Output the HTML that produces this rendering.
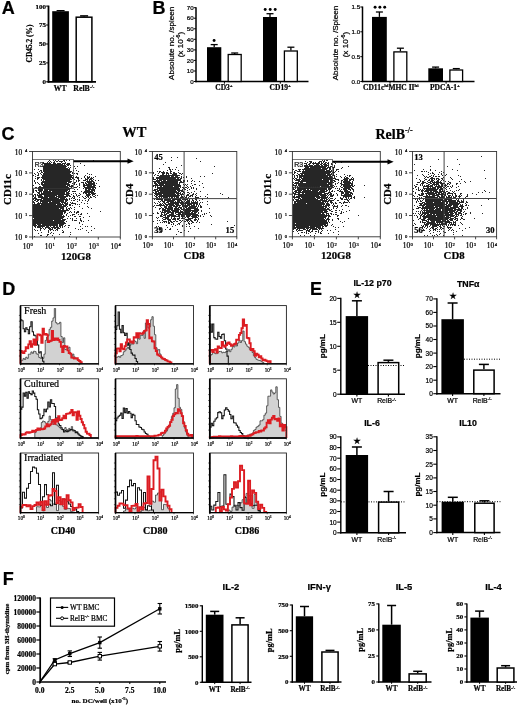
<!DOCTYPE html>
<html><head><meta charset="utf-8"><style>
html,body{margin:0;padding:0;background:#fff;width:520px;height:707px;overflow:hidden}
svg{display:block;will-change:transform}
.s{font-family:"Liberation Sans",sans-serif}
.sb{font-family:"Liberation Sans",sans-serif;font-weight:bold}
.r{font-family:"Liberation Serif",serif}
.rb{font-family:"Liberation Serif",serif;font-weight:bold}
text{stroke:#000;stroke-width:0.22px}
</style></head><body>
<svg width="520" height="707" viewBox="0 0 520 707">
<defs><filter id="bl" x="0" y="0" width="100%" height="100%"><feGaussianBlur stdDeviation="0.4"/></filter></defs>
<rect width="520" height="707" fill="#fff"/>
<g filter="url(#bl)">
<text class="sb" x="1.8" y="14.1" font-size="18">A</text>
<line x1="48.5" y1="5.6" x2="48.5" y2="82.7" stroke="#000" stroke-width="1.8"/>
<line x1="46.1" y1="6.1" x2="48.5" y2="6.1" stroke="#000" stroke-width="1"/>
<text class="rb" x="45.9" y="8.5" font-size="7" text-anchor="end">100</text>
<line x1="46.1" y1="25" x2="48.5" y2="25" stroke="#000" stroke-width="1"/>
<text class="rb" x="45.9" y="27.4" font-size="7" text-anchor="end">75</text>
<line x1="46.1" y1="44" x2="48.5" y2="44" stroke="#000" stroke-width="1"/>
<text class="rb" x="45.9" y="46.4" font-size="7" text-anchor="end">50</text>
<line x1="46.1" y1="62.9" x2="48.5" y2="62.9" stroke="#000" stroke-width="1"/>
<text class="rb" x="45.9" y="65.3" font-size="7" text-anchor="end">25</text>
<line x1="46.1" y1="81.8" x2="48.5" y2="81.8" stroke="#000" stroke-width="1"/>
<text class="rb" x="45.9" y="84.2" font-size="7" text-anchor="end">0</text>
<line x1="47.6" y1="81.8" x2="96" y2="81.8" stroke="#000" stroke-width="1.8"/>
<line x1="60.6" y1="10.6" x2="60.6" y2="11.2" stroke="#000" stroke-width="1.2"/>
<line x1="56.6" y1="10.6" x2="64.6" y2="10.6" stroke="#000" stroke-width="1.2"/>
<rect x="52.2" y="11.2" width="16.7" height="70.6" fill="#000"/>
<line x1="84.1" y1="15.9" x2="84.1" y2="16.5" stroke="#000" stroke-width="1.5"/>
<line x1="80.1" y1="15.9" x2="88.1" y2="15.9" stroke="#000" stroke-width="1.5"/>
<rect x="76.2" y="17.2" width="15.7" height="64.5" fill="#fff" stroke="#000" stroke-width="1.5"/>
<text class="rb" x="60.2" y="91.3" font-size="7.6" text-anchor="middle">WT</text>
<text class="rb" x="73.3" y="91.3" font-size="7.8">RelB<tspan dy="-3" font-size="5">-/-</tspan></text>
<text class="rb" x="32.3" y="43.5" font-size="7.4" text-anchor="middle" transform="rotate(-90 32.3 43.5)">CD45.2 (%)</text>
<text class="sb" x="152.6" y="14.1" font-size="18">B</text>
<line x1="196" y1="7.2" x2="196" y2="82.2" stroke="#000" stroke-width="1.5"/>
<line x1="193.8" y1="7.7" x2="196" y2="7.7" stroke="#000" stroke-width="1"/>
<text class="s" x="193.7" y="9.9" font-size="6.2" text-anchor="end">70</text>
<line x1="193.8" y1="18.2" x2="196" y2="18.2" stroke="#000" stroke-width="1"/>
<text class="s" x="193.7" y="20.4" font-size="6.2" text-anchor="end">60</text>
<line x1="193.8" y1="28.8" x2="196" y2="28.8" stroke="#000" stroke-width="1"/>
<text class="s" x="193.7" y="31" font-size="6.2" text-anchor="end">50</text>
<line x1="193.8" y1="39.3" x2="196" y2="39.3" stroke="#000" stroke-width="1"/>
<text class="s" x="193.7" y="41.5" font-size="6.2" text-anchor="end">40</text>
<line x1="193.8" y1="49.9" x2="196" y2="49.9" stroke="#000" stroke-width="1"/>
<text class="s" x="193.7" y="52.1" font-size="6.2" text-anchor="end">30</text>
<line x1="193.8" y1="60.4" x2="196" y2="60.4" stroke="#000" stroke-width="1"/>
<text class="s" x="193.7" y="62.6" font-size="6.2" text-anchor="end">20</text>
<line x1="193.8" y1="71" x2="196" y2="71" stroke="#000" stroke-width="1"/>
<text class="s" x="193.7" y="73.2" font-size="6.2" text-anchor="end">10</text>
<line x1="193.8" y1="81.5" x2="196" y2="81.5" stroke="#000" stroke-width="1"/>
<text class="s" x="193.7" y="83.7" font-size="6.2" text-anchor="end">0</text>
<line x1="195.2" y1="81.5" x2="308.5" y2="81.5" stroke="#000" stroke-width="1.5"/>
<line x1="214.2" y1="44.6" x2="214.2" y2="47.2" stroke="#000" stroke-width="1.3"/>
<line x1="210.7" y1="44.6" x2="217.7" y2="44.6" stroke="#000" stroke-width="1.3"/>
<rect x="207" y="47.2" width="14.3" height="34.3" fill="#000"/>
<line x1="234.7" y1="53" x2="234.7" y2="53.9" stroke="#000" stroke-width="1.3"/>
<line x1="231.2" y1="53" x2="238.2" y2="53" stroke="#000" stroke-width="1.3"/>
<rect x="228.2" y="54.5" width="13" height="27" fill="#fff" stroke="#000" stroke-width="1.3"/>
<line x1="270" y1="13.7" x2="270" y2="17" stroke="#000" stroke-width="1.3"/>
<line x1="266.5" y1="13.7" x2="273.5" y2="13.7" stroke="#000" stroke-width="1.3"/>
<rect x="263" y="17" width="14" height="64.5" fill="#000"/>
<line x1="290.9" y1="47.2" x2="290.9" y2="50.4" stroke="#000" stroke-width="1.3"/>
<line x1="287.4" y1="47.2" x2="294.4" y2="47.2" stroke="#000" stroke-width="1.3"/>
<rect x="284.4" y="51" width="12.9" height="30.5" fill="#fff" stroke="#000" stroke-width="1.3"/>
<line x1="224.4" y1="81.5" x2="224.4" y2="83.7" stroke="#000" stroke-width="1"/>
<line x1="280.3" y1="81.5" x2="280.3" y2="83.7" stroke="#000" stroke-width="1"/>
<circle cx="214.1" cy="40.5" r="1.45" fill="#000"/>
<circle cx="265.2" cy="9.5" r="1.45" fill="#000"/>
<circle cx="270.2" cy="9.5" r="1.45" fill="#000"/>
<circle cx="275.2" cy="9.5" r="1.45" fill="#000"/>
<text class="rb" x="224" y="90.3" font-size="7.5" text-anchor="middle">CD3<tspan dy="-3" font-size="5">+</tspan></text>
<text class="rb" x="280.2" y="90.3" font-size="7.5" text-anchor="middle">CD19<tspan dy="-3" font-size="5">+</tspan></text>
<text class="s" x="173.7" y="43.3" font-size="8.1" text-anchor="middle" transform="rotate(-90 173.7 43.3)" stroke="#000" stroke-width="0.25">Absolute no. /spleen</text>
<text class="s" x="183.1" y="44.6" font-size="8.1" text-anchor="middle" transform="rotate(-90 183.1 44.6)" stroke="#000" stroke-width="0.25">(x 10<tspan dy="-3" font-size="5.3">-6</tspan><tspan dy="3">)</tspan></text>
<line x1="362.5" y1="6.5" x2="362.5" y2="82.2" stroke="#000" stroke-width="1.5"/>
<line x1="360.3" y1="7" x2="362.5" y2="7" stroke="#000" stroke-width="1"/>
<text class="s" x="360.2" y="9.2" font-size="6.2" text-anchor="end">1.5</text>
<line x1="360.3" y1="31.8" x2="362.5" y2="31.8" stroke="#000" stroke-width="1"/>
<text class="s" x="360.2" y="34" font-size="6.2" text-anchor="end">1.0</text>
<line x1="360.3" y1="56.7" x2="362.5" y2="56.7" stroke="#000" stroke-width="1"/>
<text class="s" x="360.2" y="58.9" font-size="6.2" text-anchor="end">0.5</text>
<line x1="360.3" y1="81.5" x2="362.5" y2="81.5" stroke="#000" stroke-width="1"/>
<text class="s" x="360.2" y="83.7" font-size="6.2" text-anchor="end">0.0</text>
<line x1="361.8" y1="81.5" x2="474.5" y2="81.5" stroke="#000" stroke-width="1.5"/>
<line x1="379.4" y1="12" x2="379.4" y2="16.9" stroke="#000" stroke-width="1.3"/>
<line x1="375.9" y1="12" x2="382.9" y2="12" stroke="#000" stroke-width="1.3"/>
<rect x="372" y="16.9" width="14.8" height="64.6" fill="#000"/>
<line x1="400.4" y1="48.2" x2="400.4" y2="51.2" stroke="#000" stroke-width="1.3"/>
<line x1="396.9" y1="48.2" x2="403.9" y2="48.2" stroke="#000" stroke-width="1.3"/>
<rect x="393.9" y="51.9" width="12.9" height="29.6" fill="#fff" stroke="#000" stroke-width="1.3"/>
<line x1="435.6" y1="67.1" x2="435.6" y2="68.3" stroke="#000" stroke-width="1.3"/>
<line x1="432.1" y1="67.1" x2="439.1" y2="67.1" stroke="#000" stroke-width="1.3"/>
<rect x="428.3" y="68.3" width="14.7" height="13.2" fill="#000"/>
<line x1="456.3" y1="68.6" x2="456.3" y2="69.3" stroke="#000" stroke-width="1.3"/>
<line x1="452.8" y1="68.6" x2="459.8" y2="68.6" stroke="#000" stroke-width="1.3"/>
<rect x="449.9" y="70" width="12.7" height="11.5" fill="#fff" stroke="#000" stroke-width="1.3"/>
<line x1="390" y1="81.5" x2="390" y2="83.7" stroke="#000" stroke-width="1"/>
<line x1="446.1" y1="81.5" x2="446.1" y2="83.7" stroke="#000" stroke-width="1"/>
<circle cx="375.1" cy="7.2" r="1.45" fill="#000"/>
<circle cx="379.9" cy="7.2" r="1.45" fill="#000"/>
<circle cx="384.7" cy="7.2" r="1.45" fill="#000"/>
<text class="rb" x="363" y="90.3" font-size="7.5">CD11c<tspan dy="-3" font-size="5">hi</tspan><tspan dy="3">MHC II</tspan><tspan dy="-3" font-size="5">hi</tspan></text>
<text class="rb" x="445" y="90.3" font-size="7.5" text-anchor="middle">PDCA-1<tspan dy="-3" font-size="5">+</tspan></text>
<text class="s" x="337.6" y="43" font-size="8.1" text-anchor="middle" transform="rotate(-90 337.6 43)" stroke="#000" stroke-width="0.25">Absolute no. /Spleen</text>
<text class="s" x="347.6" y="44.6" font-size="8.1" text-anchor="middle" transform="rotate(-90 347.6 44.6)" stroke="#000" stroke-width="0.25">(x 10<tspan dy="-3" font-size="5.3">-6</tspan><tspan dy="3">)</tspan></text>
<text class="sb" x="1.6" y="139.6" font-size="18">C</text>
<text class="rb" x="134.4" y="137.4" font-size="14.5" text-anchor="middle">WT</text>
<text class="rb" x="394" y="138.5" font-size="14" text-anchor="middle">RelB<tspan dy="-5.5" font-size="8">-/-</tspan></text>
<path d="M49 160h1m3 0h1m1 0h1m2 0h1m4 0h1m0 0h1m1 0h1m2 0h1m23 0h1m-46 1h1m1 0h1m3 0h1m1 0h1m0 0h1m1 0h1m0 0h1m0 0h1m0 0h1m1 0h1m-22 1h1m3 0h1m1 0h1m1 0h1m1 0h1m0 0h1m6 0h1m3 0h1m-23 1h1m0 0h1m0 0h1m0 0h1m0 0h1m0 0h1m0 0h1m0 0h1m2 0h1m0 0h1m0 0h1m1 0h1m0 0h1m0 0h1m0 0h1m1 0h1m0 0h1m0 0h1m0 0h1m1 0h1m0 0h1m0 0h1m10 0h1m-37 1h1m0 0h1m0 0h1m0 0h1m0 0h1m0 0h1m0 0h1m0 0h1m0 0h1m0 0h1m0 0h1m0 0h1m0 0h1m0 0h1m0 0h1m0 0h1m0 0h1m0 0h1m0 0h1m1 0h1m1 0h1m0 0h1m0 0h1m0 0h1m-26 1h1m0 0h1m0 0h1m0 0h1m0 0h1m0 0h1m0 0h1m0 0h1m0 0h1m0 0h1m0 0h1m0 0h1m0 0h1m0 0h1m0 0h1m0 0h1m0 0h1m0 0h1m0 0h1m0 0h1m0 0h1m0 0h1m1 0h1m0 0h1m1 0h1m13 0h1m-42 1h1m0 0h1m0 0h1m0 0h1m0 0h1m0 0h1m0 0h1m0 0h1m0 0h1m0 0h1m0 0h1m0 0h1m0 0h1m0 0h1m0 0h1m0 0h1m0 0h1m0 0h1m0 0h1m0 0h1m0 0h1m0 0h1m0 0h1m0 0h1m7 0h1m2 0h1m-35 1h1m0 0h1m0 0h1m0 0h1m0 0h1m0 0h1m0 0h1m0 0h1m0 0h1m0 0h1m0 0h1m0 0h1m0 0h1m0 0h1m0 0h1m0 0h1m0 0h1m0 0h1m0 0h1m0 0h1m0 0h1m0 0h1m0 0h1m2 0h1m1 0h1m-28 1h1m0 0h1m0 0h1m0 0h1m0 0h1m0 0h1m0 0h1m0 0h1m0 0h1m0 0h1m0 0h1m0 0h1m0 0h1m0 0h1m0 0h1m0 0h1m0 0h1m0 0h1m0 0h1m0 0h1m0 0h1m0 0h1m0 0h1m0 0h1m0 0h1m1 0h1m5 0h1m-42 1h1m3 0h1m4 0h1m0 0h1m0 0h1m0 0h1m0 0h1m0 0h1m0 0h1m0 0h1m0 0h1m0 0h1m0 0h1m0 0h1m0 0h1m0 0h1m0 0h1m0 0h1m0 0h1m0 0h1m0 0h1m0 0h1m0 0h1m0 0h1m0 0h1m0 0h1m0 0h1m0 0h1m0 0h1m-30 1h1m0 0h1m1 0h1m0 0h1m0 0h1m0 0h1m0 0h1m0 0h1m0 0h1m0 0h1m0 0h1m0 0h1m0 0h1m0 0h1m0 0h1m0 0h1m0 0h1m0 0h1m0 0h1m0 0h1m0 0h1m0 0h1m0 0h1m0 0h1m0 0h1m0 0h1m0 0h1m0 0h1m0 0h1m3 0h1m2 0h1m-38 1h1m1 0h1m1 0h1m0 0h1m0 0h1m0 0h1m0 0h1m0 0h1m0 0h1m0 0h1m0 0h1m0 0h1m0 0h1m0 0h1m0 0h1m0 0h1m0 0h1m0 0h1m0 0h1m0 0h1m0 0h1m0 0h1m0 0h1m0 0h1m0 0h1m0 0h1m0 0h1m0 0h1m0 0h1m0 0h1m0 0h1m6 0h1m-42 1h1m3 0h1m0 0h1m1 0h1m0 0h1m0 0h1m0 0h1m0 0h1m0 0h1m0 0h1m0 0h1m0 0h1m0 0h1m0 0h1m0 0h1m0 0h1m0 0h1m0 0h1m0 0h1m0 0h1m0 0h1m0 0h1m0 0h1m0 0h1m0 0h1m0 0h1m0 0h1m0 0h1m0 0h1m0 0h1m1 0h1m-39 1h1m3 0h1m1 0h1m2 0h1m0 0h1m0 0h1m0 0h1m0 0h1m0 0h1m0 0h1m0 0h1m0 0h1m0 0h1m0 0h1m0 0h1m0 0h1m0 0h1m0 0h1m0 0h1m0 0h1m0 0h1m0 0h1m0 0h1m0 0h1m0 0h1m0 0h1m0 0h1m0 0h1m0 0h1m0 0h1m2 0h1m1 0h1m1 0h1m0 0h1m9 0h1m-53 1h1m2 0h1m2 0h1m1 0h1m0 0h1m0 0h1m0 0h1m0 0h1m0 0h1m0 0h1m0 0h1m0 0h1m0 0h1m0 0h1m0 0h1m0 0h1m0 0h1m0 0h1m0 0h1m0 0h1m0 0h1m0 0h1m0 0h1m0 0h1m0 0h1m0 0h1m0 0h1m0 0h1m0 0h1m0 0h1m0 0h1m6 0h1m11 0h1m1 0h1m-59 1h1m3 0h1m0 0h1m3 0h1m0 0h1m0 0h1m0 0h1m0 0h1m0 0h1m0 0h1m0 0h1m0 0h1m0 0h1m0 0h1m0 0h1m0 0h1m0 0h1m0 0h1m0 0h1m0 0h1m0 0h1m0 0h1m0 0h1m0 0h1m0 0h1m0 0h1m0 0h1m0 0h1m0 0h1m0 0h1m0 0h1m0 0h1m0 0h1m0 0h1m12 0h1m-51 1h1m6 0h1m0 0h1m0 0h1m0 0h1m0 0h1m0 0h1m0 0h1m0 0h1m0 0h1m0 0h1m0 0h1m0 0h1m0 0h1m0 0h1m0 0h1m0 0h1m0 0h1m0 0h1m0 0h1m0 0h1m0 0h1m0 0h1m0 0h1m0 0h1m0 0h1m0 0h1m0 0h1m0 0h1m0 0h1m0 0h1m1 0h1m2 0h1m7 0h1m2 0h1m1 0h1m5 0h1m-59 1h1m0 0h1m0 0h1m1 0h1m0 0h1m0 0h1m0 0h1m0 0h1m0 0h1m0 0h1m0 0h1m0 0h1m0 0h1m0 0h1m0 0h1m0 0h1m0 0h1m0 0h1m0 0h1m0 0h1m0 0h1m0 0h1m0 0h1m0 0h1m0 0h1m0 0h1m0 0h1m0 0h1m0 0h1m0 0h1m0 0h1m0 0h1m0 0h1m0 0h1m0 0h1m0 0h1m1 0h1m0 0h1m0 0h1m0 0h1m5 0h1m2 0h1m0 0h1m0 0h1m1 0h1m1 0h1m-59 1h1m1 0h1m0 0h1m3 0h1m0 0h1m0 0h1m0 0h1m0 0h1m0 0h1m0 0h1m0 0h1m0 0h1m0 0h1m0 0h1m0 0h1m0 0h1m0 0h1m0 0h1m0 0h1m0 0h1m0 0h1m0 0h1m0 0h1m0 0h1m0 0h1m0 0h1m0 0h1m0 0h1m0 0h1m0 0h1m0 0h1m0 0h1m1 0h1m0 0h1m3 0h1m0 0h1m2 0h1m3 0h1m1 0h1m0 0h1m1 0h1m0 0h1m0 0h1m-56 1h1m3 0h1m1 0h1m0 0h1m0 0h1m0 0h1m0 0h1m0 0h1m0 0h1m0 0h1m0 0h1m0 0h1m0 0h1m0 0h1m0 0h1m0 0h1m0 0h1m0 0h1m0 0h1m0 0h1m0 0h1m0 0h1m0 0h1m0 0h1m0 0h1m0 0h1m0 0h1m0 0h1m0 0h1m0 0h1m0 0h1m2 0h1m3 0h1m6 0h1m0 0h1m0 0h1m1 0h1m0 0h1m0 0h1m1 0h1m-60 1h1m6 0h1m1 0h1m1 0h1m0 0h1m0 0h1m0 0h1m0 0h1m0 0h1m0 0h1m0 0h1m0 0h1m0 0h1m0 0h1m0 0h1m0 0h1m0 0h1m0 0h1m0 0h1m0 0h1m0 0h1m0 0h1m0 0h1m0 0h1m0 0h1m0 0h1m0 0h1m0 0h1m6 0h1m1 0h1m0 0h1m3 0h1m0 0h1m0 0h1m1 0h1m1 0h1m1 0h1m0 0h1m2 0h1m2 0h1m-65 1h1m7 0h1m0 0h1m0 0h1m0 0h1m0 0h1m0 0h1m0 0h1m0 0h1m0 0h1m0 0h1m0 0h1m0 0h1m0 0h1m0 0h1m0 0h1m0 0h1m0 0h1m0 0h1m0 0h1m0 0h1m0 0h1m0 0h1m0 0h1m0 0h1m0 0h1m0 0h1m0 0h1m0 0h1m0 0h1m0 0h1m4 0h1m1 0h1m7 0h1m0 0h1m0 0h1m0 0h1m0 0h1m0 0h1m0 0h1m0 0h1m-59 1h1m1 0h1m3 0h1m0 0h1m0 0h1m0 0h1m0 0h1m0 0h1m0 0h1m0 0h1m0 0h1m0 0h1m0 0h1m0 0h1m0 0h1m0 0h1m0 0h1m0 0h1m0 0h1m0 0h1m0 0h1m0 0h1m0 0h1m0 0h1m0 0h1m0 0h1m0 0h1m0 0h1m1 0h1m0 0h1m0 0h1m3 0h1m0 0h1m5 0h1m0 0h1m0 0h1m1 0h1m1 0h1m0 0h1m0 0h1m0 0h1m0 0h1m1 0h1m0 0h1m-60 1h1m2 0h1m2 0h1m0 0h1m1 0h1m0 0h1m0 0h1m0 0h1m0 0h1m0 0h1m0 0h1m0 0h1m0 0h1m0 0h1m0 0h1m0 0h1m0 0h1m0 0h1m0 0h1m0 0h1m0 0h1m0 0h1m0 0h1m0 0h1m0 0h1m0 0h1m0 0h1m0 0h1m0 0h1m3 0h1m1 0h1m4 0h1m3 0h1m1 0h1m0 0h1m1 0h1m0 0h1m0 0h1m0 0h1m0 0h1m0 0h1m0 0h1m1 0h1m-58 1h1m1 0h1m0 0h1m0 0h1m0 0h1m0 0h1m0 0h1m0 0h1m0 0h1m0 0h1m0 0h1m0 0h1m0 0h1m0 0h1m0 0h1m0 0h1m0 0h1m0 0h1m0 0h1m0 0h1m0 0h1m0 0h1m0 0h1m0 0h1m0 0h1m0 0h1m0 0h1m0 0h1m0 0h1m0 0h1m4 0h1m1 0h1m2 0h1m3 0h1m0 0h1m1 0h1m0 0h1m0 0h1m0 0h1m0 0h1m0 0h1m0 0h1m0 0h1m0 0h1m-62 1h1m8 0h1m0 0h1m0 0h1m0 0h1m0 0h1m0 0h1m0 0h1m0 0h1m0 0h1m0 0h1m0 0h1m0 0h1m0 0h1m0 0h1m0 0h1m0 0h1m0 0h1m0 0h1m0 0h1m0 0h1m0 0h1m0 0h1m0 0h1m0 0h1m1 0h1m0 0h1m0 0h1m1 0h1m0 0h1m6 0h1m3 0h1m0 0h1m0 0h1m0 0h1m0 0h1m0 0h1m0 0h1m0 0h1m0 0h1m1 0h1m0 0h1m0 0h1m-57 1h1m0 0h1m2 0h1m0 0h1m0 0h1m0 0h1m0 0h1m0 0h1m0 0h1m0 0h1m0 0h1m0 0h1m0 0h1m0 0h1m0 0h1m0 0h1m0 0h1m0 0h1m0 0h1m0 0h1m0 0h1m0 0h1m0 0h1m0 0h1m0 0h1m0 0h1m0 0h1m1 0h1m0 0h1m0 0h1m0 0h1m4 0h1m5 0h1m0 0h1m2 0h1m0 0h1m0 0h1m0 0h1m0 0h1m0 0h1m0 0h1m0 0h1m4 0h1m-65 1h1m0 0h1m1 0h1m0 0h1m0 0h1m0 0h1m0 0h1m0 0h1m0 0h1m0 0h1m0 0h1m0 0h1m0 0h1m0 0h1m0 0h1m0 0h1m0 0h1m0 0h1m0 0h1m0 0h1m0 0h1m0 0h1m0 0h1m0 0h1m0 0h1m0 0h1m0 0h1m0 0h1m0 0h1m0 0h1m0 0h1m0 0h1m0 0h1m2 0h1m2 0h1m0 0h1m0 0h1m2 0h1m4 0h1m0 0h1m0 0h1m0 0h1m0 0h1m0 0h1m0 0h1m0 0h1m0 0h1m0 0h1m0 0h1m0 0h1m-58 1h1m0 0h1m0 0h1m0 0h1m0 0h1m0 0h1m0 0h1m0 0h1m0 0h1m0 0h1m0 0h1m0 0h1m0 0h1m0 0h1m0 0h1m0 0h1m0 0h1m0 0h1m0 0h1m0 0h1m0 0h1m0 0h1m0 0h1m0 0h1m0 0h1m0 0h1m0 0h1m0 0h1m0 0h1m0 0h1m0 0h1m0 0h1m0 0h1m12 0h1m1 0h1m0 0h1m0 0h1m0 0h1m0 0h1m0 0h1m1 0h1m0 0h1m1 0h1m-63 1h1m4 0h1m0 0h1m0 0h1m0 0h1m0 0h1m1 0h1m0 0h1m0 0h1m0 0h1m0 0h1m0 0h1m0 0h1m0 0h1m0 0h1m0 0h1m0 0h1m0 0h1m0 0h1m0 0h1m0 0h1m0 0h1m0 0h1m0 0h1m0 0h1m0 0h1m0 0h1m0 0h1m0 0h1m0 0h1m0 0h1m0 0h1m4 0h1m2 0h1m7 0h1m0 0h1m1 0h1m0 0h1m0 0h1m0 0h1m0 0h1m0 0h1m0 0h1m-62 1h1m1 0h1m0 0h1m1 0h1m0 0h1m0 0h1m0 0h1m0 0h1m1 0h1m0 0h1m0 0h1m0 0h1m1 0h1m0 0h1m0 0h1m0 0h1m0 0h1m0 0h1m0 0h1m0 0h1m0 0h1m0 0h1m0 0h1m0 0h1m0 0h1m0 0h1m0 0h1m0 0h1m0 0h1m0 0h1m0 0h1m1 0h1m15 0h1m0 0h1m0 0h1m0 0h1m0 0h1m1 0h1m0 0h1m0 0h1m0 0h1m-62 1h1m2 0h1m2 0h1m0 0h1m0 0h1m1 0h1m0 0h1m0 0h1m0 0h1m0 0h1m0 0h1m0 0h1m0 0h1m1 0h1m0 0h1m0 0h1m0 0h1m0 0h1m0 0h1m0 0h1m0 0h1m0 0h1m0 0h1m0 0h1m0 0h1m0 0h1m0 0h1m0 0h1m1 0h1m0 0h1m2 0h1m0 0h1m0 0h1m0 0h1m5 0h1m2 0h1m0 0h1m0 0h1m0 0h1m0 0h1m0 0h1m0 0h1m0 0h1m0 0h1m1 0h1m-62 1h1m3 0h1m0 0h1m0 0h1m1 0h1m1 0h1m0 0h1m0 0h1m0 0h1m0 0h1m0 0h1m0 0h1m0 0h1m0 0h1m0 0h1m0 0h1m0 0h1m0 0h1m0 0h1m0 0h1m0 0h1m0 0h1m0 0h1m0 0h1m0 0h1m0 0h1m0 0h1m1 0h1m0 0h1m0 0h1m14 0h1m0 0h1m0 0h1m0 0h1m0 0h1m0 0h1m0 0h1m0 0h1m0 0h1m0 0h1m0 0h1m-56 1h1m0 0h1m1 0h1m0 0h1m0 0h1m0 0h1m0 0h1m0 0h1m0 0h1m0 0h1m0 0h1m0 0h1m0 0h1m0 0h1m0 0h1m0 0h1m0 0h1m0 0h1m0 0h1m0 0h1m0 0h1m0 0h1m0 0h1m0 0h1m0 0h1m0 0h1m1 0h1m0 0h1m0 0h1m0 0h1m3 0h1m1 0h1m3 0h1m3 0h1m1 0h1m0 0h1m1 0h1m0 0h1m1 0h1m0 0h1m0 0h1m0 0h1m0 0h1m-62 1h1m0 0h1m1 0h1m1 0h1m0 0h1m0 0h1m0 0h1m0 0h1m0 0h1m0 0h1m0 0h1m0 0h1m0 0h1m0 0h1m0 0h1m0 0h1m0 0h1m0 0h1m0 0h1m0 0h1m0 0h1m0 0h1m0 0h1m0 0h1m0 0h1m0 0h1m0 0h1m0 0h1m0 0h1m0 0h1m0 0h1m0 0h1m0 0h1m2 0h1m4 0h1m3 0h1m5 0h1m0 0h1m0 0h1m0 0h1m0 0h1m1 0h1m0 0h1m0 0h1m-62 1h1m1 0h1m1 0h1m0 0h1m0 0h1m0 0h1m0 0h1m2 0h1m0 0h1m0 0h1m0 0h1m0 0h1m0 0h1m0 0h1m0 0h1m0 0h1m0 0h1m0 0h1m0 0h1m0 0h1m1 0h1m0 0h1m0 0h1m0 0h1m0 0h1m0 0h1m2 0h1m0 0h1m0 0h1m0 0h1m3 0h1m2 0h1m1 0h1m0 0h1m6 0h1m0 0h1m0 0h1m0 0h1m2 0h1m2 0h1m1 0h1m-65 1h1m1 0h1m2 0h1m0 0h1m0 0h1m0 0h1m0 0h1m1 0h1m0 0h1m0 0h1m0 0h1m0 0h1m0 0h1m0 0h1m0 0h1m0 0h1m0 0h1m0 0h1m1 0h1m0 0h1m0 0h1m0 0h1m0 0h1m0 0h1m0 0h1m0 0h1m0 0h1m0 0h1m0 0h1m0 0h1m1 0h1m0 0h1m2 0h1m0 0h1m2 0h1m4 0h1m2 0h1m1 0h1m0 0h1m1 0h1m2 0h1m0 0h1m-61 1h1m0 0h1m2 0h1m0 0h1m0 0h1m0 0h1m0 0h1m0 0h1m0 0h1m0 0h1m0 0h1m0 0h1m1 0h1m0 0h1m0 0h1m0 0h1m0 0h1m0 0h1m0 0h1m0 0h1m1 0h1m0 0h1m0 0h1m0 0h1m0 0h1m0 0h1m0 0h1m0 0h1m6 0h1m1 0h1m4 0h1m3 0h1m2 0h1m1 0h1m1 0h1m0 0h1m3 0h1m-63 1h1m0 0h1m0 0h1m0 0h1m4 0h1m0 0h1m0 0h1m0 0h1m0 0h1m0 0h1m0 0h1m0 0h1m0 0h1m0 0h1m0 0h1m0 0h1m0 0h1m0 0h1m0 0h1m0 0h1m0 0h1m0 0h1m1 0h1m0 0h1m0 0h1m0 0h1m0 0h1m1 0h1m2 0h1m1 0h1m1 0h1m0 0h1m9 0h1m0 0h1m3 0h1m-57 1h1m1 0h1m0 0h1m0 0h1m0 0h1m0 0h1m0 0h1m0 0h1m1 0h1m0 0h1m0 0h1m0 0h1m0 0h1m0 0h1m0 0h1m0 0h1m0 0h1m0 0h1m0 0h1m0 0h1m0 0h1m0 0h1m0 0h1m0 0h1m0 0h1m0 0h1m0 0h1m0 0h1m0 0h1m0 0h1m0 0h1m0 0h1m0 0h1m1 0h1m5 0h1m1 0h1m1 0h1m8 0h1m-55 1h1m0 0h1m1 0h1m0 0h1m1 0h1m0 0h1m0 0h1m0 0h1m0 0h1m0 0h1m0 0h1m0 0h1m0 0h1m0 0h1m0 0h1m0 0h1m0 0h1m0 0h1m0 0h1m0 0h1m0 0h1m0 0h1m0 0h1m0 0h1m0 0h1m0 0h1m0 0h1m0 0h1m1 0h1m0 0h1m0 0h1m3 0h1m1 0h1m0 0h1m4 0h1m2 0h1m2 0h1m2 0h1m-56 1h1m2 0h1m0 0h1m2 0h1m0 0h1m0 0h1m0 0h1m0 0h1m0 0h1m0 0h1m0 0h1m0 0h1m0 0h1m0 0h1m1 0h1m0 0h1m0 0h1m0 0h1m0 0h1m0 0h1m0 0h1m0 0h1m0 0h1m0 0h1m0 0h1m0 0h1m1 0h1m0 0h1m10 0h1m9 0h1m-55 1h1m0 0h1m3 0h1m1 0h1m1 0h1m0 0h1m0 0h1m0 0h1m0 0h1m0 0h1m1 0h1m0 0h1m0 0h1m0 0h1m0 0h1m0 0h1m0 0h1m0 0h1m0 0h1m0 0h1m0 0h1m1 0h1m0 0h1m0 0h1m0 0h1m0 0h1m1 0h1m2 0h1m1 0h1m8 0h1m-48 1h1m2 0h1m0 0h1m0 0h1m0 0h1m0 0h1m0 0h1m0 0h1m0 0h1m0 0h1m0 0h1m0 0h1m0 0h1m0 0h1m0 0h1m0 0h1m0 0h1m0 0h1m0 0h1m0 0h1m0 0h1m0 0h1m0 0h1m0 0h1m0 0h1m1 0h1m1 0h1m0 0h1m0 0h1m0 0h1m3 0h1m0 0h1m0 0h1m0 0h1m0 0h1m8 0h1m2 0h1m-55 1h1m0 0h1m0 0h1m0 0h1m0 0h1m0 0h1m0 0h1m1 0h1m0 0h1m0 0h1m0 0h1m0 0h1m0 0h1m0 0h1m0 0h1m0 0h1m0 0h1m0 0h1m0 0h1m0 0h1m0 0h1m0 0h1m1 0h1m0 0h1m0 0h1m0 0h1m0 0h1m0 0h1m0 0h1m1 0h1m0 0h1m0 0h1m1 0h1m0 0h1m4 0h1m1 0h1m1 0h1m-47 1h1m0 0h1m0 0h1m0 0h1m0 0h1m0 0h1m0 0h1m0 0h1m0 0h1m0 0h1m0 0h1m0 0h1m0 0h1m0 0h1m0 0h1m0 0h1m0 0h1m0 0h1m0 0h1m0 0h1m0 0h1m0 0h1m0 0h1m0 0h1m0 0h1m0 0h1m0 0h1m0 0h1m0 0h1m1 0h1m0 0h1m0 0h1m0 0h1m2 0h1m0 0h1m1 0h1m-40 1h1m0 0h1m0 0h1m0 0h1m0 0h1m0 0h1m0 0h1m0 0h1m0 0h1m0 0h1m0 0h1m0 0h1m0 0h1m0 0h1m0 0h1m0 0h1m0 0h1m0 0h1m0 0h1m0 0h1m0 0h1m0 0h1m0 0h1m0 0h1m0 0h1m0 0h1m0 0h1m0 0h1m0 0h1m0 0h1m0 0h1m0 0h1m0 0h1m1 0h1m11 0h1m7 0h1m-55 1h1m0 0h1m0 0h1m0 0h1m0 0h1m0 0h1m0 0h1m0 0h1m0 0h1m0 0h1m0 0h1m0 0h1m0 0h1m0 0h1m0 0h1m0 0h1m0 0h1m0 0h1m0 0h1m0 0h1m0 0h1m0 0h1m0 0h1m0 0h1m0 0h1m0 0h1m0 0h1m0 0h1m0 0h1m0 0h1m0 0h1m2 0h1m3 0h1m3 0h1m13 0h1m-56 1h1m0 0h1m0 0h1m0 0h1m0 0h1m0 0h1m0 0h1m0 0h1m0 0h1m0 0h1m0 0h1m0 0h1m0 0h1m0 0h1m0 0h1m0 0h1m0 0h1m0 0h1m0 0h1m0 0h1m0 0h1m0 0h1m0 0h1m0 0h1m0 0h1m0 0h1m1 0h1m0 0h1m0 0h1m0 0h1m2 0h1m1 0h1m0 0h1m1 0h1m10 0h1m8 0h1m-59 1h1m0 0h1m0 0h1m0 0h1m0 0h1m0 0h1m0 0h1m0 0h1m0 0h1m0 0h1m0 0h1m0 0h1m0 0h1m0 0h1m0 0h1m0 0h1m0 0h1m0 0h1m0 0h1m0 0h1m0 0h1m0 0h1m0 0h1m0 0h1m0 0h1m0 0h1m0 0h1m0 0h1m1 0h1m0 0h1m2 0h1m0 0h1m1 0h1m4 0h1m-42 1h1m0 0h1m0 0h1m0 0h1m0 0h1m0 0h1m0 0h1m0 0h1m0 0h1m0 0h1m0 0h1m0 0h1m0 0h1m0 0h1m0 0h1m0 0h1m0 0h1m0 0h1m0 0h1m0 0h1m0 0h1m0 0h1m0 0h1m0 0h1m0 0h1m0 0h1m0 0h1m0 0h1m0 0h1m0 0h1m0 0h1m0 0h1m0 0h1m0 0h1m0 0h1m0 0h1m-36 1h1m0 0h1m0 0h1m0 0h1m0 0h1m0 0h1m0 0h1m0 0h1m0 0h1m0 0h1m0 0h1m0 0h1m0 0h1m0 0h1m0 0h1m0 0h1m0 0h1m0 0h1m0 0h1m0 0h1m0 0h1m0 0h1m0 0h1m0 0h1m0 0h1m0 0h1m0 0h1m0 0h1m0 0h1m0 0h1m0 0h1m0 0h1m0 0h1m4 0h1m3 0h1m2 0h1m0 0h1m21 0h1m-68 1h1m0 0h1m0 0h1m0 0h1m0 0h1m0 0h1m0 0h1m0 0h1m0 0h1m0 0h1m0 0h1m0 0h1m0 0h1m0 0h1m0 0h1m0 0h1m0 0h1m0 0h1m0 0h1m0 0h1m0 0h1m0 0h1m0 0h1m0 0h1m0 0h1m0 0h1m0 0h1m0 0h1m0 0h1m0 0h1m1 0h1m0 0h1m3 0h1m1 0h1m2 0h1m1 0h1m0 0h1m0 0h1m-46 1h1m0 0h1m0 0h1m0 0h1m0 0h1m0 0h1m0 0h1m0 0h1m0 0h1m0 0h1m0 0h1m0 0h1m0 0h1m0 0h1m0 0h1m0 0h1m0 0h1m0 0h1m0 0h1m0 0h1m0 0h1m0 0h1m0 0h1m0 0h1m0 0h1m0 0h1m0 0h1m0 0h1m0 0h1m0 0h1m1 0h1m2 0h1m8 0h1m4 0h1m5 0h1m-55 1h1m0 0h1m0 0h1m0 0h1m0 0h1m0 0h1m0 0h1m0 0h1m0 0h1m0 0h1m0 0h1m0 0h1m0 0h1m0 0h1m0 0h1m0 0h1m0 0h1m0 0h1m0 0h1m0 0h1m0 0h1m0 0h1m0 0h1m0 0h1m0 0h1m0 0h1m0 0h1m0 0h1m0 0h1m0 0h1m3 0h1m5 0h1m0 0h1m0 0h1m3 0h1m1 0h1m0 0h1m-49 1h1m0 0h1m0 0h1m0 0h1m0 0h1m0 0h1m0 0h1m0 0h1m0 0h1m0 0h1m0 0h1m0 0h1m0 0h1m0 0h1m0 0h1m0 0h1m0 0h1m0 0h1m0 0h1m0 0h1m0 0h1m0 0h1m0 0h1m0 0h1m0 0h1m0 0h1m0 0h1m0 0h1m0 0h1m1 0h1m2 0h1m3 0h1m1 0h1m-40 1h1m0 0h1m0 0h1m0 0h1m0 0h1m0 0h1m0 0h1m0 0h1m0 0h1m0 0h1m0 0h1m0 0h1m0 0h1m0 0h1m0 0h1m0 0h1m0 0h1m0 0h1m0 0h1m0 0h1m0 0h1m0 0h1m0 0h1m0 0h1m0 0h1m0 0h1m0 0h1m0 0h1m0 0h1m0 0h1m0 0h1m0 0h1m3 0h1m5 0h1m0 0h1m3 0h1m0 0h1m8 0h1m-57 1h1m0 0h1m0 0h1m0 0h1m0 0h1m0 0h1m0 0h1m0 0h1m0 0h1m0 0h1m0 0h1m0 0h1m0 0h1m0 0h1m0 0h1m0 0h1m0 0h1m0 0h1m0 0h1m0 0h1m0 0h1m0 0h1m0 0h1m0 0h1m0 0h1m0 0h1m0 0h1m0 0h1m0 0h1m0 0h1m0 0h1m19 0h1m-50 1h1m0 0h1m0 0h1m0 0h1m0 0h1m0 0h1m0 0h1m0 0h1m0 0h1m0 0h1m0 0h1m0 0h1m0 0h1m0 0h1m0 0h1m0 0h1m0 0h1m0 0h1m0 0h1m0 0h1m0 0h1m0 0h1m0 0h1m0 0h1m0 0h1m0 0h1m0 0h1m0 0h1m0 0h1m4 0h1m2 0h1m1 0h1m3 0h1m3 0h1m-48 1h1m0 0h1m0 0h1m0 0h1m0 0h1m0 0h1m0 0h1m0 0h1m0 0h1m0 0h1m0 0h1m0 0h1m0 0h1m0 0h1m0 0h1m0 0h1m0 0h1m0 0h1m0 0h1m0 0h1m0 0h1m0 0h1m0 0h1m0 0h1m0 0h1m0 0h1m0 0h1m0 0h1m1 0h1m0 0h1m0 0h1m0 0h1m6 0h1m7 0h1m-48 1h1m0 0h1m0 0h1m0 0h1m0 0h1m0 0h1m0 0h1m0 0h1m0 0h1m0 0h1m0 0h1m0 0h1m0 0h1m0 0h1m0 0h1m0 0h1m0 0h1m0 0h1m0 0h1m0 0h1m1 0h1m0 0h1m0 0h1m0 0h1m0 0h1m0 0h1m0 0h1m0 0h1m0 0h1m0 0h1m0 0h1m7 0h1m1 0h1m0 0h1m0 0h1m3 0h1m0 0h1m6 0h1m-56 1h1m0 0h1m0 0h1m0 0h1m0 0h1m0 0h1m0 0h1m0 0h1m0 0h1m0 0h1m0 0h1m0 0h1m0 0h1m0 0h1m0 0h1m0 0h1m0 0h1m0 0h1m0 0h1m0 0h1m0 0h1m0 0h1m0 0h1m0 0h1m0 0h1m0 0h1m0 0h1m0 0h1m0 0h1m0 0h1m0 0h1m2 0h1m14 0h1m1 0h1m-51 1h1m0 0h1m0 0h1m0 0h1m0 0h1m0 0h1m0 0h1m0 0h1m0 0h1m0 0h1m0 0h1m0 0h1m0 0h1m0 0h1m0 0h1m0 0h1m0 0h1m0 0h1m0 0h1m0 0h1m0 0h1m0 0h1m0 0h1m0 0h1m0 0h1m0 0h1m0 0h1m0 0h1m0 0h1m0 0h1m0 0h1m0 0h1m14 0h1m-47 1h1m0 0h1m0 0h1m0 0h1m0 0h1m0 0h1m0 0h1m0 0h1m0 0h1m0 0h1m0 0h1m0 0h1m0 0h1m0 0h1m0 0h1m0 0h1m0 0h1m0 0h1m0 0h1m0 0h1m0 0h1m0 0h1m0 0h1m0 0h1m0 0h1m0 0h1m0 0h1m0 0h1m0 0h1m0 0h1m0 0h1m0 0h1m0 0h1m13 0h1m-47 1h1m0 0h1m0 0h1m1 0h1m0 0h1m0 0h1m0 0h1m1 0h1m0 0h1m0 0h1m0 0h1m0 0h1m0 0h1m0 0h1m0 0h1m0 0h1m0 0h1m0 0h1m0 0h1m0 0h1m0 0h1m0 0h1m0 0h1m1 0h1m0 0h1m0 0h1m0 0h1m0 0h1m18 0h1m-50 1h1m0 0h1m0 0h1m0 0h1m1 0h1m0 0h1m0 0h1m0 0h1m0 0h1m0 0h1m0 0h1m0 0h1m0 0h1m0 0h1m0 0h1m0 0h1m0 0h1m0 0h1m0 0h1m0 0h1m0 0h1m0 0h1m0 0h1m0 0h1m1 0h1m0 0h1m0 0h1m0 0h1m2 0h1m2 0h1m0 0h1m-36 1h1m0 0h1m1 0h1m0 0h1m0 0h1m0 0h1m0 0h1m0 0h1m0 0h1m0 0h1m1 0h1m0 0h1m0 0h1m1 0h1m2 0h1m0 0h1m1 0h1m0 0h1m1 0h1m0 0h1m1 0h1m1 0h1m15 0h1m4 0h1m1 0h1m3 0h1m-57 1h1m1 0h1m0 0h1m0 0h1m0 0h1m1 0h1m2 0h1m0 0h1m0 0h1m0 0h1m0 0h1m1 0h1m0 0h1m0 0h1m0 0h1m0 0h1m0 0h1m0 0h1m0 0h1m1 0h1m1 0h1m5 0h1m-29 1h1m0 0h1m1 0h1m1 0h1m2 0h1m0 0h1m0 0h1m1 0h1m1 0h1m0 0h1m1 0h1m0 0h1m0 0h1m15 0h1m6 0h1m11 0h1m-61 1h1m5 0h1m3 0h1m4 0h1m0 0h1m0 0h1m0 0h1m3 0h1m0 0h1m20 0h1m1 0h1m-46 1h1m1 0h1m2 0h1m7 0h1m1 0h1m2 0h1m1 0h1m1 0h1m4 0h1m23 0h1m4 0h1m-44 1h1m14 0h1m-23 1h1m6 0h1m2 0h1m10 0h1m0 0h1m6 0h1m17 0h1m-51 1h1m11 0h1m2 0h1m-7 1h1m0 0h1m10 0h1m10 0h1m-31 1h1m0 0h1m5 0h1m4 0h1m-19 1h1m11 0h1m22 0h1" stroke="#262626" stroke-width="1" transform="translate(0 0.5)" fill="none"/>
<rect x="32.5" y="159.5" width="41" height="28.8" fill="none" stroke="#444" stroke-width="0.7"/>
<line x1="32.5" y1="188.3" x2="73.5" y2="188.3" stroke="#222" stroke-width="0.8" stroke-dasharray="1 1"/>
<text class="s" x="34.8" y="167.3" font-size="6.8" fill="#222">R3</text>
<rect x="32.5" y="151.5" width="87.8" height="85.5" fill="none" stroke="#333" stroke-width="0.9"/>
<line x1="29" y1="151.5" x2="32.5" y2="151.5" stroke="#333" stroke-width="0.9"/>
<line x1="32.5" y1="237" x2="32.5" y2="239.5" stroke="#333" stroke-width="0.9"/>
<line x1="29" y1="172.9" x2="32.5" y2="172.9" stroke="#333" stroke-width="0.9"/>
<line x1="54.5" y1="237" x2="54.5" y2="239.5" stroke="#333" stroke-width="0.9"/>
<line x1="29" y1="194.2" x2="32.5" y2="194.2" stroke="#333" stroke-width="0.9"/>
<line x1="76.4" y1="237" x2="76.4" y2="239.5" stroke="#333" stroke-width="0.9"/>
<line x1="29" y1="215.6" x2="32.5" y2="215.6" stroke="#333" stroke-width="0.9"/>
<line x1="98.3" y1="237" x2="98.3" y2="239.5" stroke="#333" stroke-width="0.9"/>
<line x1="29" y1="237" x2="32.5" y2="237" stroke="#333" stroke-width="0.9"/>
<line x1="120.3" y1="237" x2="120.3" y2="239.5" stroke="#333" stroke-width="0.9"/>
<text class="r" x="27.2" y="154.6" font-size="7.4" text-anchor="end" fill="#000" stroke="#000" stroke-width="0.25">10<tspan dx="2.8" dy="-2.3" font-size="4.6">4</tspan></text>
<text class="r" x="27.2" y="176" font-size="7.4" text-anchor="end" fill="#000" stroke="#000" stroke-width="0.25">10<tspan dx="2.8" dy="-2.3" font-size="4.6">3</tspan></text>
<text class="r" x="27.2" y="197.3" font-size="7.4" text-anchor="end" fill="#000" stroke="#000" stroke-width="0.25">10<tspan dx="2.8" dy="-2.3" font-size="4.6">2</tspan></text>
<text class="r" x="27.2" y="218.7" font-size="7.4" text-anchor="end" fill="#000" stroke="#000" stroke-width="0.25">10<tspan dx="2.8" dy="-2.3" font-size="4.6">1</tspan></text>
<text class="r" x="27.2" y="240.1" font-size="7.4" text-anchor="end" fill="#000" stroke="#000" stroke-width="0.25">10<tspan dx="2.8" dy="-2.3" font-size="4.6">0</tspan></text>
<text class="r" x="32.9" y="248.6" font-size="7.4" text-anchor="end" fill="#000">10<tspan dx="0.5" dy="-2.3" font-size="4.6">0</tspan></text>
<text class="r" x="54.9" y="248.6" font-size="7.4" text-anchor="end" fill="#000">10<tspan dx="0.5" dy="-2.3" font-size="4.6">1</tspan></text>
<text class="r" x="76.8" y="248.6" font-size="7.4" text-anchor="end" fill="#000">10<tspan dx="0.5" dy="-2.3" font-size="4.6">2</tspan></text>
<text class="r" x="98.8" y="248.6" font-size="7.4" text-anchor="end" fill="#000">10<tspan dx="0.5" dy="-2.3" font-size="4.6">3</tspan></text>
<text class="r" x="120.7" y="248.6" font-size="7.4" text-anchor="end" fill="#000">10<tspan dx="0.5" dy="-2.3" font-size="4.6">4</tspan></text>
<text class="rb" x="75.9" y="259.6" font-size="10.8" text-anchor="middle">120G8</text>
<text class="rb" x="11.3" y="189.6" font-size="10.8" text-anchor="middle" transform="rotate(-90 11.3 189.6)">CD11c</text>
<line x1="73.5" y1="161.2" x2="129" y2="161.2" stroke="#000" stroke-width="2"/>
<path d="M133.7 161.2 L127.5 158.6 L127.5 163.8 Z" fill="#000"/>
<path d="M171 157h1m5 0h1m18 1h1m-26 2h1m28 1h1m-36 1h1m-3 2h1m17 1h1m32 1h1m-47 1h1m0 0h1m6 0h1m-18 1h1m9 0h1m-1 1h1m0 0h1m1 0h1m2 0h1m-9 1h1m2 0h1m7 0h1m-22 1h1m1 0h1m0 0h1m2 0h1m6 0h1m0 0h1m-19 1h1m5 0h1m1 0h1m0 0h1m0 0h1m0 0h1m1 0h1m0 0h1m2 0h1m2 0h1m0 0h1m3 0h1m-26 1h1m4 0h1m3 0h1m0 0h1m0 0h1m1 0h1m0 0h1m0 0h1m1 0h1m0 0h1m1 0h1m0 0h1m0 0h1m0 0h1m2 0h1m0 0h1m1 0h1m29 0h1m-58 1h1m6 0h1m0 0h1m2 0h1m1 0h1m3 0h1m0 0h1m0 0h1m0 0h1m0 0h1m4 0h1m-28 1h1m2 0h1m0 0h1m1 0h1m0 0h1m0 0h1m0 0h1m0 0h1m0 0h1m0 0h1m0 0h1m0 0h1m0 0h1m0 0h1m0 0h1m0 0h1m0 0h1m0 0h1m0 0h1m0 0h1m0 0h1m0 0h1m0 0h1m-21 1h1m0 0h1m0 0h1m0 0h1m0 0h1m0 0h1m0 0h1m0 0h1m0 0h1m0 0h1m0 0h1m1 0h1m0 0h1m0 0h1m1 0h1m0 0h1m0 0h1m3 0h1m4 0h1m13 0h1m3 0h1m-52 1h1m2 0h1m0 0h1m0 0h1m0 0h1m0 0h1m0 0h1m0 0h1m0 0h1m0 0h1m0 0h1m0 0h1m0 0h1m0 0h1m0 0h1m0 0h1m0 0h1m0 0h1m0 0h1m0 0h1m0 0h1m0 0h1m0 0h1m0 0h1m0 0h1m1 0h1m1 0h1m2 0h1m-34 1h1m2 0h1m0 0h1m0 0h1m0 0h1m0 0h1m0 0h1m0 0h1m0 0h1m0 0h1m0 0h1m0 0h1m0 0h1m0 0h1m0 0h1m0 0h1m0 0h1m0 0h1m0 0h1m0 0h1m0 0h1m1 0h1m0 0h1m1 0h1m0 0h1m9 0h1m-39 1h1m0 0h1m0 0h1m1 0h1m1 0h1m0 0h1m0 0h1m0 0h1m0 0h1m0 0h1m0 0h1m0 0h1m0 0h1m0 0h1m0 0h1m0 0h1m0 0h1m0 0h1m0 0h1m0 0h1m0 0h1m0 0h1m0 0h1m0 0h1m0 0h1m0 0h1m-25 1h1m0 0h1m0 0h1m0 0h1m0 0h1m0 0h1m1 0h1m0 0h1m0 0h1m1 0h1m0 0h1m0 0h1m0 0h1m0 0h1m0 0h1m0 0h1m0 0h1m0 0h1m0 0h1m0 0h1m0 0h1m0 0h1m0 0h1m2 0h1m0 0h1m2 0h1m4 0h1m-40 1h1m0 0h1m0 0h1m0 0h1m0 0h1m0 0h1m0 0h1m1 0h1m0 0h1m0 0h1m0 0h1m0 0h1m0 0h1m0 0h1m0 0h1m0 0h1m0 0h1m0 0h1m0 0h1m0 0h1m0 0h1m0 0h1m0 0h1m0 0h1m2 0h1m0 0h1m1 0h1m0 0h1m2 0h1m3 0h1m2 0h1m4 0h1m-46 1h1m0 0h1m1 0h1m0 0h1m0 0h1m0 0h1m0 0h1m0 0h1m0 0h1m0 0h1m0 0h1m0 0h1m0 0h1m0 0h1m0 0h1m0 0h1m0 0h1m0 0h1m0 0h1m0 0h1m0 0h1m0 0h1m0 0h1m1 0h1m0 0h1m0 0h1m0 0h1m0 0h1m-30 1h1m0 0h1m0 0h1m1 0h1m0 0h1m0 0h1m0 0h1m0 0h1m0 0h1m0 0h1m0 0h1m0 0h1m0 0h1m0 0h1m0 0h1m0 0h1m0 0h1m0 0h1m0 0h1m0 0h1m0 0h1m0 0h1m0 0h1m1 0h1m11 0h1m10 0h1m-48 1h1m0 0h1m0 0h1m1 0h1m0 0h1m0 0h1m0 0h1m0 0h1m1 0h1m0 0h1m0 0h1m0 0h1m0 0h1m0 0h1m0 0h1m0 0h1m0 0h1m0 0h1m0 0h1m0 0h1m0 0h1m0 0h1m0 0h1m3 0h1m1 0h1m1 0h1m6 0h1m0 0h1m-43 1h1m0 0h1m0 0h1m0 0h1m0 0h1m0 0h1m0 0h1m0 0h1m0 0h1m0 0h1m0 0h1m0 0h1m0 0h1m0 0h1m0 0h1m0 0h1m0 0h1m0 0h1m0 0h1m0 0h1m0 0h1m0 0h1m0 0h1m0 0h1m0 0h1m0 0h1m0 0h1m0 0h1m3 0h1m1 0h1m5 0h1m6 0h1m-47 1h1m1 0h1m1 0h1m2 0h1m0 0h1m1 0h1m0 0h1m0 0h1m0 0h1m0 0h1m0 0h1m0 0h1m0 0h1m0 0h1m0 0h1m1 0h1m0 0h1m0 0h1m0 0h1m0 0h1m0 0h1m0 0h1m6 0h1m2 0h1m-36 1h1m1 0h1m0 0h1m0 0h1m0 0h1m0 0h1m0 0h1m0 0h1m0 0h1m0 0h1m0 0h1m0 0h1m0 0h1m0 0h1m0 0h1m0 0h1m0 0h1m0 0h1m0 0h1m0 0h1m0 0h1m0 0h1m0 0h1m1 0h1m1 0h1m0 0h1m1 0h1m0 0h1m1 0h1m2 0h1m1 0h1m9 0h1m-47 1h1m0 0h1m0 0h1m0 0h1m0 0h1m0 0h1m0 0h1m0 0h1m0 0h1m0 0h1m0 0h1m0 0h1m0 0h1m0 0h1m0 0h1m0 0h1m0 0h1m0 0h1m0 0h1m0 0h1m0 0h1m0 0h1m0 0h1m3 0h1m0 0h1m2 0h1m3 0h1m1 0h1m2 0h1m-43 1h1m0 0h1m0 0h1m0 0h1m1 0h1m0 0h1m0 0h1m0 0h1m0 0h1m0 0h1m0 0h1m0 0h1m0 0h1m0 0h1m0 0h1m0 0h1m0 0h1m0 0h1m0 0h1m0 0h1m0 0h1m0 0h1m0 0h1m0 0h1m0 0h1m2 0h1m1 0h1m0 0h1m3 0h1m6 0h1m-44 1h1m0 0h1m0 0h1m1 0h1m0 0h1m0 0h1m0 0h1m0 0h1m0 0h1m0 0h1m0 0h1m0 0h1m0 0h1m0 0h1m0 0h1m0 0h1m0 0h1m0 0h1m0 0h1m0 0h1m0 0h1m0 0h1m1 0h1m0 0h1m0 0h1m0 0h1m0 0h1m0 0h1m4 0h1m-33 1h1m0 0h1m0 0h1m0 0h1m1 0h1m0 0h1m0 0h1m0 0h1m0 0h1m0 0h1m0 0h1m0 0h1m0 0h1m0 0h1m0 0h1m0 0h1m0 0h1m0 0h1m0 0h1m0 0h1m0 0h1m1 0h1m0 0h1m1 0h1m0 0h1m0 0h1m10 0h1m5 0h1m-48 1h1m1 0h1m0 0h1m1 0h1m0 0h1m0 0h1m0 0h1m0 0h1m0 0h1m0 0h1m0 0h1m0 0h1m0 0h1m0 0h1m0 0h1m0 0h1m0 0h1m0 0h1m0 0h1m0 0h1m0 0h1m0 0h1m0 0h1m0 0h1m1 0h1m2 0h1m0 0h1m2 0h1m0 0h1m2 0h1m-38 1h1m0 0h1m0 0h1m0 0h1m0 0h1m0 0h1m0 0h1m0 0h1m0 0h1m0 0h1m0 0h1m0 0h1m0 0h1m0 0h1m0 0h1m0 0h1m0 0h1m0 0h1m0 0h1m0 0h1m0 0h1m1 0h1m0 0h1m0 0h1m0 0h1m0 0h1m1 0h1m1 0h1m4 0h1m3 0h1m2 0h1m23 0h1m-66 1h1m0 0h1m0 0h1m0 0h1m0 0h1m0 0h1m0 0h1m1 0h1m0 0h1m0 0h1m0 0h1m0 0h1m0 0h1m0 0h1m0 0h1m0 0h1m0 0h1m0 0h1m0 0h1m0 0h1m1 0h1m0 0h1m1 0h1m0 0h1m0 0h1m0 0h1m3 0h1m0 0h1m3 0h1m0 0h1m1 0h1m11 0h1m14 0h1m-69 1h1m1 0h1m0 0h1m1 0h1m0 0h1m0 0h1m0 0h1m0 0h1m0 0h1m0 0h1m0 0h1m0 0h1m0 0h1m0 0h1m0 0h1m0 0h1m0 0h1m0 0h1m0 0h1m0 0h1m0 0h1m0 0h1m0 0h1m0 0h1m1 0h1m4 0h1m0 0h1m0 0h1m1 0h1m0 0h1m0 0h1m3 0h1m-42 1h1m0 0h1m1 0h1m0 0h1m0 0h1m0 0h1m0 0h1m0 0h1m0 0h1m0 0h1m0 0h1m0 0h1m0 0h1m0 0h1m0 0h1m0 0h1m0 0h1m0 0h1m0 0h1m0 0h1m0 0h1m0 0h1m0 0h1m2 0h1m0 0h1m1 0h1m1 0h1m2 0h1m0 0h1m1 0h1m2 0h1m4 0h1m4 0h1m-50 1h1m0 0h1m1 0h1m1 0h1m1 0h1m0 0h1m0 0h1m0 0h1m0 0h1m1 0h1m1 0h1m0 0h1m1 0h1m1 0h1m0 0h1m0 0h1m1 0h1m0 0h1m0 0h1m0 0h1m1 0h1m0 0h1m1 0h1m6 0h1m0 0h1m0 0h1m0 0h1m8 0h1m20 0h1m-74 1h1m1 0h1m0 0h1m0 0h1m0 0h1m0 0h1m0 0h1m2 0h1m0 0h1m0 0h1m0 0h1m0 0h1m0 0h1m0 0h1m0 0h1m0 0h1m0 0h1m0 0h1m0 0h1m0 0h1m0 0h1m0 0h1m0 0h1m2 0h1m0 0h1m2 0h1m2 0h1m0 0h1m1 0h1m1 0h1m0 0h1m-43 1h1m1 0h1m0 0h1m0 0h1m0 0h1m0 0h1m0 0h1m0 0h1m1 0h1m0 0h1m0 0h1m0 0h1m0 0h1m0 0h1m0 0h1m1 0h1m0 0h1m0 0h1m0 0h1m0 0h1m0 0h1m0 0h1m0 0h1m0 0h1m1 0h1m0 0h1m0 0h1m0 0h1m0 0h1m0 0h1m1 0h1m2 0h1m2 0h1m0 0h1m5 0h1m-42 1h1m0 0h1m1 0h1m0 0h1m0 0h1m0 0h1m0 0h1m0 0h1m0 0h1m0 0h1m0 0h1m0 0h1m0 0h1m2 0h1m0 0h1m0 0h1m0 0h1m0 0h1m3 0h1m1 0h1m0 0h1m0 0h1m2 0h1m0 0h1m2 0h1m2 0h1m-42 1h1m1 0h1m1 0h1m0 0h1m0 0h1m2 0h1m0 0h1m0 0h1m0 0h1m0 0h1m0 0h1m0 0h1m1 0h1m1 0h1m0 0h1m0 0h1m1 0h1m0 0h1m1 0h1m1 0h1m0 0h1m0 0h1m0 0h1m1 0h1m1 0h1m1 0h1m1 0h1m9 0h1m-54 1h1m4 0h1m3 0h1m0 0h1m1 0h1m0 0h1m0 0h1m1 0h1m0 0h1m0 0h1m0 0h1m0 0h1m0 0h1m0 0h1m0 0h1m0 0h1m0 0h1m0 0h1m0 0h1m0 0h1m0 0h1m1 0h1m0 0h1m0 0h1m0 0h1m0 0h1m1 0h1m0 0h1m0 0h1m0 0h1m0 0h1m0 0h1m0 0h1m2 0h1m1 0h1m-48 1h1m1 0h1m2 0h1m1 0h1m1 0h1m0 0h1m2 0h1m0 0h1m0 0h1m0 0h1m0 0h1m0 0h1m0 0h1m0 0h1m0 0h1m0 0h1m0 0h1m1 0h1m0 0h1m0 0h1m0 0h1m0 0h1m0 0h1m0 0h1m0 0h1m0 0h1m0 0h1m0 0h1m0 0h1m0 0h1m0 0h1m0 0h1m0 0h1m0 0h1m0 0h1m1 0h1m-41 1h1m0 0h1m0 0h1m1 0h1m1 0h1m0 0h1m0 0h1m0 0h1m0 0h1m0 0h1m0 0h1m0 0h1m0 0h1m1 0h1m0 0h1m0 0h1m0 0h1m2 0h1m0 0h1m0 0h1m1 0h1m1 0h1m0 0h1m0 0h1m0 0h1m0 0h1m1 0h1m0 0h1m1 0h1m0 0h1m1 0h1m7 0h1m-54 1h1m1 0h1m0 0h1m0 0h1m0 0h1m0 0h1m0 0h1m0 0h1m0 0h1m0 0h1m1 0h1m0 0h1m1 0h1m0 0h1m0 0h1m0 0h1m0 0h1m0 0h1m1 0h1m0 0h1m0 0h1m0 0h1m0 0h1m1 0h1m0 0h1m0 0h1m0 0h1m0 0h1m0 0h1m0 0h1m0 0h1m1 0h1m0 0h1m0 0h1m0 0h1m1 0h1m1 0h1m1 0h1m-48 1h1m6 0h1m3 0h1m0 0h1m0 0h1m1 0h1m0 0h1m0 0h1m0 0h1m1 0h1m0 0h1m0 0h1m0 0h1m0 0h1m1 0h1m2 0h1m0 0h1m0 0h1m0 0h1m0 0h1m0 0h1m1 0h1m0 0h1m0 0h1m0 0h1m0 0h1m0 0h1m0 0h1m0 0h1m1 0h1m1 0h1m0 0h1m-47 1h1m5 0h1m2 0h1m0 0h1m0 0h1m1 0h1m0 0h1m0 0h1m0 0h1m0 0h1m2 0h1m0 0h1m1 0h1m0 0h1m0 0h1m0 0h1m1 0h1m1 0h1m0 0h1m1 0h1m0 0h1m0 0h1m0 0h1m0 0h1m0 0h1m0 0h1m0 0h1m1 0h1m2 0h1m0 0h1m-43 1h1m0 0h1m1 0h1m0 0h1m1 0h1m0 0h1m0 0h1m0 0h1m0 0h1m0 0h1m0 0h1m0 0h1m1 0h1m0 0h1m0 0h1m0 0h1m0 0h1m1 0h1m0 0h1m1 0h1m0 0h1m1 0h1m0 0h1m0 0h1m0 0h1m0 0h1m0 0h1m0 0h1m0 0h1m0 0h1m0 0h1m0 0h1m0 0h1m11 0h1m-51 1h1m2 0h1m0 0h1m0 0h1m0 0h1m1 0h1m0 0h1m0 0h1m0 0h1m0 0h1m0 0h1m1 0h1m0 0h1m0 0h1m0 0h1m0 0h1m0 0h1m1 0h1m0 0h1m0 0h1m0 0h1m0 0h1m0 0h1m0 0h1m0 0h1m0 0h1m0 0h1m3 0h1m0 0h1m0 0h1m0 0h1m0 0h1m-37 1h1m0 0h1m0 0h1m0 0h1m0 0h1m0 0h1m0 0h1m0 0h1m1 0h1m0 0h1m0 0h1m0 0h1m0 0h1m0 0h1m0 0h1m0 0h1m1 0h1m2 0h1m0 0h1m0 0h1m0 0h1m0 0h1m0 0h1m0 0h1m0 0h1m0 0h1m0 0h1m0 0h1m0 0h1m0 0h1m0 0h1m0 0h1m0 0h1m2 0h1m-42 1h1m1 0h1m1 0h1m0 0h1m0 0h1m0 0h1m0 0h1m0 0h1m0 0h1m1 0h1m0 0h1m0 0h1m0 0h1m0 0h1m0 0h1m0 0h1m1 0h1m0 0h1m0 0h1m1 0h1m0 0h1m0 0h1m0 0h1m0 0h1m0 0h1m0 0h1m1 0h1m0 0h1m0 0h1m0 0h1m0 0h1m0 0h1m3 0h1m-45 1h1m3 0h1m0 0h1m0 0h1m0 0h1m0 0h1m1 0h1m0 0h1m0 0h1m0 0h1m0 0h1m0 0h1m0 0h1m1 0h1m0 0h1m0 0h1m0 0h1m0 0h1m0 0h1m0 0h1m0 0h1m0 0h1m0 0h1m0 0h1m0 0h1m0 0h1m0 0h1m0 0h1m1 0h1m0 0h1m1 0h1m0 0h1m0 0h1m1 0h1m10 0h1m-57 1h1m3 0h1m0 0h1m2 0h1m2 0h1m1 0h1m0 0h1m0 0h1m2 0h1m0 0h1m0 0h1m1 0h1m2 0h1m0 0h1m0 0h1m1 0h1m0 0h1m0 0h1m0 0h1m0 0h1m0 0h1m0 0h1m0 0h1m0 0h1m0 0h1m0 0h1m0 0h1m0 0h1m0 0h1m2 0h1m5 0h1m1 0h1m-46 1h1m0 0h1m1 0h1m0 0h1m0 0h1m2 0h1m0 0h1m0 0h1m0 0h1m0 0h1m2 0h1m0 0h1m0 0h1m0 0h1m0 0h1m0 0h1m0 0h1m0 0h1m0 0h1m0 0h1m0 0h1m0 0h1m0 0h1m0 0h1m0 0h1m0 0h1m0 0h1m0 0h1m0 0h1m0 0h1m0 0h1m0 0h1m4 0h1m1 0h1m-45 1h1m0 0h1m1 0h1m0 0h1m0 0h1m1 0h1m0 0h1m0 0h1m0 0h1m0 0h1m0 0h1m0 0h1m0 0h1m0 0h1m2 0h1m0 0h1m1 0h1m0 0h1m0 0h1m0 0h1m1 0h1m0 0h1m0 0h1m0 0h1m0 0h1m1 0h1m0 0h1m0 0h1m0 0h1m0 0h1m0 0h1m0 0h1m1 0h1m9 0h1m-51 1h1m0 0h1m0 0h1m2 0h1m1 0h1m0 0h1m0 0h1m1 0h1m0 0h1m0 0h1m0 0h1m0 0h1m0 0h1m0 0h1m0 0h1m0 0h1m1 0h1m0 0h1m0 0h1m0 0h1m1 0h1m0 0h1m0 0h1m0 0h1m1 0h1m0 0h1m0 0h1m0 0h1m0 0h1m0 0h1m1 0h1m1 0h1m2 0h1m7 0h1m-56 1h1m1 0h1m4 0h1m0 0h1m0 0h1m0 0h1m0 0h1m0 0h1m2 0h1m2 0h1m4 0h1m2 0h1m2 0h1m1 0h1m0 0h1m3 0h1m0 0h1m0 0h1m0 0h1m0 0h1m0 0h1m-41 1h1m4 0h1m2 0h1m0 0h1m0 0h1m0 0h1m2 0h1m1 0h1m0 0h1m0 0h1m1 0h1m0 0h1m0 0h1m1 0h1m0 0h1m0 0h1m0 0h1m3 0h1m0 0h1m0 0h1m0 0h1m0 0h1m2 0h1m2 0h1m-36 1h1m0 0h1m0 0h1m1 0h1m0 0h1m0 0h1m0 0h1m1 0h1m0 0h1m0 0h1m0 0h1m1 0h1m0 0h1m6 0h1m0 0h1m0 0h1m0 0h1m0 0h1m0 0h1m3 0h1m0 0h1m0 0h1m1 0h1m-42 1h1m1 0h1m2 0h1m5 0h1m0 0h1m0 0h1m4 0h1m3 0h1m0 0h1m1 0h1m3 0h1m0 0h1m0 0h1m1 0h1m0 0h1m2 0h1m0 0h1m1 0h1m-45 1h1m9 0h1m0 0h1m0 0h1m0 0h1m1 0h1m1 0h1m0 0h1m1 0h1m0 0h1m1 0h1m0 0h1m3 0h1m2 0h1m0 0h1m1 0h1m1 0h1m1 0h1m0 0h1m4 0h1m29 0h1m-68 1h1m1 0h1m1 0h1m1 0h1m1 0h1m0 0h1m1 0h1m0 0h1m7 0h1m7 0h1m3 0h1m0 0h1m2 0h1m2 0h1m-43 1h1m10 0h1m0 0h1m3 0h1m4 0h1m0 0h1m8 0h1m0 0h1m1 0h1m-21 1h1m1 0h1m3 0h1m1 0h1m6 0h1m2 0h1m21 0h1m-46 1h1m8 0h1m6 0h1m51 0h1m-79 1h1m1 0h1m13 0h1m9 0h1m3 0h1m2 0h1m4 0h1m-36 1h1m7 0h1m-8 1h1m9 0h1m19 0h1m7 0h1m-39 1h1m4 0h1m3 0h1m0 0h1m6 0h1m6 1h1m-25 1h1m17 0h1m9 0h1m-9 1h1m0 0h1m-6 2h1" stroke="#262626" stroke-width="1" transform="translate(0 0.5)" fill="none"/>
<line x1="184.1" y1="151.5" x2="184.1" y2="236.8" stroke="#444" stroke-width="1.0"/>
<line x1="152.4" y1="198.6" x2="236.8" y2="198.6" stroke="#444" stroke-width="1.0"/>
<rect x="152.4" y="151.5" width="84.4" height="85.3" fill="none" stroke="#333" stroke-width="0.9"/>
<line x1="148.9" y1="151.5" x2="152.4" y2="151.5" stroke="#333" stroke-width="0.9"/>
<line x1="152.4" y1="236.8" x2="152.4" y2="239.3" stroke="#333" stroke-width="0.9"/>
<line x1="148.9" y1="172.8" x2="152.4" y2="172.8" stroke="#333" stroke-width="0.9"/>
<line x1="173.5" y1="236.8" x2="173.5" y2="239.3" stroke="#333" stroke-width="0.9"/>
<line x1="148.9" y1="194.2" x2="152.4" y2="194.2" stroke="#333" stroke-width="0.9"/>
<line x1="194.6" y1="236.8" x2="194.6" y2="239.3" stroke="#333" stroke-width="0.9"/>
<line x1="148.9" y1="215.5" x2="152.4" y2="215.5" stroke="#333" stroke-width="0.9"/>
<line x1="215.7" y1="236.8" x2="215.7" y2="239.3" stroke="#333" stroke-width="0.9"/>
<line x1="148.9" y1="236.8" x2="152.4" y2="236.8" stroke="#333" stroke-width="0.9"/>
<line x1="236.8" y1="236.8" x2="236.8" y2="239.3" stroke="#333" stroke-width="0.9"/>
<text class="r" x="147.1" y="154.6" font-size="7.4" text-anchor="end" fill="#000" stroke="#000" stroke-width="0.25">10<tspan dx="2.8" dy="-2.3" font-size="4.6">4</tspan></text>
<text class="r" x="147.1" y="175.9" font-size="7.4" text-anchor="end" fill="#000" stroke="#000" stroke-width="0.25">10<tspan dx="2.8" dy="-2.3" font-size="4.6">3</tspan></text>
<text class="r" x="147.1" y="197.2" font-size="7.4" text-anchor="end" fill="#000" stroke="#000" stroke-width="0.25">10<tspan dx="2.8" dy="-2.3" font-size="4.6">2</tspan></text>
<text class="r" x="147.1" y="218.6" font-size="7.4" text-anchor="end" fill="#000" stroke="#000" stroke-width="0.25">10<tspan dx="2.8" dy="-2.3" font-size="4.6">1</tspan></text>
<text class="r" x="147.1" y="239.9" font-size="7.4" text-anchor="end" fill="#000" stroke="#000" stroke-width="0.25">10<tspan dx="2.8" dy="-2.3" font-size="4.6">0</tspan></text>
<text class="r" x="152.8" y="248.4" font-size="7.4" text-anchor="end" fill="#000">10<tspan dx="0.5" dy="-2.3" font-size="4.6">0</tspan></text>
<text class="r" x="173.9" y="248.4" font-size="7.4" text-anchor="end" fill="#000">10<tspan dx="0.5" dy="-2.3" font-size="4.6">1</tspan></text>
<text class="r" x="195" y="248.4" font-size="7.4" text-anchor="end" fill="#000">10<tspan dx="0.5" dy="-2.3" font-size="4.6">2</tspan></text>
<text class="r" x="216.1" y="248.4" font-size="7.4" text-anchor="end" fill="#000">10<tspan dx="0.5" dy="-2.3" font-size="4.6">3</tspan></text>
<text class="r" x="237.2" y="248.4" font-size="7.4" text-anchor="end" fill="#000">10<tspan dx="0.5" dy="-2.3" font-size="4.6">4</tspan></text>
<text class="rb" x="194.1" y="259.4" font-size="10.8" text-anchor="middle">CD8</text>
<text class="rb" x="132.7" y="194.2" font-size="10.8" text-anchor="middle" transform="rotate(-90 132.7 194.2)">CD4</text>
<text class="rb" x="154.3" y="159.6" font-size="8.6" stroke="#000" stroke-width="0.3">45</text>
<text class="rb" x="154.3" y="233.2" font-size="8.6" stroke="#000" stroke-width="0.3">39</text>
<text class="rb" x="234.2" y="233.4" font-size="8.6" text-anchor="end" stroke="#000" stroke-width="0.3">15</text>
<path d="M322 160h1m1 0h1m1 0h1m0 0h1m-23 1h1m3 0h1m0 0h1m0 0h1m7 0h1m0 0h1m0 0h1m1 0h1m0 0h1m-18 1h1m2 0h1m0 0h1m1 0h1m1 0h1m2 0h1m0 0h1m1 0h1m1 0h1m1 0h1m0 0h1m1 0h1m5 0h1m6 0h1m-38 1h1m0 0h1m0 0h1m2 0h1m0 0h1m1 0h1m0 0h1m0 0h1m0 0h1m0 0h1m0 0h1m0 0h1m0 0h1m1 0h1m0 0h1m1 0h1m0 0h1m1 0h1m0 0h1m2 0h1m3 0h1m-30 1h1m1 0h1m0 0h1m3 0h1m2 0h1m0 0h1m0 0h1m1 0h1m0 0h1m1 0h1m0 0h1m0 0h1m0 0h1m1 0h1m2 0h1m0 0h1m-29 1h1m0 0h1m0 0h1m0 0h1m1 0h1m0 0h1m0 0h1m0 0h1m1 0h1m0 0h1m0 0h1m0 0h1m0 0h1m0 0h1m1 0h1m0 0h1m1 0h1m0 0h1m0 0h1m0 0h1m0 0h1m5 0h1m-31 1h1m0 0h1m0 0h1m0 0h1m0 0h1m0 0h1m0 0h1m0 0h1m0 0h1m0 0h1m0 0h1m0 0h1m0 0h1m0 0h1m0 0h1m0 0h1m0 0h1m0 0h1m0 0h1m0 0h1m0 0h1m0 0h1m0 0h1m1 0h1m1 0h1m0 0h1m2 0h1m13 0h1m-44 1h1m0 0h1m0 0h1m0 0h1m1 0h1m0 0h1m0 0h1m0 0h1m0 0h1m0 0h1m0 0h1m0 0h1m0 0h1m0 0h1m0 0h1m0 0h1m0 0h1m0 0h1m0 0h1m0 0h1m1 0h1m0 0h1m0 0h1m0 0h1m1 0h1m0 0h1m0 0h1m7 0h1m-39 1h1m0 0h1m0 0h1m0 0h1m0 0h1m0 0h1m0 0h1m0 0h1m0 0h1m0 0h1m0 0h1m0 0h1m0 0h1m0 0h1m0 0h1m0 0h1m0 0h1m1 0h1m0 0h1m0 0h1m0 0h1m0 0h1m0 0h1m1 0h1m0 0h1m2 0h1m7 0h1m-49 1h1m4 0h1m0 0h1m0 0h1m1 0h1m0 0h1m0 0h1m0 0h1m0 0h1m0 0h1m0 0h1m0 0h1m0 0h1m0 0h1m0 0h1m0 0h1m0 0h1m0 0h1m0 0h1m0 0h1m0 0h1m0 0h1m0 0h1m0 0h1m0 0h1m0 0h1m0 0h1m0 0h1m0 0h1m2 0h1m0 0h1m2 0h1m2 0h1m0 0h1m0 0h1m-44 1h1m0 0h1m2 0h1m3 0h1m1 0h1m0 0h1m0 0h1m0 0h1m0 0h1m0 0h1m0 0h1m0 0h1m0 0h1m0 0h1m0 0h1m0 0h1m0 0h1m0 0h1m0 0h1m0 0h1m0 0h1m0 0h1m0 0h1m0 0h1m1 0h1m0 0h1m0 0h1m0 0h1m1 0h1m1 0h1m2 0h1m-43 1h1m2 0h1m0 0h1m0 0h1m0 0h1m1 0h1m0 0h1m0 0h1m0 0h1m0 0h1m0 0h1m0 0h1m0 0h1m0 0h1m0 0h1m0 0h1m0 0h1m0 0h1m0 0h1m0 0h1m0 0h1m0 0h1m0 0h1m0 0h1m0 0h1m0 0h1m0 0h1m0 0h1m0 0h1m0 0h1m0 0h1m0 0h1m0 0h1m0 0h1m0 0h1m1 0h1m1 0h1m2 0h1m-45 1h1m0 0h1m6 0h1m0 0h1m0 0h1m0 0h1m0 0h1m0 0h1m0 0h1m0 0h1m0 0h1m0 0h1m0 0h1m0 0h1m0 0h1m0 0h1m0 0h1m0 0h1m0 0h1m0 0h1m0 0h1m0 0h1m0 0h1m0 0h1m0 0h1m0 0h1m0 0h1m0 0h1m0 0h1m0 0h1m0 0h1m1 0h1m0 0h1m0 0h1m-41 1h1m2 0h1m2 0h1m0 0h1m0 0h1m0 0h1m0 0h1m0 0h1m0 0h1m0 0h1m0 0h1m0 0h1m0 0h1m0 0h1m0 0h1m0 0h1m0 0h1m0 0h1m0 0h1m0 0h1m0 0h1m0 0h1m0 0h1m0 0h1m0 0h1m0 0h1m0 0h1m0 0h1m0 0h1m0 0h1m0 0h1m0 0h1m1 0h1m1 0h1m-41 1h1m4 0h1m0 0h1m1 0h1m0 0h1m1 0h1m0 0h1m0 0h1m0 0h1m0 0h1m0 0h1m0 0h1m0 0h1m0 0h1m0 0h1m0 0h1m0 0h1m0 0h1m0 0h1m0 0h1m0 0h1m0 0h1m0 0h1m0 0h1m0 0h1m0 0h1m0 0h1m1 0h1m0 0h1m0 0h1m0 0h1m0 0h1m1 0h1m2 0h1m7 0h1m-51 1h1m1 0h1m0 0h1m1 0h1m0 0h1m0 0h1m0 0h1m0 0h1m0 0h1m0 0h1m0 0h1m0 0h1m0 0h1m0 0h1m0 0h1m0 0h1m0 0h1m0 0h1m0 0h1m0 0h1m0 0h1m0 0h1m0 0h1m0 0h1m0 0h1m0 0h1m0 0h1m0 0h1m0 0h1m0 0h1m0 0h1m0 0h1m0 0h1m0 0h1m0 0h1m1 0h1m0 0h1m0 0h1m12 0h1m1 0h1m0 0h1m-57 1h1m2 0h1m1 0h1m0 0h1m0 0h1m0 0h1m0 0h1m0 0h1m0 0h1m0 0h1m0 0h1m0 0h1m0 0h1m0 0h1m0 0h1m0 0h1m0 0h1m0 0h1m0 0h1m0 0h1m0 0h1m0 0h1m0 0h1m0 0h1m0 0h1m0 0h1m0 0h1m0 0h1m0 0h1m0 0h1m0 0h1m1 0h1m0 0h1m0 0h1m2 0h1m1 0h1m3 0h1m4 0h1m3 0h1m-56 1h1m2 0h1m1 0h1m0 0h1m0 0h1m1 0h1m0 0h1m0 0h1m0 0h1m0 0h1m0 0h1m0 0h1m0 0h1m0 0h1m0 0h1m0 0h1m0 0h1m0 0h1m0 0h1m0 0h1m0 0h1m0 0h1m0 0h1m0 0h1m0 0h1m0 0h1m0 0h1m0 0h1m0 0h1m0 0h1m0 0h1m0 0h1m0 0h1m0 0h1m0 0h1m1 0h1m6 0h1m2 0h1m1 0h1m0 0h1m4 0h1m-60 1h1m1 0h1m0 0h1m2 0h1m1 0h1m0 0h1m0 0h1m0 0h1m0 0h1m0 0h1m0 0h1m0 0h1m0 0h1m0 0h1m0 0h1m0 0h1m0 0h1m0 0h1m0 0h1m0 0h1m0 0h1m0 0h1m0 0h1m0 0h1m0 0h1m0 0h1m0 0h1m0 0h1m0 0h1m0 0h1m0 0h1m0 0h1m0 0h1m0 0h1m0 0h1m0 0h1m0 0h1m0 0h1m0 0h1m8 0h1m0 0h1m0 0h1m0 0h1m0 0h1m2 0h1m1 0h1m-60 1h1m1 0h1m0 0h1m0 0h1m0 0h1m0 0h1m1 0h1m0 0h1m0 0h1m0 0h1m0 0h1m0 0h1m0 0h1m0 0h1m0 0h1m0 0h1m0 0h1m0 0h1m0 0h1m0 0h1m0 0h1m0 0h1m0 0h1m0 0h1m0 0h1m0 0h1m1 0h1m0 0h1m0 0h1m0 0h1m0 0h1m0 0h1m0 0h1m0 0h1m0 0h1m0 0h1m2 0h1m0 0h1m0 0h1m0 0h1m4 0h1m0 0h1m0 0h1m0 0h1m0 0h1m1 0h1m0 0h1m0 0h1m0 0h1m0 0h1m-59 1h1m0 0h1m0 0h1m0 0h1m0 0h1m1 0h1m0 0h1m0 0h1m0 0h1m0 0h1m0 0h1m0 0h1m0 0h1m0 0h1m0 0h1m0 0h1m0 0h1m0 0h1m0 0h1m0 0h1m0 0h1m0 0h1m0 0h1m0 0h1m0 0h1m0 0h1m0 0h1m0 0h1m0 0h1m0 0h1m0 0h1m0 0h1m0 0h1m1 0h1m0 0h1m0 0h1m0 0h1m0 0h1m3 0h1m2 0h1m0 0h1m1 0h1m0 0h1m0 0h1m0 0h1m1 0h1m0 0h1m2 0h1m-56 1h1m0 0h1m0 0h1m0 0h1m0 0h1m0 0h1m0 0h1m0 0h1m0 0h1m0 0h1m0 0h1m0 0h1m0 0h1m0 0h1m0 0h1m0 0h1m0 0h1m0 0h1m0 0h1m0 0h1m0 0h1m0 0h1m0 0h1m0 0h1m0 0h1m0 0h1m0 0h1m0 0h1m0 0h1m0 0h1m0 0h1m1 0h1m0 0h1m0 0h1m1 0h1m0 0h1m5 0h1m1 0h1m0 0h1m0 0h1m0 0h1m0 0h1m0 0h1m0 0h1m2 0h1m-60 1h1m1 0h1m0 0h1m0 0h1m0 0h1m1 0h1m0 0h1m0 0h1m3 0h1m0 0h1m0 0h1m0 0h1m0 0h1m0 0h1m0 0h1m0 0h1m0 0h1m0 0h1m0 0h1m0 0h1m0 0h1m0 0h1m0 0h1m0 0h1m0 0h1m0 0h1m0 0h1m0 0h1m0 0h1m0 0h1m0 0h1m0 0h1m0 0h1m0 0h1m0 0h1m0 0h1m4 0h1m2 0h1m1 0h1m0 0h1m0 0h1m0 0h1m0 0h1m0 0h1m0 0h1m0 0h1m1 0h1m-59 1h1m0 0h1m0 0h1m0 0h1m0 0h1m0 0h1m0 0h1m0 0h1m0 0h1m0 0h1m0 0h1m0 0h1m0 0h1m0 0h1m0 0h1m0 0h1m0 0h1m0 0h1m0 0h1m0 0h1m0 0h1m0 0h1m0 0h1m0 0h1m0 0h1m0 0h1m0 0h1m0 0h1m0 0h1m0 0h1m0 0h1m0 0h1m0 0h1m1 0h1m0 0h1m0 0h1m0 0h1m3 0h1m1 0h1m2 0h1m0 0h1m2 0h1m0 0h1m0 0h1m0 0h1m0 0h1m0 0h1m0 0h1m0 0h1m0 0h1m-60 1h1m2 0h1m1 0h1m0 0h1m0 0h1m0 0h1m0 0h1m0 0h1m0 0h1m0 0h1m0 0h1m0 0h1m0 0h1m0 0h1m0 0h1m0 0h1m0 0h1m0 0h1m0 0h1m0 0h1m0 0h1m0 0h1m0 0h1m0 0h1m0 0h1m0 0h1m0 0h1m0 0h1m0 0h1m0 0h1m0 0h1m0 0h1m0 0h1m0 0h1m0 0h1m0 0h1m3 0h1m5 0h1m0 0h1m0 0h1m0 0h1m0 0h1m0 0h1m0 0h1m0 0h1m0 0h1m1 0h1m0 0h1m-60 1h1m0 0h1m0 0h1m0 0h1m1 0h1m0 0h1m0 0h1m0 0h1m0 0h1m0 0h1m0 0h1m0 0h1m0 0h1m0 0h1m0 0h1m0 0h1m0 0h1m0 0h1m0 0h1m0 0h1m0 0h1m0 0h1m0 0h1m0 0h1m0 0h1m0 0h1m0 0h1m0 0h1m0 0h1m0 0h1m0 0h1m0 0h1m0 0h1m0 0h1m0 0h1m1 0h1m0 0h1m0 0h1m0 0h1m7 0h1m1 0h1m0 0h1m0 0h1m0 0h1m0 0h1m0 0h1m0 0h1m0 0h1m0 0h1m0 0h1m1 0h1m9 0h1m-70 1h1m1 0h1m1 0h1m0 0h1m0 0h1m0 0h1m0 0h1m0 0h1m0 0h1m0 0h1m0 0h1m0 0h1m0 0h1m0 0h1m0 0h1m0 0h1m0 0h1m0 0h1m0 0h1m0 0h1m0 0h1m0 0h1m0 0h1m1 0h1m0 0h1m0 0h1m0 0h1m0 0h1m0 0h1m0 0h1m0 0h1m0 0h1m0 0h1m0 0h1m0 0h1m1 0h1m1 0h1m3 0h1m2 0h1m0 0h1m0 0h1m0 0h1m0 0h1m0 0h1m0 0h1m0 0h1m1 0h1m0 0h1m-61 1h1m1 0h1m1 0h1m0 0h1m0 0h1m0 0h1m0 0h1m0 0h1m0 0h1m0 0h1m0 0h1m0 0h1m0 0h1m0 0h1m0 0h1m0 0h1m0 0h1m0 0h1m0 0h1m0 0h1m0 0h1m0 0h1m0 0h1m0 0h1m0 0h1m0 0h1m0 0h1m0 0h1m0 0h1m0 0h1m0 0h1m0 0h1m0 0h1m0 0h1m0 0h1m1 0h1m0 0h1m0 0h1m7 0h1m0 0h1m1 0h1m0 0h1m0 0h1m0 0h1m0 0h1m0 0h1m0 0h1m0 0h1m-59 1h1m1 0h1m1 0h1m0 0h1m0 0h1m0 0h1m0 0h1m0 0h1m0 0h1m0 0h1m0 0h1m0 0h1m0 0h1m0 0h1m0 0h1m0 0h1m0 0h1m0 0h1m0 0h1m0 0h1m0 0h1m0 0h1m0 0h1m0 0h1m0 0h1m0 0h1m0 0h1m0 0h1m0 0h1m0 0h1m0 0h1m0 0h1m1 0h1m0 0h1m0 0h1m0 0h1m3 0h1m1 0h1m1 0h1m3 0h1m0 0h1m0 0h1m0 0h1m0 0h1m0 0h1m0 0h1m1 0h1m0 0h1m-60 1h1m0 0h1m2 0h1m0 0h1m0 0h1m0 0h1m0 0h1m0 0h1m0 0h1m0 0h1m0 0h1m1 0h1m0 0h1m1 0h1m0 0h1m0 0h1m0 0h1m0 0h1m0 0h1m0 0h1m0 0h1m0 0h1m0 0h1m0 0h1m0 0h1m0 0h1m0 0h1m0 0h1m0 0h1m0 0h1m1 0h1m0 0h1m0 0h1m8 0h1m1 0h1m1 0h1m0 0h1m0 0h1m0 0h1m1 0h1m0 0h1m0 0h1m1 0h1m0 0h1m-59 1h1m0 0h1m0 0h1m0 0h1m0 0h1m0 0h1m0 0h1m1 0h1m0 0h1m0 0h1m0 0h1m0 0h1m0 0h1m0 0h1m0 0h1m1 0h1m0 0h1m0 0h1m0 0h1m0 0h1m0 0h1m0 0h1m1 0h1m0 0h1m0 0h1m0 0h1m0 0h1m1 0h1m0 0h1m1 0h1m2 0h1m4 0h1m0 0h1m1 0h1m3 0h1m0 0h1m0 0h1m0 0h1m2 0h1m2 0h1m-60 1h1m0 0h1m0 0h1m1 0h1m0 0h1m0 0h1m1 0h1m0 0h1m0 0h1m0 0h1m0 0h1m0 0h1m0 0h1m0 0h1m0 0h1m0 0h1m0 0h1m0 0h1m0 0h1m0 0h1m0 0h1m0 0h1m1 0h1m0 0h1m0 0h1m0 0h1m0 0h1m0 0h1m0 0h1m0 0h1m2 0h1m1 0h1m0 0h1m1 0h1m4 0h1m0 0h1m0 0h1m0 0h1m1 0h1m0 0h1m0 0h1m0 0h1m0 0h1m0 0h1m3 0h1m-61 1h1m1 0h1m0 0h1m0 0h1m0 0h1m0 0h1m0 0h1m0 0h1m0 0h1m0 0h1m0 0h1m0 0h1m0 0h1m0 0h1m0 0h1m0 0h1m0 0h1m0 0h1m0 0h1m0 0h1m0 0h1m0 0h1m0 0h1m0 0h1m0 0h1m0 0h1m0 0h1m0 0h1m0 0h1m0 0h1m0 0h1m3 0h1m0 0h1m0 0h1m10 0h1m0 0h1m0 0h1m1 0h1m0 0h1m0 0h1m0 0h1m0 0h1m0 0h1m0 0h1m-59 1h1m0 0h1m0 0h1m2 0h1m0 0h1m2 0h1m0 0h1m1 0h1m0 0h1m0 0h1m0 0h1m0 0h1m0 0h1m0 0h1m0 0h1m0 0h1m0 0h1m0 0h1m0 0h1m0 0h1m0 0h1m0 0h1m0 0h1m0 0h1m2 0h1m0 0h1m0 0h1m0 0h1m0 0h1m1 0h1m0 0h1m4 0h1m4 0h1m0 0h1m0 0h1m1 0h1m0 0h1m0 0h1m0 0h1m1 0h1m0 0h1m0 0h1m-59 1h1m0 0h1m0 0h1m0 0h1m0 0h1m0 0h1m0 0h1m0 0h1m0 0h1m0 0h1m0 0h1m0 0h1m0 0h1m0 0h1m0 0h1m0 0h1m0 0h1m0 0h1m0 0h1m0 0h1m0 0h1m0 0h1m0 0h1m0 0h1m0 0h1m0 0h1m0 0h1m0 0h1m0 0h1m0 0h1m0 0h1m0 0h1m1 0h1m1 0h1m0 0h1m0 0h1m1 0h1m3 0h1m3 0h1m2 0h1m0 0h1m0 0h1m0 0h1m0 0h1m0 0h1m0 0h1m1 0h1m-59 1h1m3 0h1m0 0h1m0 0h1m0 0h1m0 0h1m0 0h1m0 0h1m0 0h1m0 0h1m0 0h1m0 0h1m0 0h1m0 0h1m0 0h1m0 0h1m0 0h1m0 0h1m0 0h1m0 0h1m0 0h1m0 0h1m1 0h1m0 0h1m0 0h1m0 0h1m0 0h1m0 0h1m0 0h1m1 0h1m1 0h1m0 0h1m0 0h1m0 0h1m3 0h1m3 0h1m0 0h1m0 0h1m0 0h1m0 0h1m0 0h1m0 0h1m0 0h1m0 0h1m0 0h1m0 0h1m-59 1h1m0 0h1m1 0h1m0 0h1m0 0h1m0 0h1m0 0h1m0 0h1m0 0h1m0 0h1m0 0h1m0 0h1m0 0h1m0 0h1m0 0h1m0 0h1m0 0h1m0 0h1m0 0h1m0 0h1m0 0h1m0 0h1m0 0h1m0 0h1m0 0h1m0 0h1m1 0h1m0 0h1m0 0h1m0 0h1m0 0h1m1 0h1m2 0h1m0 0h1m0 0h1m10 0h1m0 0h1m0 0h1m0 0h1m0 0h1m0 0h1m0 0h1m0 0h1m0 0h1m2 0h1m-62 1h1m0 0h1m0 0h1m0 0h1m0 0h1m0 0h1m0 0h1m1 0h1m0 0h1m0 0h1m0 0h1m0 0h1m0 0h1m0 0h1m0 0h1m0 0h1m0 0h1m0 0h1m0 0h1m0 0h1m0 0h1m1 0h1m0 0h1m0 0h1m0 0h1m0 0h1m0 0h1m0 0h1m0 0h1m0 0h1m0 0h1m0 0h1m0 0h1m1 0h1m10 0h1m2 0h1m1 0h1m0 0h1m1 0h1m2 0h1m1 0h1m0 0h1m9 0h1m-71 1h1m3 0h1m0 0h1m0 0h1m1 0h1m0 0h1m0 0h1m0 0h1m0 0h1m0 0h1m0 0h1m0 0h1m0 0h1m0 0h1m0 0h1m0 0h1m0 0h1m0 0h1m1 0h1m0 0h1m0 0h1m1 0h1m0 0h1m0 0h1m0 0h1m0 0h1m0 0h1m1 0h1m1 0h1m0 0h1m0 0h1m2 0h1m4 0h1m0 0h1m0 0h1m3 0h1m1 0h1m1 0h1m0 0h1m2 0h1m-62 1h1m1 0h1m0 0h1m0 0h1m0 0h1m1 0h1m0 0h1m0 0h1m0 0h1m0 0h1m0 0h1m0 0h1m0 0h1m0 0h1m0 0h1m0 0h1m0 0h1m0 0h1m0 0h1m0 0h1m0 0h1m0 0h1m0 0h1m2 0h1m0 0h1m0 0h1m1 0h1m1 0h1m0 0h1m1 0h1m4 0h1m6 0h1m0 0h1m1 0h1m0 0h1m0 0h1m0 0h1m1 0h1m-57 1h1m2 0h1m0 0h1m0 0h1m0 0h1m0 0h1m0 0h1m0 0h1m0 0h1m0 0h1m0 0h1m0 0h1m0 0h1m0 0h1m0 0h1m0 0h1m0 0h1m0 0h1m0 0h1m0 0h1m0 0h1m0 0h1m0 0h1m0 0h1m0 0h1m0 0h1m0 0h1m0 0h1m0 0h1m0 0h1m0 0h1m0 0h1m1 0h1m0 0h1m0 0h1m0 0h1m0 0h1m0 0h1m3 0h1m0 0h1m8 0h1m0 0h1m-55 1h1m0 0h1m0 0h1m0 0h1m0 0h1m0 0h1m0 0h1m0 0h1m0 0h1m0 0h1m0 0h1m0 0h1m0 0h1m0 0h1m0 0h1m0 0h1m0 0h1m0 0h1m0 0h1m0 0h1m0 0h1m0 0h1m0 0h1m0 0h1m0 0h1m0 0h1m0 0h1m1 0h1m0 0h1m0 0h1m0 0h1m0 0h1m0 0h1m0 0h1m1 0h1m0 0h1m12 0h1m3 0h1m-55 1h1m0 0h1m1 0h1m0 0h1m0 0h1m0 0h1m0 0h1m0 0h1m0 0h1m0 0h1m0 0h1m0 0h1m0 0h1m0 0h1m0 0h1m0 0h1m0 0h1m0 0h1m0 0h1m0 0h1m0 0h1m0 0h1m0 0h1m0 0h1m0 0h1m0 0h1m0 0h1m0 0h1m0 0h1m1 0h1m1 0h1m2 0h1m0 0h1m0 0h1m2 0h1m3 0h1m0 0h1m2 0h1m0 0h1m0 0h1m0 0h1m0 0h1m1 0h1m-56 1h1m0 0h1m0 0h1m0 0h1m0 0h1m0 0h1m0 0h1m0 0h1m0 0h1m0 0h1m0 0h1m0 0h1m1 0h1m0 0h1m0 0h1m0 0h1m0 0h1m0 0h1m0 0h1m0 0h1m0 0h1m0 0h1m0 0h1m0 0h1m0 0h1m0 0h1m0 0h1m0 0h1m0 0h1m0 0h1m1 0h1m0 0h1m0 0h1m2 0h1m1 0h1m1 0h1m0 0h1m4 0h1m1 0h1m-51 1h1m0 0h1m0 0h1m0 0h1m0 0h1m0 0h1m0 0h1m0 0h1m0 0h1m0 0h1m0 0h1m0 0h1m0 0h1m0 0h1m0 0h1m0 0h1m0 0h1m0 0h1m0 0h1m0 0h1m0 0h1m0 0h1m0 0h1m0 0h1m0 0h1m0 0h1m0 0h1m0 0h1m0 0h1m0 0h1m0 0h1m0 0h1m1 0h1m0 0h1m0 0h1m0 0h1m3 0h1m-41 1h1m0 0h1m0 0h1m0 0h1m0 0h1m0 0h1m0 0h1m0 0h1m0 0h1m0 0h1m0 0h1m0 0h1m0 0h1m0 0h1m0 0h1m0 0h1m0 0h1m0 0h1m0 0h1m0 0h1m0 0h1m0 0h1m0 0h1m0 0h1m0 0h1m0 0h1m0 0h1m0 0h1m0 0h1m1 0h1m1 0h1m0 0h1m0 0h1m0 0h1m0 0h1m2 0h1m1 0h1m2 0h1m4 0h1m2 0h1m0 0h1m-54 1h1m0 0h1m0 0h1m0 0h1m0 0h1m0 0h1m0 0h1m0 0h1m0 0h1m0 0h1m0 0h1m0 0h1m0 0h1m0 0h1m0 0h1m0 0h1m0 0h1m0 0h1m0 0h1m0 0h1m0 0h1m0 0h1m0 0h1m0 0h1m0 0h1m0 0h1m0 0h1m0 0h1m0 0h1m0 0h1m0 0h1m0 0h1m0 0h1m0 0h1m1 0h1m4 0h1m0 0h1m0 0h1m0 0h1m0 0h1m3 0h1m6 0h1m-56 1h1m0 0h1m0 0h1m0 0h1m0 0h1m0 0h1m0 0h1m0 0h1m0 0h1m0 0h1m0 0h1m0 0h1m0 0h1m0 0h1m0 0h1m0 0h1m0 0h1m0 0h1m0 0h1m0 0h1m0 0h1m0 0h1m0 0h1m0 0h1m0 0h1m0 0h1m0 0h1m0 0h1m0 0h1m0 0h1m0 0h1m1 0h1m0 0h1m2 0h1m3 0h1m3 0h1m-45 1h1m0 0h1m0 0h1m0 0h1m0 0h1m0 0h1m0 0h1m0 0h1m0 0h1m0 0h1m0 0h1m0 0h1m0 0h1m0 0h1m0 0h1m0 0h1m0 0h1m0 0h1m0 0h1m0 0h1m0 0h1m0 0h1m0 0h1m0 0h1m0 0h1m0 0h1m0 0h1m0 0h1m0 0h1m0 0h1m0 0h1m0 0h1m0 0h1m1 0h1m0 0h1m4 0h1m2 0h1m-44 1h1m0 0h1m0 0h1m0 0h1m0 0h1m0 0h1m0 0h1m0 0h1m0 0h1m0 0h1m0 0h1m0 0h1m0 0h1m0 0h1m0 0h1m0 0h1m0 0h1m0 0h1m0 0h1m0 0h1m0 0h1m0 0h1m0 0h1m0 0h1m0 0h1m0 0h1m0 0h1m0 0h1m0 0h1m0 0h1m0 0h1m0 0h1m0 0h1m0 0h1m0 0h1m0 0h1m0 0h1m1 0h1m10 0h1m-50 1h1m0 0h1m0 0h1m0 0h1m0 0h1m0 0h1m0 0h1m0 0h1m0 0h1m0 0h1m0 0h1m0 0h1m0 0h1m0 0h1m0 0h1m0 0h1m0 0h1m0 0h1m0 0h1m0 0h1m0 0h1m0 0h1m0 0h1m0 0h1m0 0h1m0 0h1m0 0h1m0 0h1m0 0h1m0 0h1m0 0h1m0 0h1m0 0h1m0 0h1m2 0h1m0 0h1m4 0h1m0 0h1m2 0h1m9 0h1m-57 1h1m0 0h1m0 0h1m0 0h1m0 0h1m0 0h1m0 0h1m0 0h1m0 0h1m0 0h1m0 0h1m0 0h1m0 0h1m0 0h1m0 0h1m0 0h1m0 0h1m0 0h1m0 0h1m0 0h1m0 0h1m0 0h1m0 0h1m0 0h1m0 0h1m0 0h1m0 0h1m0 0h1m0 0h1m0 0h1m1 0h1m0 0h1m0 0h1m0 0h1m3 0h1m0 0h1m8 0h1m4 0h1m-54 1h1m0 0h1m0 0h1m0 0h1m0 0h1m0 0h1m0 0h1m0 0h1m0 0h1m0 0h1m0 0h1m0 0h1m0 0h1m0 0h1m0 0h1m0 0h1m0 0h1m0 0h1m0 0h1m0 0h1m0 0h1m0 0h1m0 0h1m0 0h1m0 0h1m0 0h1m0 0h1m0 0h1m0 0h1m0 0h1m0 0h1m0 0h1m0 0h1m0 0h1m8 0h1m0 0h1m4 0h1m1 0h1m-51 1h1m0 0h1m0 0h1m0 0h1m0 0h1m0 0h1m0 0h1m0 0h1m0 0h1m0 0h1m0 0h1m0 0h1m0 0h1m0 0h1m0 0h1m0 0h1m0 0h1m0 0h1m0 0h1m0 0h1m0 0h1m0 0h1m0 0h1m0 0h1m0 0h1m0 0h1m0 0h1m0 0h1m1 0h1m0 0h1m2 0h1m0 0h1m0 0h1m1 0h1m0 0h1m8 0h1m0 0h1m-49 1h1m0 0h1m0 0h1m0 0h1m0 0h1m0 0h1m0 0h1m0 0h1m0 0h1m0 0h1m0 0h1m0 0h1m0 0h1m0 0h1m0 0h1m0 0h1m0 0h1m0 0h1m0 0h1m0 0h1m0 0h1m0 0h1m0 0h1m0 0h1m0 0h1m0 0h1m0 0h1m0 0h1m0 0h1m0 0h1m0 0h1m0 0h1m1 0h1m1 0h1m2 0h1m1 0h1m1 0h1m0 0h1m-44 1h1m0 0h1m0 0h1m0 0h1m0 0h1m0 0h1m0 0h1m0 0h1m0 0h1m0 0h1m0 0h1m0 0h1m0 0h1m0 0h1m0 0h1m0 0h1m0 0h1m0 0h1m0 0h1m0 0h1m0 0h1m0 0h1m0 0h1m0 0h1m0 0h1m0 0h1m0 0h1m0 0h1m0 0h1m0 0h1m0 0h1m0 0h1m0 0h1m0 0h1m0 0h1m0 0h1m0 0h1m7 0h1m0 0h1m19 0h1m-66 1h1m0 0h1m0 0h1m0 0h1m0 0h1m0 0h1m0 0h1m0 0h1m0 0h1m0 0h1m0 0h1m0 0h1m0 0h1m0 0h1m0 0h1m0 0h1m0 0h1m0 0h1m0 0h1m0 0h1m0 0h1m0 0h1m0 0h1m0 0h1m0 0h1m0 0h1m0 0h1m0 0h1m0 0h1m0 0h1m0 0h1m0 0h1m0 0h1m0 0h1m1 0h1m0 0h1m0 0h1m6 0h1m-45 1h1m0 0h1m0 0h1m0 0h1m0 0h1m0 0h1m0 0h1m0 0h1m0 0h1m0 0h1m0 0h1m0 0h1m0 0h1m0 0h1m0 0h1m0 0h1m0 0h1m0 0h1m0 0h1m0 0h1m0 0h1m0 0h1m0 0h1m0 0h1m0 0h1m0 0h1m0 0h1m0 0h1m0 0h1m0 0h1m0 0h1m0 0h1m0 0h1m2 0h1m-36 1h1m0 0h1m0 0h1m0 0h1m0 0h1m0 0h1m0 0h1m0 0h1m0 0h1m0 0h1m0 0h1m0 0h1m0 0h1m0 0h1m0 0h1m0 0h1m0 0h1m0 0h1m0 0h1m0 0h1m0 0h1m0 0h1m0 0h1m0 0h1m0 0h1m0 0h1m0 0h1m0 0h1m0 0h1m0 0h1m0 0h1m1 0h1m1 0h1m0 0h1m8 0h1m0 0h1m9 0h1m-56 1h1m0 0h1m0 0h1m0 0h1m0 0h1m0 0h1m0 0h1m0 0h1m0 0h1m0 0h1m0 0h1m0 0h1m0 0h1m0 0h1m0 0h1m0 0h1m0 0h1m0 0h1m0 0h1m0 0h1m0 0h1m0 0h1m0 0h1m0 0h1m0 0h1m0 0h1m0 0h1m0 0h1m0 0h1m0 0h1m0 0h1m0 0h1m1 0h1m0 0h1m0 0h1m0 0h1m2 0h1m5 0h1m-46 1h1m0 0h1m0 0h1m0 0h1m0 0h1m0 0h1m0 0h1m0 0h1m0 0h1m0 0h1m0 0h1m0 0h1m0 0h1m0 0h1m0 0h1m0 0h1m0 0h1m0 0h1m0 0h1m0 0h1m0 0h1m0 0h1m0 0h1m0 0h1m0 0h1m0 0h1m0 0h1m0 0h1m0 0h1m0 0h1m0 0h1m0 0h1m0 0h1m0 0h1m1 0h1m3 0h1m-40 1h1m0 0h1m0 0h1m0 0h1m0 0h1m0 0h1m0 0h1m0 0h1m0 0h1m0 0h1m0 0h1m0 0h1m0 0h1m0 0h1m0 0h1m0 0h1m0 0h1m0 0h1m0 0h1m0 0h1m0 0h1m0 0h1m0 0h1m0 0h1m0 0h1m0 0h1m0 0h1m0 0h1m0 0h1m0 0h1m0 0h1m0 0h1m0 0h1m0 0h1m1 0h1m11 0h1m3 0h1m-52 1h1m0 0h1m0 0h1m0 0h1m0 0h1m0 0h1m0 0h1m0 0h1m0 0h1m0 0h1m0 0h1m0 0h1m0 0h1m0 0h1m0 0h1m0 0h1m0 0h1m0 0h1m0 0h1m0 0h1m0 0h1m0 0h1m0 0h1m0 0h1m0 0h1m0 0h1m0 0h1m0 0h1m0 0h1m0 0h1m0 0h1m0 0h1m0 0h1m0 0h1m0 0h1m1 0h1m12 0h1m-50 1h1m0 0h1m1 0h1m0 0h1m0 0h1m0 0h1m0 0h1m0 0h1m0 0h1m0 0h1m0 0h1m0 0h1m0 0h1m0 0h1m0 0h1m0 0h1m0 0h1m0 0h1m0 0h1m0 0h1m0 0h1m0 0h1m0 0h1m0 0h1m0 0h1m0 0h1m0 0h1m0 0h1m0 0h1m0 0h1m0 0h1m0 0h1m0 0h1m0 0h1m-35 1h1m0 0h1m0 0h1m0 0h1m0 0h1m0 0h1m0 0h1m0 0h1m0 0h1m0 0h1m0 0h1m0 0h1m0 0h1m0 0h1m0 0h1m0 0h1m0 0h1m0 0h1m0 0h1m0 0h1m0 0h1m0 0h1m0 0h1m0 0h1m0 0h1m0 0h1m0 0h1m0 0h1m0 0h1m0 0h1m0 0h1m0 0h1m0 0h1m1 0h1m4 0h1m-40 1h1m0 0h1m0 0h1m0 0h1m0 0h1m0 0h1m0 0h1m0 0h1m0 0h1m0 0h1m0 0h1m0 0h1m0 0h1m0 0h1m0 0h1m0 0h1m0 0h1m0 0h1m0 0h1m0 0h1m0 0h1m0 0h1m0 0h1m0 0h1m0 0h1m0 0h1m0 0h1m0 0h1m0 0h1m0 0h1m1 0h1m0 0h1m0 0h1m0 0h1m3 0h1m-39 1h1m0 0h1m1 0h1m0 0h1m0 0h1m0 0h1m0 0h1m0 0h1m0 0h1m0 0h1m0 0h1m0 0h1m0 0h1m0 0h1m0 0h1m1 0h1m0 0h1m0 0h1m0 0h1m0 0h1m0 0h1m0 0h1m0 0h1m0 0h1m0 0h1m0 0h1m1 0h1m0 0h1m1 0h1m0 0h1m6 0h1m9 0h1m-51 1h1m0 0h1m0 0h1m0 0h1m0 0h1m0 0h1m0 0h1m0 0h1m0 0h1m0 0h1m0 0h1m0 0h1m0 0h1m0 0h1m0 0h1m0 0h1m0 0h1m0 0h1m0 0h1m0 0h1m0 0h1m0 0h1m1 0h1m0 0h1m0 0h1m0 0h1m0 0h1m1 0h1m12 0h1m2 0h1m-46 1h1m0 0h1m0 0h1m1 0h1m0 0h1m0 0h1m0 0h1m0 0h1m0 0h1m0 0h1m0 0h1m1 0h1m0 0h1m0 0h1m1 0h1m0 0h1m0 0h1m0 0h1m0 0h1m0 0h1m0 0h1m1 0h1m0 0h1m0 0h1m0 0h1m0 0h1m0 0h1m-31 1h1m2 0h1m0 0h1m1 0h1m3 0h1m0 0h1m0 0h1m1 0h1m1 0h1m0 0h1m1 0h1m0 0h1m0 0h1m0 0h1m0 0h1m0 0h1m1 0h1m1 0h1m13 0h1m-40 1h1m1 0h1m0 0h1m0 0h1m0 0h1m0 0h1m3 0h1m0 0h1m0 0h1m0 0h1m2 0h1m5 0h1m3 0h1m4 0h1m2 0h1m-38 1h1m3 0h1m8 0h1m1 0h1m0 0h1m1 0h1m0 0h1m2 0h1m0 0h1m1 0h1m2 0h1m16 0h1m-38 1h1m0 0h1m1 0h1m1 0h1m3 0h1m7 0h1m1 0h1m12 0h1m-36 1h1m7 0h1m1 0h1m6 0h1m4 0h1m0 0h1m6 0h1m9 1h1m-39 1h1m3 0h1m5 0h1m3 0h1" stroke="#262626" stroke-width="1" transform="translate(0 0.5)" fill="none"/>
<rect x="292.4" y="159.5" width="40" height="27.7" fill="none" stroke="#444" stroke-width="0.7"/>
<line x1="292.4" y1="187.2" x2="332.4" y2="187.2" stroke="#222" stroke-width="0.8" stroke-dasharray="1 1"/>
<text class="s" x="294.2" y="167.3" font-size="7" fill="#222">R3</text>
<rect x="292.4" y="151.5" width="87.9" height="85.3" fill="none" stroke="#333" stroke-width="0.9"/>
<line x1="288.9" y1="151.5" x2="292.4" y2="151.5" stroke="#333" stroke-width="0.9"/>
<line x1="292.4" y1="236.8" x2="292.4" y2="239.3" stroke="#333" stroke-width="0.9"/>
<line x1="288.9" y1="172.8" x2="292.4" y2="172.8" stroke="#333" stroke-width="0.9"/>
<line x1="314.4" y1="236.8" x2="314.4" y2="239.3" stroke="#333" stroke-width="0.9"/>
<line x1="288.9" y1="194.2" x2="292.4" y2="194.2" stroke="#333" stroke-width="0.9"/>
<line x1="336.4" y1="236.8" x2="336.4" y2="239.3" stroke="#333" stroke-width="0.9"/>
<line x1="288.9" y1="215.5" x2="292.4" y2="215.5" stroke="#333" stroke-width="0.9"/>
<line x1="358.3" y1="236.8" x2="358.3" y2="239.3" stroke="#333" stroke-width="0.9"/>
<line x1="288.9" y1="236.8" x2="292.4" y2="236.8" stroke="#333" stroke-width="0.9"/>
<line x1="380.3" y1="236.8" x2="380.3" y2="239.3" stroke="#333" stroke-width="0.9"/>
<text class="r" x="287.1" y="154.6" font-size="7.4" text-anchor="end" fill="#000" stroke="#000" stroke-width="0.25">10<tspan dx="2.8" dy="-2.3" font-size="4.6">4</tspan></text>
<text class="r" x="287.1" y="175.9" font-size="7.4" text-anchor="end" fill="#000" stroke="#000" stroke-width="0.25">10<tspan dx="2.8" dy="-2.3" font-size="4.6">3</tspan></text>
<text class="r" x="287.1" y="197.2" font-size="7.4" text-anchor="end" fill="#000" stroke="#000" stroke-width="0.25">10<tspan dx="2.8" dy="-2.3" font-size="4.6">2</tspan></text>
<text class="r" x="287.1" y="218.6" font-size="7.4" text-anchor="end" fill="#000" stroke="#000" stroke-width="0.25">10<tspan dx="2.8" dy="-2.3" font-size="4.6">1</tspan></text>
<text class="r" x="287.1" y="239.9" font-size="7.4" text-anchor="end" fill="#000" stroke="#000" stroke-width="0.25">10<tspan dx="2.8" dy="-2.3" font-size="4.6">0</tspan></text>
<text class="r" x="292.8" y="248.4" font-size="7.4" text-anchor="end" fill="#000">10<tspan dx="0.5" dy="-2.3" font-size="4.6">0</tspan></text>
<text class="r" x="314.8" y="248.4" font-size="7.4" text-anchor="end" fill="#000">10<tspan dx="0.5" dy="-2.3" font-size="4.6">1</tspan></text>
<text class="r" x="336.8" y="248.4" font-size="7.4" text-anchor="end" fill="#000">10<tspan dx="0.5" dy="-2.3" font-size="4.6">2</tspan></text>
<text class="r" x="358.7" y="248.4" font-size="7.4" text-anchor="end" fill="#000">10<tspan dx="0.5" dy="-2.3" font-size="4.6">3</tspan></text>
<text class="r" x="380.7" y="248.4" font-size="7.4" text-anchor="end" fill="#000">10<tspan dx="0.5" dy="-2.3" font-size="4.6">4</tspan></text>
<text class="rb" x="335.9" y="259.4" font-size="10.8" text-anchor="middle">120G8</text>
<text class="rb" x="271.3" y="189.2" font-size="10.8" text-anchor="middle" transform="rotate(-90 271.3 189.2)">CD11c</text>
<line x1="332.4" y1="161.8" x2="389" y2="161.8" stroke="#000" stroke-width="2"/>
<path d="M393.7 161.8 L387.5 159.2 L387.5 164.4 Z" fill="#000"/>
<path d="M481 156h1m-44 3h1m18 0h1m-44 5h1m44 0h1m-30 2h1m16 0h1m-25 3h1m6 0h1m21 0h1m-39 1h1m15 0h1m4 0h1m21 0h1m26 0h1m-64 1h1m0 0h1m1 0h1m1 0h1m14 0h1m-14 1h1m3 0h1m6 0h1m3 0h1m-14 1h1m1 0h1m0 0h1m7 0h1m-20 1h1m5 0h1m5 0h1m3 0h1m2 0h1m4 0h1m-30 1h1m5 0h1m7 0h1m1 0h1m8 0h1m2 0h1m12 0h1m-35 1h1m1 0h1m2 0h1m0 0h1m2 0h1m1 0h1m0 0h1m1 0h1m0 0h1m20 0h1m-36 1h1m1 0h1m0 0h1m2 0h1m0 0h1m10 0h1m6 0h1m-35 1h1m7 0h1m5 0h1m0 0h1m0 0h1m0 0h1m0 0h1m1 0h1m0 0h1m0 0h1m2 0h1m0 0h1m8 0h1m33 0h1m-67 1h1m5 0h1m0 0h1m2 0h1m1 0h1m0 0h1m1 0h1m1 0h1m1 0h1m0 0h1m2 0h1m9 0h1m8 0h1m-42 1h1m3 0h1m3 0h1m0 0h1m1 0h1m0 0h1m0 0h1m3 0h1m0 0h1m2 0h1m1 0h1m-24 1h1m1 0h1m0 0h1m3 0h1m2 0h1m0 0h1m0 0h1m1 0h1m1 0h1m0 0h1m0 0h1m1 0h1m4 0h1m2 0h1m10 0h1m4 0h1m5 0h1m-54 1h1m0 0h1m0 0h1m2 0h1m0 0h1m0 0h1m0 0h1m2 0h1m0 0h1m0 0h1m1 0h1m0 0h1m0 0h1m0 0h1m0 0h1m0 0h1m0 0h1m0 0h1m0 0h1m0 0h1m7 0h1m0 0h1m14 0h1m-45 1h1m0 0h1m0 0h1m2 0h1m0 0h1m2 0h1m0 0h1m1 0h1m0 0h1m1 0h1m0 0h1m0 0h1m1 0h1m0 0h1m0 0h1m0 0h1m0 0h1m2 0h1m0 0h1m1 0h1m5 0h1m0 0h1m2 0h1m-45 1h1m0 0h1m2 0h1m1 0h1m5 0h1m0 0h1m2 0h1m0 0h1m0 0h1m0 0h1m0 0h1m0 0h1m0 0h1m2 0h1m0 0h1m2 0h1m1 0h1m1 0h1m6 0h1m-43 1h1m5 0h1m1 0h1m1 0h1m1 0h1m0 0h1m0 0h1m1 0h1m0 0h1m0 0h1m1 0h1m1 0h1m1 0h1m0 0h1m1 0h1m0 0h1m1 0h1m0 0h1m0 0h1m5 0h1m-38 1h1m0 0h1m6 0h1m0 0h1m0 0h1m0 0h1m0 0h1m0 0h1m0 0h1m0 0h1m0 0h1m0 0h1m2 0h1m0 0h1m0 0h1m0 0h1m0 0h1m0 0h1m0 0h1m0 0h1m2 0h1m1 0h1m0 0h1m1 0h1m1 0h1m5 0h1m-44 1h1m2 0h1m4 0h1m3 0h1m0 0h1m1 0h1m1 0h1m0 0h1m0 0h1m0 0h1m1 0h1m0 0h1m0 0h1m0 0h1m0 0h1m1 0h1m0 0h1m1 0h1m4 0h1m4 0h1m-44 1h1m4 0h1m4 0h1m0 0h1m0 0h1m0 0h1m0 0h1m0 0h1m0 0h1m0 0h1m0 0h1m0 0h1m0 0h1m0 0h1m0 0h1m1 0h1m0 0h1m1 0h1m0 0h1m0 0h1m2 0h1m3 0h1m-34 1h1m1 0h1m1 0h1m1 0h1m1 0h1m1 0h1m0 0h1m0 0h1m0 0h1m0 0h1m0 0h1m0 0h1m0 0h1m0 0h1m0 0h1m0 0h1m0 0h1m1 0h1m0 0h1m0 0h1m0 0h1m3 0h1m12 0h1m-42 1h1m0 0h1m1 0h1m0 0h1m0 0h1m1 0h1m0 0h1m0 0h1m0 0h1m0 0h1m0 0h1m0 0h1m0 0h1m0 0h1m0 0h1m0 0h1m0 0h1m2 0h1m0 0h1m1 0h1m1 0h1m5 0h1m5 0h1m1 0h1m25 0h1m-72 1h1m7 0h1m0 0h1m1 0h1m0 0h1m0 0h1m0 0h1m0 0h1m1 0h1m0 0h1m1 0h1m0 0h1m0 0h1m0 0h1m0 0h1m1 0h1m0 0h1m0 0h1m0 0h1m0 0h1m0 0h1m1 0h1m0 0h1m4 0h1m1 0h1m30 0h1m-71 1h1m6 0h1m4 0h1m0 0h1m0 0h1m0 0h1m0 0h1m0 0h1m0 0h1m1 0h1m0 0h1m0 0h1m0 0h1m0 0h1m0 0h1m0 0h1m1 0h1m0 0h1m0 0h1m2 0h1m0 0h1m3 0h1m24 0h1m3 0h1m6 0h1m-75 1h1m5 0h1m0 0h1m0 0h1m1 0h1m0 0h1m0 0h1m0 0h1m0 0h1m0 0h1m0 0h1m0 0h1m0 0h1m0 0h1m0 0h1m0 0h1m1 0h1m0 0h1m1 0h1m0 0h1m0 0h1m1 0h1m1 0h1m0 0h1m0 0h1m0 0h1m0 0h1m0 0h1m1 0h1m0 0h1m4 0h1m0 0h1m10 0h1m-55 1h1m0 0h1m1 0h1m0 0h1m0 0h1m2 0h1m1 0h1m0 0h1m0 0h1m0 0h1m0 0h1m0 0h1m0 0h1m1 0h1m0 0h1m0 0h1m0 0h1m0 0h1m0 0h1m0 0h1m0 0h1m0 0h1m0 0h1m1 0h1m4 0h1m2 0h1m4 0h1m6 0h1m8 0h1m-64 1h1m5 0h1m0 0h1m0 0h1m0 0h1m3 0h1m0 0h1m1 0h1m2 0h1m0 0h1m0 0h1m0 0h1m0 0h1m0 0h1m0 0h1m2 0h1m0 0h1m1 0h1m0 0h1m2 0h1m0 0h1m0 0h1m1 0h1m2 0h1m0 0h1m2 0h1m1 0h1m5 0h1m-54 1h1m2 0h1m5 0h1m0 0h1m0 0h1m0 0h1m0 0h1m0 0h1m0 0h1m0 0h1m0 0h1m0 0h1m0 0h1m0 0h1m2 0h1m0 0h1m0 0h1m1 0h1m0 0h1m0 0h1m0 0h1m1 0h1m1 0h1m0 0h1m1 0h1m1 0h1m1 0h1m0 0h1m1 0h1m0 0h1m0 0h1m5 0h1m0 0h1m-49 1h1m1 0h1m3 0h1m0 0h1m0 0h1m0 0h1m0 0h1m0 0h1m0 0h1m0 0h1m0 0h1m0 0h1m0 0h1m0 0h1m0 0h1m1 0h1m0 0h1m0 0h1m0 0h1m0 0h1m0 0h1m1 0h1m0 0h1m0 0h1m0 0h1m0 0h1m0 0h1m1 0h1m0 0h1m0 0h1m3 0h1m5 0h1m-42 1h1m0 0h1m0 0h1m0 0h1m0 0h1m0 0h1m2 0h1m0 0h1m0 0h1m1 0h1m0 0h1m0 0h1m1 0h1m0 0h1m0 0h1m0 0h1m0 0h1m0 0h1m0 0h1m1 0h1m0 0h1m0 0h1m1 0h1m1 0h1m0 0h1m0 0h1m0 0h1m0 0h1m2 0h1m-47 1h1m1 0h1m1 0h1m3 0h1m1 0h1m0 0h1m0 0h1m0 0h1m0 0h1m0 0h1m0 0h1m0 0h1m0 0h1m0 0h1m0 0h1m0 0h1m0 0h1m0 0h1m0 0h1m0 0h1m0 0h1m0 0h1m1 0h1m0 0h1m0 0h1m0 0h1m0 0h1m0 0h1m0 0h1m0 0h1m4 0h1m1 0h1m4 0h1m24 0h1m-72 1h1m2 0h1m1 0h1m2 0h1m0 0h1m0 0h1m0 0h1m0 0h1m0 0h1m0 0h1m0 0h1m0 0h1m0 0h1m0 0h1m0 0h1m0 0h1m0 0h1m0 0h1m0 0h1m0 0h1m0 0h1m0 0h1m0 0h1m0 0h1m0 0h1m1 0h1m0 0h1m0 0h1m0 0h1m0 0h1m0 0h1m0 0h1m0 0h1m1 0h1m0 0h1m2 0h1m1 0h1m-48 1h1m1 0h1m1 0h1m0 0h1m3 0h1m0 0h1m0 0h1m0 0h1m0 0h1m0 0h1m0 0h1m0 0h1m0 0h1m0 0h1m0 0h1m0 0h1m0 0h1m0 0h1m0 0h1m0 0h1m1 0h1m0 0h1m0 0h1m0 0h1m0 0h1m0 0h1m0 0h1m0 0h1m0 0h1m0 0h1m0 0h1m0 0h1m0 0h1m0 0h1m1 0h1m0 0h1m0 0h1m1 0h1m0 0h1m0 0h1m2 0h1m-51 1h1m5 0h1m0 0h1m0 0h1m1 0h1m0 0h1m0 0h1m0 0h1m0 0h1m0 0h1m0 0h1m1 0h1m0 0h1m0 0h1m0 0h1m0 0h1m0 0h1m0 0h1m0 0h1m0 0h1m0 0h1m0 0h1m1 0h1m0 0h1m1 0h1m0 0h1m0 0h1m0 0h1m0 0h1m0 0h1m0 0h1m0 0h1m0 0h1m1 0h1m0 0h1m0 0h1m0 0h1m0 0h1m2 0h1m0 0h1m-49 1h1m0 0h1m0 0h1m0 0h1m1 0h1m0 0h1m0 0h1m0 0h1m0 0h1m0 0h1m0 0h1m0 0h1m0 0h1m0 0h1m0 0h1m0 0h1m0 0h1m0 0h1m0 0h1m0 0h1m0 0h1m0 0h1m0 0h1m0 0h1m0 0h1m1 0h1m0 0h1m1 0h1m0 0h1m0 0h1m0 0h1m0 0h1m0 0h1m0 0h1m0 0h1m0 0h1m0 0h1m0 0h1m5 0h1m-46 1h1m0 0h1m1 0h1m0 0h1m0 0h1m0 0h1m0 0h1m0 0h1m0 0h1m0 0h1m0 0h1m0 0h1m0 0h1m0 0h1m0 0h1m0 0h1m0 0h1m0 0h1m0 0h1m0 0h1m0 0h1m0 0h1m0 0h1m0 0h1m0 0h1m0 0h1m1 0h1m0 0h1m0 0h1m0 0h1m0 0h1m0 0h1m0 0h1m0 0h1m0 0h1m0 0h1m0 0h1m1 0h1m1 0h1m3 0h1m-53 1h1m4 0h1m0 0h1m0 0h1m0 0h1m0 0h1m0 0h1m1 0h1m0 0h1m0 0h1m0 0h1m0 0h1m0 0h1m0 0h1m0 0h1m0 0h1m0 0h1m0 0h1m0 0h1m0 0h1m0 0h1m0 0h1m0 0h1m0 0h1m0 0h1m0 0h1m1 0h1m0 0h1m0 0h1m0 0h1m0 0h1m0 0h1m1 0h1m0 0h1m0 0h1m0 0h1m0 0h1m2 0h1m0 0h1m0 0h1m2 0h1m0 0h1m1 0h1m12 0h1m-65 1h1m4 0h1m0 0h1m1 0h1m0 0h1m0 0h1m0 0h1m0 0h1m0 0h1m0 0h1m0 0h1m0 0h1m1 0h1m0 0h1m0 0h1m0 0h1m0 0h1m0 0h1m0 0h1m0 0h1m0 0h1m0 0h1m0 0h1m0 0h1m0 0h1m0 0h1m0 0h1m0 0h1m2 0h1m0 0h1m0 0h1m0 0h1m0 0h1m1 0h1m0 0h1m0 0h1m0 0h1m0 0h1m-46 1h1m0 0h1m0 0h1m1 0h1m0 0h1m0 0h1m0 0h1m0 0h1m0 0h1m0 0h1m0 0h1m0 0h1m0 0h1m0 0h1m0 0h1m0 0h1m0 0h1m0 0h1m0 0h1m1 0h1m0 0h1m0 0h1m0 0h1m0 0h1m0 0h1m0 0h1m0 0h1m0 0h1m0 0h1m1 0h1m0 0h1m0 0h1m0 0h1m0 0h1m0 0h1m0 0h1m0 0h1m0 0h1m2 0h1m0 0h1m4 0h1m-52 1h1m0 0h1m0 0h1m2 0h1m0 0h1m0 0h1m0 0h1m0 0h1m0 0h1m0 0h1m0 0h1m0 0h1m0 0h1m0 0h1m0 0h1m0 0h1m0 0h1m1 0h1m0 0h1m0 0h1m0 0h1m0 0h1m0 0h1m0 0h1m0 0h1m0 0h1m0 0h1m0 0h1m0 0h1m0 0h1m0 0h1m0 0h1m0 0h1m0 0h1m0 0h1m0 0h1m0 0h1m2 0h1m0 0h1m1 0h1m0 0h1m4 0h1m-55 1h1m8 0h1m1 0h1m1 0h1m0 0h1m1 0h1m0 0h1m0 0h1m0 0h1m0 0h1m1 0h1m0 0h1m0 0h1m0 0h1m0 0h1m0 0h1m1 0h1m0 0h1m0 0h1m0 0h1m0 0h1m0 0h1m0 0h1m0 0h1m0 0h1m0 0h1m0 0h1m1 0h1m0 0h1m0 0h1m0 0h1m0 0h1m0 0h1m0 0h1m0 0h1m1 0h1m1 0h1m-45 1h1m1 0h1m0 0h1m0 0h1m0 0h1m0 0h1m0 0h1m0 0h1m0 0h1m0 0h1m0 0h1m0 0h1m0 0h1m0 0h1m0 0h1m0 0h1m0 0h1m0 0h1m0 0h1m1 0h1m0 0h1m0 0h1m0 0h1m0 0h1m0 0h1m0 0h1m0 0h1m0 0h1m0 0h1m0 0h1m0 0h1m0 0h1m0 0h1m1 0h1m0 0h1m0 0h1m0 0h1m0 0h1m-46 1h1m1 0h1m1 0h1m1 0h1m1 0h1m1 0h1m0 0h1m0 0h1m0 0h1m0 0h1m0 0h1m0 0h1m0 0h1m0 0h1m0 0h1m0 0h1m0 0h1m0 0h1m0 0h1m0 0h1m0 0h1m0 0h1m0 0h1m0 0h1m0 0h1m0 0h1m0 0h1m1 0h1m0 0h1m0 0h1m0 0h1m0 0h1m0 0h1m1 0h1m0 0h1m2 0h1m0 0h1m2 0h1m-45 1h1m1 0h1m0 0h1m0 0h1m0 0h1m0 0h1m0 0h1m0 0h1m0 0h1m0 0h1m0 0h1m0 0h1m0 0h1m0 0h1m0 0h1m0 0h1m0 0h1m0 0h1m0 0h1m0 0h1m0 0h1m0 0h1m0 0h1m0 0h1m0 0h1m0 0h1m0 0h1m0 0h1m0 0h1m0 0h1m0 0h1m0 0h1m1 0h1m0 0h1m0 0h1m1 0h1m0 0h1m0 0h1m2 0h1m6 0h1m-58 1h1m1 0h1m2 0h1m1 0h1m1 0h1m0 0h1m0 0h1m0 0h1m0 0h1m0 0h1m0 0h1m1 0h1m0 0h1m0 0h1m0 0h1m0 0h1m0 0h1m0 0h1m0 0h1m0 0h1m0 0h1m0 0h1m0 0h1m0 0h1m0 0h1m0 0h1m0 0h1m0 0h1m0 0h1m0 0h1m1 0h1m0 0h1m0 0h1m0 0h1m1 0h1m0 0h1m1 0h1m0 0h1m0 0h1m0 0h1m3 0h1m0 0h1m3 0h1m11 0h1m-64 1h1m1 0h1m0 0h1m1 0h1m0 0h1m1 0h1m0 0h1m0 0h1m0 0h1m0 0h1m1 0h1m0 0h1m1 0h1m0 0h1m0 0h1m0 0h1m0 0h1m0 0h1m0 0h1m0 0h1m1 0h1m0 0h1m0 0h1m0 0h1m0 0h1m0 0h1m0 0h1m0 0h1m2 0h1m0 0h1m0 0h1m0 0h1m2 0h1m1 0h1m1 0h1m-52 1h1m1 0h1m3 0h1m0 0h1m1 0h1m0 0h1m1 0h1m0 0h1m0 0h1m0 0h1m0 0h1m0 0h1m0 0h1m0 0h1m0 0h1m0 0h1m0 0h1m0 0h1m0 0h1m0 0h1m0 0h1m0 0h1m0 0h1m0 0h1m0 0h1m0 0h1m0 0h1m0 0h1m0 0h1m0 0h1m0 0h1m0 0h1m0 0h1m0 0h1m0 0h1m1 0h1m1 0h1m1 0h1m0 0h1m-45 1h1m2 0h1m1 0h1m0 0h1m0 0h1m0 0h1m0 0h1m0 0h1m0 0h1m0 0h1m0 0h1m0 0h1m0 0h1m0 0h1m0 0h1m0 0h1m1 0h1m0 0h1m0 0h1m0 0h1m0 0h1m0 0h1m0 0h1m0 0h1m1 0h1m0 0h1m0 0h1m1 0h1m0 0h1m0 0h1m0 0h1m1 0h1m0 0h1m0 0h1m4 0h1m-46 1h1m2 0h1m2 0h1m0 0h1m0 0h1m0 0h1m0 0h1m0 0h1m0 0h1m0 0h1m0 0h1m0 0h1m0 0h1m0 0h1m0 0h1m0 0h1m0 0h1m0 0h1m0 0h1m0 0h1m0 0h1m0 0h1m0 0h1m0 0h1m0 0h1m0 0h1m0 0h1m0 0h1m0 0h1m0 0h1m3 0h1m0 0h1m5 0h1m-43 1h1m0 0h1m2 0h1m0 0h1m0 0h1m2 0h1m0 0h1m0 0h1m0 0h1m0 0h1m0 0h1m0 0h1m0 0h1m0 0h1m0 0h1m0 0h1m0 0h1m0 0h1m0 0h1m0 0h1m0 0h1m0 0h1m0 0h1m0 0h1m0 0h1m0 0h1m1 0h1m0 0h1m0 0h1m0 0h1m1 0h1m0 0h1m0 0h1m3 0h1m0 0h1m11 0h1m-57 1h1m2 0h1m0 0h1m0 0h1m0 0h1m2 0h1m0 0h1m0 0h1m0 0h1m0 0h1m0 0h1m0 0h1m0 0h1m0 0h1m0 0h1m0 0h1m0 0h1m0 0h1m0 0h1m0 0h1m0 0h1m0 0h1m0 0h1m0 0h1m0 0h1m0 0h1m1 0h1m0 0h1m0 0h1m0 0h1m1 0h1m0 0h1m1 0h1m2 0h1m2 0h1m0 0h1m-52 1h1m8 0h1m0 0h1m0 0h1m0 0h1m0 0h1m1 0h1m1 0h1m0 0h1m0 0h1m0 0h1m0 0h1m0 0h1m0 0h1m0 0h1m0 0h1m0 0h1m0 0h1m1 0h1m0 0h1m0 0h1m0 0h1m1 0h1m0 0h1m1 0h1m0 0h1m0 0h1m3 0h1m0 0h1m-38 1h1m1 0h1m3 0h1m0 0h1m0 0h1m2 0h1m0 0h1m0 0h1m0 0h1m1 0h1m0 0h1m0 0h1m0 0h1m0 0h1m0 0h1m0 0h1m0 0h1m0 0h1m0 0h1m0 0h1m0 0h1m0 0h1m0 0h1m3 0h1m1 0h1m-36 1h1m1 0h1m0 0h1m0 0h1m0 0h1m1 0h1m0 0h1m0 0h1m0 0h1m0 0h1m0 0h1m0 0h1m0 0h1m1 0h1m0 0h1m0 0h1m0 0h1m0 0h1m0 0h1m0 0h1m2 0h1m0 0h1m0 0h1m0 0h1m0 0h1m0 0h1m0 0h1m1 0h1m0 0h1m0 0h1m4 0h1m-47 1h1m9 0h1m1 0h1m0 0h1m0 0h1m0 0h1m0 0h1m0 0h1m0 0h1m0 0h1m0 0h1m0 0h1m1 0h1m1 0h1m1 0h1m0 0h1m0 0h1m0 0h1m0 0h1m0 0h1m2 0h1m1 0h1m1 0h1m1 0h1m5 0h1m-47 1h1m8 0h1m0 0h1m0 0h1m0 0h1m0 0h1m1 0h1m0 0h1m0 0h1m0 0h1m0 0h1m0 0h1m0 0h1m0 0h1m0 0h1m0 0h1m0 0h1m0 0h1m0 0h1m0 0h1m0 0h1m0 0h1m0 0h1m1 0h1m1 0h1m0 0h1m0 0h1m0 0h1m0 0h1m0 0h1m6 0h1m-50 1h1m7 0h1m1 0h1m1 0h1m0 0h1m0 0h1m2 0h1m1 0h1m0 0h1m0 0h1m0 0h1m0 0h1m0 0h1m0 0h1m1 0h1m1 0h1m3 0h1m1 0h1m1 0h1m1 0h1m1 0h1m0 0h1m2 0h1m-37 1h1m0 0h1m1 0h1m1 0h1m1 0h1m2 0h1m0 0h1m0 0h1m0 0h1m0 0h1m2 0h1m0 0h1m2 0h1m0 0h1m2 0h1m-26 1h1m1 0h1m2 0h1m3 0h1m0 0h1m0 0h1m3 0h1m2 0h1m0 0h1m5 0h1m0 0h1m0 0h1m0 0h1m0 0h1m17 0h1m-48 1h1m3 0h1m3 0h1m1 0h1m0 0h1m1 0h1m0 0h1m3 0h1m1 0h1m0 0h1m4 0h1m1 0h1m8 0h1m5 0h1m-43 1h1m5 0h1m3 0h1m0 0h1m0 0h1m1 0h1m1 0h1m1 0h1m7 0h1m2 0h1m-31 1h1m0 0h1m0 0h1m5 0h1m2 0h1m1 0h1m12 0h1m2 0h1m1 0h1m8 0h1m-34 1h1m7 0h1m1 0h1m3 0h1m12 0h1m-24 1h1m10 0h1m0 0h1m7 0h1m-24 1h1m9 0h1m-5 1h1m2 0h1m13 0h1m-30 1h1m2 0h1m4 0h1m1 0h1m2 0h1m5 0h1m18 0h1" stroke="#262626" stroke-width="1" transform="translate(0 0.5)" fill="none"/>
<line x1="444.1" y1="151.5" x2="444.1" y2="236.8" stroke="#444" stroke-width="1.0"/>
<line x1="412.5" y1="198.5" x2="496.6" y2="198.5" stroke="#444" stroke-width="1.0"/>
<rect x="412.5" y="151.5" width="84.1" height="85.3" fill="none" stroke="#333" stroke-width="0.9"/>
<line x1="409" y1="151.5" x2="412.5" y2="151.5" stroke="#333" stroke-width="0.9"/>
<line x1="412.5" y1="236.8" x2="412.5" y2="239.3" stroke="#333" stroke-width="0.9"/>
<line x1="409" y1="172.8" x2="412.5" y2="172.8" stroke="#333" stroke-width="0.9"/>
<line x1="433.5" y1="236.8" x2="433.5" y2="239.3" stroke="#333" stroke-width="0.9"/>
<line x1="409" y1="194.2" x2="412.5" y2="194.2" stroke="#333" stroke-width="0.9"/>
<line x1="454.6" y1="236.8" x2="454.6" y2="239.3" stroke="#333" stroke-width="0.9"/>
<line x1="409" y1="215.5" x2="412.5" y2="215.5" stroke="#333" stroke-width="0.9"/>
<line x1="475.6" y1="236.8" x2="475.6" y2="239.3" stroke="#333" stroke-width="0.9"/>
<line x1="409" y1="236.8" x2="412.5" y2="236.8" stroke="#333" stroke-width="0.9"/>
<line x1="496.6" y1="236.8" x2="496.6" y2="239.3" stroke="#333" stroke-width="0.9"/>
<text class="r" x="407.2" y="154.6" font-size="7.4" text-anchor="end" fill="#000" stroke="#000" stroke-width="0.25">10<tspan dx="2.8" dy="-2.3" font-size="4.6">4</tspan></text>
<text class="r" x="407.2" y="175.9" font-size="7.4" text-anchor="end" fill="#000" stroke="#000" stroke-width="0.25">10<tspan dx="2.8" dy="-2.3" font-size="4.6">3</tspan></text>
<text class="r" x="407.2" y="197.2" font-size="7.4" text-anchor="end" fill="#000" stroke="#000" stroke-width="0.25">10<tspan dx="2.8" dy="-2.3" font-size="4.6">2</tspan></text>
<text class="r" x="407.2" y="218.6" font-size="7.4" text-anchor="end" fill="#000" stroke="#000" stroke-width="0.25">10<tspan dx="2.8" dy="-2.3" font-size="4.6">1</tspan></text>
<text class="r" x="407.2" y="239.9" font-size="7.4" text-anchor="end" fill="#000" stroke="#000" stroke-width="0.25">10<tspan dx="2.8" dy="-2.3" font-size="4.6">0</tspan></text>
<text class="r" x="412.9" y="248.4" font-size="7.4" text-anchor="end" fill="#000">10<tspan dx="0.5" dy="-2.3" font-size="4.6">0</tspan></text>
<text class="r" x="433.9" y="248.4" font-size="7.4" text-anchor="end" fill="#000">10<tspan dx="0.5" dy="-2.3" font-size="4.6">1</tspan></text>
<text class="r" x="454.9" y="248.4" font-size="7.4" text-anchor="end" fill="#000">10<tspan dx="0.5" dy="-2.3" font-size="4.6">2</tspan></text>
<text class="r" x="476" y="248.4" font-size="7.4" text-anchor="end" fill="#000">10<tspan dx="0.5" dy="-2.3" font-size="4.6">3</tspan></text>
<text class="r" x="497" y="248.4" font-size="7.4" text-anchor="end" fill="#000">10<tspan dx="0.5" dy="-2.3" font-size="4.6">4</tspan></text>
<text class="rb" x="454.1" y="259.4" font-size="10.8" text-anchor="middle">CD8</text>
<text class="rb" x="390.6" y="194.2" font-size="10.8" text-anchor="middle" transform="rotate(-90 390.6 194.2)">CD4</text>
<text class="rb" x="414.3" y="159.6" font-size="8.6" stroke="#000" stroke-width="0.3">13</text>
<text class="rb" x="414.3" y="233.2" font-size="8.6" stroke="#000" stroke-width="0.3">56</text>
<text class="rb" x="494.6" y="233.4" font-size="8.6" text-anchor="end" stroke="#000" stroke-width="0.3">30</text>
<text class="sb" x="2.2" y="294.7" font-size="18">D</text>
<path d="M20.5 363.8V360.9H21.8V360.2H23.1V358.4H24.4V359.5H25.7V357.2H27V358.3H28.3V354.2H29.6V354.2H30.9V351.9H32.2V353.3H33.5V351.2H34.8V351.6H36.1V353.8H37.4V354.4H38.7V357.4H40V358.2H41.3V358.5H42.6V358.3H43.9V354.2H45.2V340.4H46.5V337.1H47.8V335.7H49.1V329.3H50.4V327.3H51.7V321.1H53V317.9H54.3V308.5H55.6V322.6H56.9V324H58.2V323.7H59.5V322.3H60.9V336.5H62.2V342.5H63.5V337.8H64.8V349.6H66.1V349H67.4V348.4H68.7V347.2H70V353.3H71.3V356.3H72.6V354.1H73.9V356.9H75.2V358.3H76.5V359.2H77.8V360.3H79.1V361.3H80.4V362.4H81.7V363.8Z" fill="#d2d2d2" stroke="#3a3a3a" stroke-width="0.8"/>
<path d="M20.5 363.8V319.8H21.8V320.8H23.1V328.8H24.4V331.6H25.7V327.7H27V329.5H28.3V333.7H29.6V326.7H30.9V321.8H32.2V331.7H33.5V335.1H34.8V335.7H36.1V340.1H37.4V344.9H38.7V353H40V351.8H41.3V357.2H42.6V361.2H43.9V363.8" fill="none" stroke="#151515" stroke-width="1.05"/>
<path d="M20.5 363.8V351H21.8V352.3H23.1V353.1H24.4V351.1H25.7V347.3H27V348.2H28.3V344.4H29.6V341.3H30.9V346.8H32.2V344.3H33.5V339.5H34.8V344.9H36.1V339.8H37.4V334.5H38.7V334.6H40V335.4H41.3V342.8H42.6V328.7H43.9V334.6H45.2V333.9H46.5V334.8H47.8V342.1H49.1V341.3H50.4V340.8H51.7V331H53V340H54.3V338.5H55.6V339.7H56.9V338.5H58.2V340H59.5V341.9H60.9V346.8H62.2V352.1H63.5V345.9H64.8V346.9H66.1V346.4H67.4V350.4H68.7V353H70V353.6H71.3V357.5H72.6V357.8H73.9V358.5H75.2V358.4H76.5V358.3H77.8V360.1H79.1V361H80.4V362.3H81.7V363.8" fill="none" stroke="#dc1c22" stroke-width="1.9"/>
<rect x="20.5" y="305.6" width="78.1" height="58.2" fill="none" stroke="#222" stroke-width="0.9"/>
<line x1="20.5" y1="305.6" x2="20.5" y2="364.6" stroke="#000" stroke-width="1.7"/>
<line x1="20" y1="363.8" x2="98.6" y2="363.8" stroke="#000" stroke-width="1.3"/>
<line x1="18.9" y1="315.4" x2="21" y2="315.4" stroke="#000" stroke-width="0.6"/>
<line x1="18.9" y1="321.2" x2="21" y2="321.2" stroke="#000" stroke-width="0.6"/>
<line x1="18.9" y1="327" x2="21" y2="327" stroke="#000" stroke-width="0.6"/>
<line x1="18.9" y1="332.8" x2="21" y2="332.8" stroke="#000" stroke-width="0.6"/>
<line x1="18.9" y1="338.6" x2="21" y2="338.6" stroke="#000" stroke-width="0.6"/>
<line x1="18.9" y1="344.4" x2="21" y2="344.4" stroke="#000" stroke-width="0.6"/>
<line x1="18.9" y1="350.2" x2="21" y2="350.2" stroke="#000" stroke-width="0.6"/>
<line x1="18.9" y1="356" x2="21" y2="356" stroke="#000" stroke-width="0.6"/>
<line x1="20.5" y1="363.8" x2="20.5" y2="365.3" stroke="#000" stroke-width="0.6"/>
<text class="r" x="21.3" y="371.5" font-size="5.2" text-anchor="middle" fill="#333">10<tspan dy="-2" font-size="3.4">0</tspan></text>
<line x1="40" y1="363.8" x2="40" y2="365.3" stroke="#000" stroke-width="0.6"/>
<text class="r" x="40.8" y="371.5" font-size="5.2" text-anchor="middle" fill="#333">10<tspan dy="-2" font-size="3.4">1</tspan></text>
<line x1="59.5" y1="363.8" x2="59.5" y2="365.3" stroke="#000" stroke-width="0.6"/>
<text class="r" x="60.3" y="371.5" font-size="5.2" text-anchor="middle" fill="#333">10<tspan dy="-2" font-size="3.4">2</tspan></text>
<line x1="79.1" y1="363.8" x2="79.1" y2="365.3" stroke="#000" stroke-width="0.6"/>
<text class="r" x="79.9" y="371.5" font-size="5.2" text-anchor="middle" fill="#333">10<tspan dy="-2" font-size="3.4">3</tspan></text>
<line x1="98.6" y1="363.8" x2="98.6" y2="365.3" stroke="#000" stroke-width="0.6"/>
<text class="r" x="99.4" y="371.5" font-size="5.2" text-anchor="middle" fill="#333">10<tspan dy="-2" font-size="3.4">4</tspan></text>
<text class="r" x="24.1" y="314" font-size="10">Fresh</text>
<path d="M115.5 363.8V357.4H116.8V357.1H118.1V356.3H119.4V357.3H120.7V355.6H122V355H123.3V351.8H124.6V350.8H125.9V348.9H127.2V347H128.5V348.6H129.8V345.1H131.1V342.1H132.4V344.2H133.7V340.4H135V341.6H136.3V343.7H137.6V338H138.9V339.1H140.2V335.2H141.5V335.5H142.8V331.8H144.1V338.3H145.4V323H146.7V323.9H148V328H149.3V326.9H150.6V319.7H151.9V316.7H153.2V326.2H154.5V334.7H155.8V347.8H157.1V350.1H158.4V349.6H159.7V354H161V358H162.3V358.4H163.6V359.6H164.9V360.2H166.2V360.4H167.5V361.4H168.8V361.6H170.1V362.3H171.4V363.8Z" fill="#d2d2d2" stroke="#3a3a3a" stroke-width="0.8"/>
<path d="M115.5 363.8V329.4H116.8V325.7H118.1V312H119.4V329.3H120.7V332.7H122V325.6H123.3V332.7H124.6V335.4H125.9V333.2H127.2V345.3H128.5V342.7H129.8V349.4H131.1V353.1H132.4V355H133.7V355.1H135V358.5H136.3V361.4H137.6V363.8" fill="none" stroke="#151515" stroke-width="1.05"/>
<path d="M115.5 363.8V353.4H116.8V348.6H118.1V348.5H119.4V351.4H120.7V344.2H122V348.6H123.3V349.4H124.6V346.1H125.9V342.4H127.2V339.4H128.5V339.5H129.8V342.3H131.1V341.4H132.4V342.9H133.7V337.1H135V337.5H136.3V333.1H137.6V337.4H138.9V333.3H140.2V333.6H141.5V333.9H142.8V332.8H144.1V331H145.4V330.4H146.7V320.2H148V324H149.3V338.2H150.6V337.5H151.9V341.2H153.2V341.5H154.5V348.2H155.8V351H157.1V354.5H158.4V355.4H159.7V356.1H161V357.4H162.3V358.6H163.6V359H164.9V359.9H166.2V360.4H167.5V361.4H168.8V361.6H170.1V362.4H171.4V363.8" fill="none" stroke="#dc1c22" stroke-width="1.9"/>
<rect x="115.5" y="305.6" width="78" height="58.2" fill="none" stroke="#222" stroke-width="0.9"/>
<line x1="115.5" y1="305.6" x2="115.5" y2="364.6" stroke="#000" stroke-width="1.7"/>
<line x1="115" y1="363.8" x2="193.5" y2="363.8" stroke="#000" stroke-width="1.3"/>
<line x1="113.9" y1="315.4" x2="116" y2="315.4" stroke="#000" stroke-width="0.6"/>
<line x1="113.9" y1="321.2" x2="116" y2="321.2" stroke="#000" stroke-width="0.6"/>
<line x1="113.9" y1="327" x2="116" y2="327" stroke="#000" stroke-width="0.6"/>
<line x1="113.9" y1="332.8" x2="116" y2="332.8" stroke="#000" stroke-width="0.6"/>
<line x1="113.9" y1="338.6" x2="116" y2="338.6" stroke="#000" stroke-width="0.6"/>
<line x1="113.9" y1="344.4" x2="116" y2="344.4" stroke="#000" stroke-width="0.6"/>
<line x1="113.9" y1="350.2" x2="116" y2="350.2" stroke="#000" stroke-width="0.6"/>
<line x1="113.9" y1="356" x2="116" y2="356" stroke="#000" stroke-width="0.6"/>
<line x1="115.5" y1="363.8" x2="115.5" y2="365.3" stroke="#000" stroke-width="0.6"/>
<text class="r" x="116.3" y="371.5" font-size="5.2" text-anchor="middle" fill="#333">10<tspan dy="-2" font-size="3.4">0</tspan></text>
<line x1="135" y1="363.8" x2="135" y2="365.3" stroke="#000" stroke-width="0.6"/>
<text class="r" x="135.8" y="371.5" font-size="5.2" text-anchor="middle" fill="#333">10<tspan dy="-2" font-size="3.4">1</tspan></text>
<line x1="154.5" y1="363.8" x2="154.5" y2="365.3" stroke="#000" stroke-width="0.6"/>
<text class="r" x="155.3" y="371.5" font-size="5.2" text-anchor="middle" fill="#333">10<tspan dy="-2" font-size="3.4">2</tspan></text>
<line x1="174" y1="363.8" x2="174" y2="365.3" stroke="#000" stroke-width="0.6"/>
<text class="r" x="174.8" y="371.5" font-size="5.2" text-anchor="middle" fill="#333">10<tspan dy="-2" font-size="3.4">3</tspan></text>
<line x1="193.5" y1="363.8" x2="193.5" y2="365.3" stroke="#000" stroke-width="0.6"/>
<text class="r" x="194.3" y="371.5" font-size="5.2" text-anchor="middle" fill="#333">10<tspan dy="-2" font-size="3.4">4</tspan></text>
<path d="M209.8 363.8V355.7H211.1V354.5H212.4V352.3H213.8V353H215.1V353.7H216.4V353.6H217.7V352.1H219V351.5H220.4V351.4H221.7V352.8H223V352.2H224.3V352.6H225.6V351.6H227V351.4H228.3V349.6H229.6V351.7H230.9V349.3H232.3V345.5H233.6V347H234.9V343.2H236.2V346H237.5V343H238.9V340.2H240.2V342.5H241.5V340.6H242.8V331H244.1V341.7H245.5V344.1H246.8V346.2H248.1V347.3H249.4V349.4H250.7V350.1H252.1V352.5H253.4V355.7H254.7V357.6H256V359.3H257.3V360H258.7V360.4H260V360.7H261.3V361.7H262.6V362.5H263.9V363.8Z" fill="#d2d2d2" stroke="#3a3a3a" stroke-width="0.8"/>
<path d="M209.8 363.8V323.9H211.1V332.1H212.4V324H213.8V337.6H215.1V338.9H216.4V339.1H217.7V332.2H219V336.5H220.4V338.2H221.7V334.5H223V333.9H224.3V340.7H225.6V349H227V356.1H228.3V363.8" fill="none" stroke="#151515" stroke-width="1.05"/>
<path d="M209.8 363.8V350.5H211.1V350H212.4V352.1H213.8V349.9H215.1V349.3H216.4V352.6H217.7V346.5H219V347.9H220.4V348H221.7V341.9H223V345.6H224.3V346.9H225.6V345.1H227V343.3H228.3V342.4H229.6V344.1H230.9V345.8H232.3V345.1H233.6V344.2H234.9V343.8H236.2V339.6H237.5V339.8H238.9V334.9H240.2V333H241.5V328.3H242.8V319.5H244.1V325.8H245.5V325H246.8V337.9H248.1V338.3H249.4V343.3H250.7V350.1H252.1V348.9H253.4V351.3H254.7V355.8H256V353.7H257.3V354.7H258.7V357.3H260V356.3H261.3V358.5H262.6V360.2H263.9V359.7H265.3V360.5H266.6V361.1H267.9V361.7H269.2V361.1H270.6V363.8" fill="none" stroke="#dc1c22" stroke-width="1.9"/>
<rect x="209.8" y="305.6" width="76.6" height="58.2" fill="none" stroke="#222" stroke-width="0.9"/>
<line x1="209.8" y1="305.6" x2="209.8" y2="364.6" stroke="#000" stroke-width="1.7"/>
<line x1="209.3" y1="363.8" x2="286.4" y2="363.8" stroke="#000" stroke-width="1.3"/>
<line x1="208.2" y1="315.4" x2="210.3" y2="315.4" stroke="#000" stroke-width="0.6"/>
<line x1="208.2" y1="321.2" x2="210.3" y2="321.2" stroke="#000" stroke-width="0.6"/>
<line x1="208.2" y1="327" x2="210.3" y2="327" stroke="#000" stroke-width="0.6"/>
<line x1="208.2" y1="332.8" x2="210.3" y2="332.8" stroke="#000" stroke-width="0.6"/>
<line x1="208.2" y1="338.6" x2="210.3" y2="338.6" stroke="#000" stroke-width="0.6"/>
<line x1="208.2" y1="344.4" x2="210.3" y2="344.4" stroke="#000" stroke-width="0.6"/>
<line x1="208.2" y1="350.2" x2="210.3" y2="350.2" stroke="#000" stroke-width="0.6"/>
<line x1="208.2" y1="356" x2="210.3" y2="356" stroke="#000" stroke-width="0.6"/>
<line x1="209.8" y1="363.8" x2="209.8" y2="365.3" stroke="#000" stroke-width="0.6"/>
<text class="r" x="210.6" y="371.5" font-size="5.2" text-anchor="middle" fill="#333">10<tspan dy="-2" font-size="3.4">0</tspan></text>
<line x1="228.9" y1="363.8" x2="228.9" y2="365.3" stroke="#000" stroke-width="0.6"/>
<text class="r" x="229.8" y="371.5" font-size="5.2" text-anchor="middle" fill="#333">10<tspan dy="-2" font-size="3.4">1</tspan></text>
<line x1="248.1" y1="363.8" x2="248.1" y2="365.3" stroke="#000" stroke-width="0.6"/>
<text class="r" x="248.9" y="371.5" font-size="5.2" text-anchor="middle" fill="#333">10<tspan dy="-2" font-size="3.4">2</tspan></text>
<line x1="267.2" y1="363.8" x2="267.2" y2="365.3" stroke="#000" stroke-width="0.6"/>
<text class="r" x="268.1" y="371.5" font-size="5.2" text-anchor="middle" fill="#333">10<tspan dy="-2" font-size="3.4">3</tspan></text>
<line x1="286.4" y1="363.8" x2="286.4" y2="365.3" stroke="#000" stroke-width="0.6"/>
<text class="r" x="287.2" y="371.5" font-size="5.2" text-anchor="middle" fill="#333">10<tspan dy="-2" font-size="3.4">4</tspan></text>
<path d="M34.8 438V432.6H36.1V430H37.4V429H38.7V429H40V427.9H41.3V422.5H42.6V421H43.9V421.6H45.2V423H46.5V423.4H47.8V421.4H49.1V416.1H50.4V419.5H51.7V421.7H53V424.3H54.3V420.9H55.6V424.8H56.9V425.2H58.2V426.7H59.5V427.8H60.9V429.2H62.2V429.9H63.5V429.3H64.8V427.5H66.1V429.5H67.4V431.8H68.7V428.4H70V430.1H71.3V426.6H72.6V431.2H73.9V430.9H75.2V431.7H76.5V432.1H77.8V433.8H79.1V435.2H80.4V436.1H81.7V436.4H83V438Z" fill="#d2d2d2" stroke="#3a3a3a" stroke-width="0.8"/>
<path d="M20.5 438V409.1H21.8V407.1H23.1V393H24.4V396.1H25.7V392.2H27V398.1H28.3V391.7H29.6V393.4H30.9V394.6H32.2V390.9H33.5V393.1H34.8V396.5H36.1V399.2H37.4V409.7H38.7V413.9H40V418.6H41.3V417.9H42.6V415.6H43.9V409.2H45.2V411.7H46.5V409H47.8V401.9H49.1V406.9H50.4V399.8H51.7V403.4H53V403.4H54.3V406.4H55.6V420.3H56.9V417.8H58.2V424H59.5V425.4H60.9V427.8H62.2V429.5H63.5V432H64.8V430.4H66.1V431.8H67.4V431.1H68.7V430.7H70V429.4H71.3V429.8H72.6V429.9H73.9V430.4H75.2V432.6H76.5V432.1H77.8V434H79.1V435.2H80.4V435.9H81.7V436.6H83V438" fill="none" stroke="#151515" stroke-width="1.05"/>
<path d="M20.5 438V435.1H21.8V434.2H23.1V434.6H24.4V434.3H25.7V432.6H27V432.2H28.3V432.7H29.6V432.2H30.9V432.1H32.2V430.6H33.5V431.8H34.8V430.8H36.1V430H37.4V428.4H38.7V429.8H40V428.8H41.3V429.3H42.6V429.1H43.9V428.5H45.2V426.5H46.5V424.3H47.8V426.2H49.1V425.3H50.4V424.1H51.7V421.6H53V419.9H54.3V423.7H55.6V418.9H56.9V421.6H58.2V416.1H59.5V420.1H60.9V419.8H62.2V418.3H63.5V415.7H64.8V418.3H66.1V413.9H67.4V413.6H68.7V413.4H70V412.4H71.3V409.9H72.6V415.2H73.9V412.1H75.2V412.2H76.5V419.8H77.8V411.4H79.1V415.8H80.4V419H81.7V422.2H83V424.9H84.3V428.3H85.6V431.8H86.9V433.6H88.2V433.8H89.5V435H90.8V438" fill="none" stroke="#dc1c22" stroke-width="1.9"/>
<rect x="20.5" y="378.8" width="78.1" height="59.2" fill="none" stroke="#222" stroke-width="0.9"/>
<line x1="20.5" y1="378.8" x2="20.5" y2="438.8" stroke="#000" stroke-width="1.7"/>
<line x1="20" y1="438" x2="98.6" y2="438" stroke="#000" stroke-width="1.3"/>
<line x1="18.9" y1="388.7" x2="21" y2="388.7" stroke="#000" stroke-width="0.6"/>
<line x1="18.9" y1="394.6" x2="21" y2="394.6" stroke="#000" stroke-width="0.6"/>
<line x1="18.9" y1="400.5" x2="21" y2="400.5" stroke="#000" stroke-width="0.6"/>
<line x1="18.9" y1="406.4" x2="21" y2="406.4" stroke="#000" stroke-width="0.6"/>
<line x1="18.9" y1="412.4" x2="21" y2="412.4" stroke="#000" stroke-width="0.6"/>
<line x1="18.9" y1="418.3" x2="21" y2="418.3" stroke="#000" stroke-width="0.6"/>
<line x1="18.9" y1="424.2" x2="21" y2="424.2" stroke="#000" stroke-width="0.6"/>
<line x1="18.9" y1="430.1" x2="21" y2="430.1" stroke="#000" stroke-width="0.6"/>
<line x1="20.5" y1="438" x2="20.5" y2="439.5" stroke="#000" stroke-width="0.6"/>
<text class="r" x="21.3" y="445.7" font-size="5.2" text-anchor="middle" fill="#333">10<tspan dy="-2" font-size="3.4">0</tspan></text>
<line x1="40" y1="438" x2="40" y2="439.5" stroke="#000" stroke-width="0.6"/>
<text class="r" x="40.8" y="445.7" font-size="5.2" text-anchor="middle" fill="#333">10<tspan dy="-2" font-size="3.4">1</tspan></text>
<line x1="59.5" y1="438" x2="59.5" y2="439.5" stroke="#000" stroke-width="0.6"/>
<text class="r" x="60.3" y="445.7" font-size="5.2" text-anchor="middle" fill="#333">10<tspan dy="-2" font-size="3.4">2</tspan></text>
<line x1="79.1" y1="438" x2="79.1" y2="439.5" stroke="#000" stroke-width="0.6"/>
<text class="r" x="79.9" y="445.7" font-size="5.2" text-anchor="middle" fill="#333">10<tspan dy="-2" font-size="3.4">3</tspan></text>
<line x1="98.6" y1="438" x2="98.6" y2="439.5" stroke="#000" stroke-width="0.6"/>
<text class="r" x="99.4" y="445.7" font-size="5.2" text-anchor="middle" fill="#333">10<tspan dy="-2" font-size="3.4">4</tspan></text>
<text class="r" x="24.1" y="387.2" font-size="10">Cultured</text>
<path d="M162.3 438V435.5H163.6V434H164.9V432.3H166.2V430.9H167.5V427.9H168.8V425.2H170.1V421.4H171.4V416.6H172.7V413.3H174V407.8H175.3V389H176.6V384.6H177.9V398.3H179.2V407.3H180.5V409.4H181.8V415.5H183.1V421.6H184.4V428.2H185.7V432.1H187V435.8H188.3V438Z" fill="#d2d2d2" stroke="#3a3a3a" stroke-width="0.8"/>
<path d="M115.5 438V420.6H116.8V418H118.1V416.3H119.4V415.2H120.7V413.1H122V418.5H123.3V408H124.6V412.6H125.9V408.5H127.2V413.2H128.5V411.5H129.8V413.2H131.1V417.6H132.4V414.3H133.7V415.2H135V420.7H136.3V424.5H137.6V424.4H138.9V426.9H140.2V427.5H141.5V429.3H142.8V429.8H144.1V432H145.4V433.5H146.7V434.3H148V436.1H149.3V436.5H150.6V438" fill="none" stroke="#151515" stroke-width="1.05"/>
<path d="M115.5 438V436.4H116.8V436.2H118.1V436.2H119.4V436.2H120.7V436.1H122V436.3H123.3V436.2H124.6V436.2H125.9V436.2H127.2V436.2H128.5V436.3H129.8V436.2H131.1V436.2H132.4V436.1H133.7V436.2H135V436.2H136.3V435.9H137.6V436.1H138.9V436.2H140.2V436.1H141.5V436.4H142.8V436.1H144.1V436.1H145.4V436.2H146.7V436.1H148V436.1H149.3V436.1H150.6V436.3H151.9V436.2H153.2V436.3H154.5V435.8H155.8V435.6H157.1V435.6H158.4V434.9H159.7V434.8H161V433.3H162.3V432.7H163.6V432.6H164.9V430.6H166.2V428.5H167.5V426.9H168.8V425.7H170.1V422.1H171.4V419.9H172.7V416H174V414.4H175.3V413H176.6V413.4H177.9V409.1H179.2V410.7H180.5V413.3H181.8V416.1H183.1V423.3H184.4V426H185.7V430.2H187V433.8H188.3V435.3H189.6V435.7H190.9V435H192.2V438" fill="none" stroke="#dc1c22" stroke-width="1.9"/>
<rect x="115.5" y="378.8" width="78" height="59.2" fill="none" stroke="#222" stroke-width="0.9"/>
<line x1="115.5" y1="378.8" x2="115.5" y2="438.8" stroke="#000" stroke-width="1.7"/>
<line x1="115" y1="438" x2="193.5" y2="438" stroke="#000" stroke-width="1.3"/>
<line x1="113.9" y1="388.7" x2="116" y2="388.7" stroke="#000" stroke-width="0.6"/>
<line x1="113.9" y1="394.6" x2="116" y2="394.6" stroke="#000" stroke-width="0.6"/>
<line x1="113.9" y1="400.5" x2="116" y2="400.5" stroke="#000" stroke-width="0.6"/>
<line x1="113.9" y1="406.4" x2="116" y2="406.4" stroke="#000" stroke-width="0.6"/>
<line x1="113.9" y1="412.4" x2="116" y2="412.4" stroke="#000" stroke-width="0.6"/>
<line x1="113.9" y1="418.3" x2="116" y2="418.3" stroke="#000" stroke-width="0.6"/>
<line x1="113.9" y1="424.2" x2="116" y2="424.2" stroke="#000" stroke-width="0.6"/>
<line x1="113.9" y1="430.1" x2="116" y2="430.1" stroke="#000" stroke-width="0.6"/>
<line x1="115.5" y1="438" x2="115.5" y2="439.5" stroke="#000" stroke-width="0.6"/>
<text class="r" x="116.3" y="445.7" font-size="5.2" text-anchor="middle" fill="#333">10<tspan dy="-2" font-size="3.4">0</tspan></text>
<line x1="135" y1="438" x2="135" y2="439.5" stroke="#000" stroke-width="0.6"/>
<text class="r" x="135.8" y="445.7" font-size="5.2" text-anchor="middle" fill="#333">10<tspan dy="-2" font-size="3.4">1</tspan></text>
<line x1="154.5" y1="438" x2="154.5" y2="439.5" stroke="#000" stroke-width="0.6"/>
<text class="r" x="155.3" y="445.7" font-size="5.2" text-anchor="middle" fill="#333">10<tspan dy="-2" font-size="3.4">2</tspan></text>
<line x1="174" y1="438" x2="174" y2="439.5" stroke="#000" stroke-width="0.6"/>
<text class="r" x="174.8" y="445.7" font-size="5.2" text-anchor="middle" fill="#333">10<tspan dy="-2" font-size="3.4">3</tspan></text>
<line x1="193.5" y1="438" x2="193.5" y2="439.5" stroke="#000" stroke-width="0.6"/>
<text class="r" x="194.3" y="445.7" font-size="5.2" text-anchor="middle" fill="#333">10<tspan dy="-2" font-size="3.4">4</tspan></text>
<path d="M244.1 438V436H245.5V435.7H246.8V435.2H248.1V435H249.4V434.3H250.7V434H252.1V433.2H253.4V430.4H254.7V429.6H256V427.2H257.3V426.4H258.7V425.1H260V420.8H261.3V420.8H262.6V419.7H263.9V415.2H265.3V413.1H266.6V405.8H267.9V396.2H269.2V396.2H270.6V389.9H271.9V392.1H273.2V394H274.5V392.9H275.8V386.8H277.2V399.7H278.5V407.4H279.8V416.4H281.1V423.1H282.4V424.5H283.8V427.7H285.1V430.3H286.4V438Z" fill="#d2d2d2" stroke="#3a3a3a" stroke-width="0.8"/>
<path d="M209.8 438V427.1H211.1V423.3H212.4V425.6H213.8V421.2H215.1V418.9H216.4V417.7H217.7V412.6H219V411.7H220.4V412.7H221.7V418.6H223V415.6H224.3V410H225.6V407.7H227V409.5H228.3V411.1H229.6V414.5H230.9V418.7H232.3V415.9H233.6V422.7H234.9V423H236.2V425.3H237.5V427.1H238.9V430.4H240.2V432.5H241.5V433.6H242.8V435.6H244.1V438" fill="none" stroke="#151515" stroke-width="1.05"/>
<path d="M209.8 438V437.2H211.1V437.3H212.4V436.9H213.8V436.8H215.1V436.8H216.4V436.6H217.7V436.9H219V436.1H220.4V436.5H221.7V436.4H223V436.5H224.3V437H225.6V436.5H227V436.7H228.3V436.4H229.6V436.5H230.9V436.3H232.3V436.7H233.6V436.5H234.9V436.4H236.2V436.6H237.5V436.5H238.9V436.2H240.2V435.9H241.5V436.4H242.8V436.1H244.1V436.6H245.5V436.4H246.8V436.1H248.1V435.8H249.4V435.8H250.7V434.7H252.1V434.4H253.4V433.1H254.7V432.8H256V432.3H257.3V432.4H258.7V431H260V431.5H261.3V430.4H262.6V430.6H263.9V428.5H265.3V427.2H266.6V422.8H267.9V420.3H269.2V423.4H270.6V419.6H271.9V417.7H273.2V416H274.5V419.3H275.8V418.9H277.2V420.9H278.5V418.5H279.8V426.4H281.1V424.5H282.4V430.5H283.8V425H285.1V427.3H286.4V438" fill="none" stroke="#dc1c22" stroke-width="1.9"/>
<rect x="209.8" y="378.8" width="76.6" height="59.2" fill="none" stroke="#222" stroke-width="0.9"/>
<line x1="209.8" y1="378.8" x2="209.8" y2="438.8" stroke="#000" stroke-width="1.7"/>
<line x1="209.3" y1="438" x2="286.4" y2="438" stroke="#000" stroke-width="1.3"/>
<line x1="208.2" y1="388.7" x2="210.3" y2="388.7" stroke="#000" stroke-width="0.6"/>
<line x1="208.2" y1="394.6" x2="210.3" y2="394.6" stroke="#000" stroke-width="0.6"/>
<line x1="208.2" y1="400.5" x2="210.3" y2="400.5" stroke="#000" stroke-width="0.6"/>
<line x1="208.2" y1="406.4" x2="210.3" y2="406.4" stroke="#000" stroke-width="0.6"/>
<line x1="208.2" y1="412.4" x2="210.3" y2="412.4" stroke="#000" stroke-width="0.6"/>
<line x1="208.2" y1="418.3" x2="210.3" y2="418.3" stroke="#000" stroke-width="0.6"/>
<line x1="208.2" y1="424.2" x2="210.3" y2="424.2" stroke="#000" stroke-width="0.6"/>
<line x1="208.2" y1="430.1" x2="210.3" y2="430.1" stroke="#000" stroke-width="0.6"/>
<line x1="209.8" y1="438" x2="209.8" y2="439.5" stroke="#000" stroke-width="0.6"/>
<text class="r" x="210.6" y="445.7" font-size="5.2" text-anchor="middle" fill="#333">10<tspan dy="-2" font-size="3.4">0</tspan></text>
<line x1="228.9" y1="438" x2="228.9" y2="439.5" stroke="#000" stroke-width="0.6"/>
<text class="r" x="229.8" y="445.7" font-size="5.2" text-anchor="middle" fill="#333">10<tspan dy="-2" font-size="3.4">1</tspan></text>
<line x1="248.1" y1="438" x2="248.1" y2="439.5" stroke="#000" stroke-width="0.6"/>
<text class="r" x="248.9" y="445.7" font-size="5.2" text-anchor="middle" fill="#333">10<tspan dy="-2" font-size="3.4">2</tspan></text>
<line x1="267.2" y1="438" x2="267.2" y2="439.5" stroke="#000" stroke-width="0.6"/>
<text class="r" x="268.1" y="445.7" font-size="5.2" text-anchor="middle" fill="#333">10<tspan dy="-2" font-size="3.4">3</tspan></text>
<line x1="286.4" y1="438" x2="286.4" y2="439.5" stroke="#000" stroke-width="0.6"/>
<text class="r" x="287.2" y="445.7" font-size="5.2" text-anchor="middle" fill="#333">10<tspan dy="-2" font-size="3.4">4</tspan></text>
<path d="M36.5 512.7V506.7H38.5V506.9H40.5V505.3H42.5V510.9H44.5V504.6H46.5V507.5H48.5V499.5H50.5V500.9H52.5V504H54.5V503.1H56.5V510.6H58.5V504.5H60.6V504.3H62.6V506.4H64.6V509.4H66.6V508.3H68.6V508.6H70.6V511.6H72.6V512H74.6V512.7Z" fill="#d2d2d2" stroke="#3a3a3a" stroke-width="0.8"/>
<path d="M20.5 512.7V507.9H22.5V492.3H24.5V498.1H26.5V488.3H28.5V483.5H30.5V471.5H32.5V467.1H34.5V468H36.5V473.3H38.5V484.4H40.5V505.4H42.5V496.8H44.5V484.6H46.5V494.8H48.5V504.2H50.5V505.8H52.5V472.7H54.5V504.5H56.5V485.3H58.5V500.8H60.6V502H62.6V499.1H64.6V499.8H66.6V501.7H68.6V504H70.6V506.4H72.6V507.7H74.6V509H76.6V511.5H78.6V512.7" fill="none" stroke="#151515" stroke-width="1.05"/>
<path d="M20.5 512.7V506.7H22.5V505H24.5V504.9H26.5V506.4H28.5V505.3H30.5V509.1H32.5V506.1H34.5V505H36.5V502.4H38.5V504.7H40.5V501.8H42.5V510.1H44.5V501.3H46.5V504.7H48.5V495.5H50.5V495.2H52.5V488.9H54.5V491H56.5V503.3H58.5V497.3H60.6V504.4H62.6V499.1H64.6V508.4H66.6V495.2H68.6V500.3H70.6V502.4H72.6V510H74.6V507.9H76.6V507.6H78.6V504.1H80.6V507H82.6V512.7" fill="none" stroke="#dc1c22" stroke-width="1.9"/>
<rect x="20.5" y="453" width="78.1" height="59.7" fill="none" stroke="#222" stroke-width="0.9"/>
<line x1="20.5" y1="453" x2="20.5" y2="513.5" stroke="#000" stroke-width="1.7"/>
<line x1="20" y1="512.7" x2="98.6" y2="512.7" stroke="#000" stroke-width="1.3"/>
<line x1="18.9" y1="463" x2="21" y2="463" stroke="#000" stroke-width="0.6"/>
<line x1="18.9" y1="468.9" x2="21" y2="468.9" stroke="#000" stroke-width="0.6"/>
<line x1="18.9" y1="474.9" x2="21" y2="474.9" stroke="#000" stroke-width="0.6"/>
<line x1="18.9" y1="480.9" x2="21" y2="480.9" stroke="#000" stroke-width="0.6"/>
<line x1="18.9" y1="486.8" x2="21" y2="486.8" stroke="#000" stroke-width="0.6"/>
<line x1="18.9" y1="492.8" x2="21" y2="492.8" stroke="#000" stroke-width="0.6"/>
<line x1="18.9" y1="498.8" x2="21" y2="498.8" stroke="#000" stroke-width="0.6"/>
<line x1="18.9" y1="504.7" x2="21" y2="504.7" stroke="#000" stroke-width="0.6"/>
<line x1="20.5" y1="512.7" x2="20.5" y2="514.2" stroke="#000" stroke-width="0.6"/>
<text class="r" x="21.3" y="520.4" font-size="5.2" text-anchor="middle" fill="#333">10<tspan dy="-2" font-size="3.4">0</tspan></text>
<line x1="40" y1="512.7" x2="40" y2="514.2" stroke="#000" stroke-width="0.6"/>
<text class="r" x="40.8" y="520.4" font-size="5.2" text-anchor="middle" fill="#333">10<tspan dy="-2" font-size="3.4">1</tspan></text>
<line x1="59.5" y1="512.7" x2="59.5" y2="514.2" stroke="#000" stroke-width="0.6"/>
<text class="r" x="60.3" y="520.4" font-size="5.2" text-anchor="middle" fill="#333">10<tspan dy="-2" font-size="3.4">2</tspan></text>
<line x1="79.1" y1="512.7" x2="79.1" y2="514.2" stroke="#000" stroke-width="0.6"/>
<text class="r" x="79.9" y="520.4" font-size="5.2" text-anchor="middle" fill="#333">10<tspan dy="-2" font-size="3.4">3</tspan></text>
<line x1="98.6" y1="512.7" x2="98.6" y2="514.2" stroke="#000" stroke-width="0.6"/>
<text class="r" x="99.4" y="520.4" font-size="5.2" text-anchor="middle" fill="#333">10<tspan dy="-2" font-size="3.4">4</tspan></text>
<text class="r" x="24.1" y="461.4" font-size="10">Irradiated</text>
<path d="M123.5 512.7V511H125.5V509H127.5V509.3H129.5V508.3H131.5V508.1H133.5V508.9H135.5V507.7H137.5V511.7H139.5V511.6H141.5V510.3H143.5V507.4H145.5V510.1H147.5V510.8H149.5V510.1H151.5V501.1H153.5V502.2H155.5V495H157.5V493H159.5V491.9H161.5V509.7H163.5V504.4H165.5V504.7H167.5V508.2H169.5V512.7Z" fill="#d2d2d2" stroke="#3a3a3a" stroke-width="0.8"/>
<path d="M115.5 512.7V492.1H117.5V495.2H119.5V493H121.5V490.5H123.5V508.2H125.5V500.1H127.5V486.6H129.5V480.1H131.5V485.6H133.5V483.4H135.5V505.3H137.5V487.7H139.5V489.9H141.5V506.9H143.5V492.5H145.5V509.7H147.5V505.8H149.5V506.2H151.5V510H153.5V512.7" fill="none" stroke="#151515" stroke-width="1.05"/>
<path d="M115.5 512.7V507.9H117.5V505.7H119.5V503.5H121.5V503.6H123.5V505.1H125.5V505.2H127.5V508.4H129.5V511H131.5V505.9H133.5V505.8H135.5V503.9H137.5V510.9H139.5V507.2H141.5V509.4H143.5V503.5H145.5V503H147.5V476.5H149.5V503.8H151.5V489H153.5V460.2H155.5V456.6H157.5V468.5H159.5V500.6H161.5V489.6H163.5V496.4H165.5V501.5H167.5V505.7H169.5V509.3H171.5V512.7" fill="none" stroke="#dc1c22" stroke-width="1.9"/>
<rect x="115.5" y="453" width="78" height="59.7" fill="none" stroke="#222" stroke-width="0.9"/>
<line x1="115.5" y1="453" x2="115.5" y2="513.5" stroke="#000" stroke-width="1.7"/>
<line x1="115" y1="512.7" x2="193.5" y2="512.7" stroke="#000" stroke-width="1.3"/>
<line x1="113.9" y1="463" x2="116" y2="463" stroke="#000" stroke-width="0.6"/>
<line x1="113.9" y1="468.9" x2="116" y2="468.9" stroke="#000" stroke-width="0.6"/>
<line x1="113.9" y1="474.9" x2="116" y2="474.9" stroke="#000" stroke-width="0.6"/>
<line x1="113.9" y1="480.9" x2="116" y2="480.9" stroke="#000" stroke-width="0.6"/>
<line x1="113.9" y1="486.8" x2="116" y2="486.8" stroke="#000" stroke-width="0.6"/>
<line x1="113.9" y1="492.8" x2="116" y2="492.8" stroke="#000" stroke-width="0.6"/>
<line x1="113.9" y1="498.8" x2="116" y2="498.8" stroke="#000" stroke-width="0.6"/>
<line x1="113.9" y1="504.7" x2="116" y2="504.7" stroke="#000" stroke-width="0.6"/>
<line x1="115.5" y1="512.7" x2="115.5" y2="514.2" stroke="#000" stroke-width="0.6"/>
<text class="r" x="116.3" y="520.4" font-size="5.2" text-anchor="middle" fill="#333">10<tspan dy="-2" font-size="3.4">0</tspan></text>
<line x1="135" y1="512.7" x2="135" y2="514.2" stroke="#000" stroke-width="0.6"/>
<text class="r" x="135.8" y="520.4" font-size="5.2" text-anchor="middle" fill="#333">10<tspan dy="-2" font-size="3.4">1</tspan></text>
<line x1="154.5" y1="512.7" x2="154.5" y2="514.2" stroke="#000" stroke-width="0.6"/>
<text class="r" x="155.3" y="520.4" font-size="5.2" text-anchor="middle" fill="#333">10<tspan dy="-2" font-size="3.4">2</tspan></text>
<line x1="174" y1="512.7" x2="174" y2="514.2" stroke="#000" stroke-width="0.6"/>
<text class="r" x="174.8" y="520.4" font-size="5.2" text-anchor="middle" fill="#333">10<tspan dy="-2" font-size="3.4">3</tspan></text>
<line x1="193.5" y1="512.7" x2="193.5" y2="514.2" stroke="#000" stroke-width="0.6"/>
<text class="r" x="194.3" y="520.4" font-size="5.2" text-anchor="middle" fill="#333">10<tspan dy="-2" font-size="3.4">4</tspan></text>
<path d="M227.9 512.7V510.1H230V511.4H232V507.1H234V505.2H236V505.3H238V505.8H240V502.8H242.1V499.7H244.1V496.5H246.1V493.4H248.1V495.8H250.1V495.4H252.1V508.3H254.1V494.4H256.2V503.2H258.2V510.8H260.2V512.7Z" fill="#d2d2d2" stroke="#3a3a3a" stroke-width="0.8"/>
<path d="M209.8 512.7V506.3H211.8V510H213.8V505.1H215.8V501.5H217.9V492.4H219.9V506.8H221.9V506H223.9V474.7H225.9V504.3H227.9V504.3H230V494.1H232V496.6H234V506H236V510H238V502.6H240V507.6H242.1V510.2H244.1V497.5H246.1V503.5H248.1V499.7H250.1V503.6H252.1V505.7H254.1V505.2H256.2V505.1H258.2V510.6H260.2V512.7" fill="none" stroke="#151515" stroke-width="1.05"/>
<path d="M215.8 512.7V507.8H217.9V507.5H219.9V511.1H221.9V507H223.9V509.4H225.9V510.5H227.9V504.3H230V497.6H232V488.9H234V482.3H236V487.6H238V481.3H240V465.6H242.1V470.1H244.1V503.4H246.1V503.9H248.1V480.8H250.1V505.4H252.1V490.5H254.1V492.9H256.2V501.7H258.2V509.1H260.2V504.6H262.2V507.9H264.2V512H266.2V512.7" fill="none" stroke="#dc1c22" stroke-width="1.9"/>
<rect x="209.8" y="453" width="76.6" height="59.7" fill="none" stroke="#222" stroke-width="0.9"/>
<line x1="209.8" y1="453" x2="209.8" y2="513.5" stroke="#000" stroke-width="1.7"/>
<line x1="209.3" y1="512.7" x2="286.4" y2="512.7" stroke="#000" stroke-width="1.3"/>
<line x1="208.2" y1="463" x2="210.3" y2="463" stroke="#000" stroke-width="0.6"/>
<line x1="208.2" y1="468.9" x2="210.3" y2="468.9" stroke="#000" stroke-width="0.6"/>
<line x1="208.2" y1="474.9" x2="210.3" y2="474.9" stroke="#000" stroke-width="0.6"/>
<line x1="208.2" y1="480.9" x2="210.3" y2="480.9" stroke="#000" stroke-width="0.6"/>
<line x1="208.2" y1="486.8" x2="210.3" y2="486.8" stroke="#000" stroke-width="0.6"/>
<line x1="208.2" y1="492.8" x2="210.3" y2="492.8" stroke="#000" stroke-width="0.6"/>
<line x1="208.2" y1="498.8" x2="210.3" y2="498.8" stroke="#000" stroke-width="0.6"/>
<line x1="208.2" y1="504.7" x2="210.3" y2="504.7" stroke="#000" stroke-width="0.6"/>
<line x1="209.8" y1="512.7" x2="209.8" y2="514.2" stroke="#000" stroke-width="0.6"/>
<text class="r" x="210.6" y="520.4" font-size="5.2" text-anchor="middle" fill="#333">10<tspan dy="-2" font-size="3.4">0</tspan></text>
<line x1="228.9" y1="512.7" x2="228.9" y2="514.2" stroke="#000" stroke-width="0.6"/>
<text class="r" x="229.8" y="520.4" font-size="5.2" text-anchor="middle" fill="#333">10<tspan dy="-2" font-size="3.4">1</tspan></text>
<line x1="248.1" y1="512.7" x2="248.1" y2="514.2" stroke="#000" stroke-width="0.6"/>
<text class="r" x="248.9" y="520.4" font-size="5.2" text-anchor="middle" fill="#333">10<tspan dy="-2" font-size="3.4">2</tspan></text>
<line x1="267.2" y1="512.7" x2="267.2" y2="514.2" stroke="#000" stroke-width="0.6"/>
<text class="r" x="268.1" y="520.4" font-size="5.2" text-anchor="middle" fill="#333">10<tspan dy="-2" font-size="3.4">3</tspan></text>
<line x1="286.4" y1="512.7" x2="286.4" y2="514.2" stroke="#000" stroke-width="0.6"/>
<text class="r" x="287.2" y="520.4" font-size="5.2" text-anchor="middle" fill="#333">10<tspan dy="-2" font-size="3.4">4</tspan></text>
<text class="rb" x="63" y="533.8" font-size="10" text-anchor="middle">CD40</text>
<text class="rb" x="155.3" y="533.8" font-size="10" text-anchor="middle">CD80</text>
<text class="rb" x="247" y="533.8" font-size="10" text-anchor="middle">CD86</text>
<text class="sb" x="310" y="294.8" font-size="18">E</text>
<line x1="340.8" y1="297.8" x2="340.8" y2="394.9" stroke="#000" stroke-width="1.4"/>
<line x1="337.2" y1="394.2" x2="340.8" y2="394.2" stroke="#000" stroke-width="1.1"/>
<text class="s" x="336.7" y="396.6" font-size="6.5" text-anchor="end" stroke="#000" stroke-width="0.3">0</text>
<line x1="337.2" y1="370.2" x2="340.8" y2="370.2" stroke="#000" stroke-width="1.1"/>
<text class="s" x="336.7" y="372.6" font-size="6.5" text-anchor="end" stroke="#000" stroke-width="0.3">5</text>
<line x1="337.2" y1="346.3" x2="340.8" y2="346.3" stroke="#000" stroke-width="1.1"/>
<text class="s" x="336.7" y="348.7" font-size="6.5" text-anchor="end" stroke="#000" stroke-width="0.3">10</text>
<line x1="337.2" y1="322.3" x2="340.8" y2="322.3" stroke="#000" stroke-width="1.1"/>
<text class="s" x="336.7" y="324.7" font-size="6.5" text-anchor="end" stroke="#000" stroke-width="0.3">15</text>
<line x1="337.2" y1="298.4" x2="340.8" y2="298.4" stroke="#000" stroke-width="1.1"/>
<text class="s" x="336.7" y="300.8" font-size="6.5" text-anchor="end" stroke="#000" stroke-width="0.3">20</text>
<line x1="340.1" y1="394.2" x2="405" y2="394.2" stroke="#000" stroke-width="1.5"/>
<line x1="356.9" y1="300.8" x2="356.9" y2="316.1" stroke="#000" stroke-width="1.5"/>
<line x1="351.9" y1="300.8" x2="361.9" y2="300.8" stroke="#000" stroke-width="1.5"/>
<rect x="345.7" y="316.1" width="22.4" height="78.1" fill="#000"/>
<line x1="388.4" y1="360.2" x2="388.4" y2="361.9" stroke="#000" stroke-width="1.5"/>
<line x1="383.4" y1="360.2" x2="393.4" y2="360.2" stroke="#000" stroke-width="1.5"/>
<rect x="378.1" y="362.6" width="20.6" height="31.6" fill="#fff" stroke="#000" stroke-width="1.5"/>
<line x1="368" y1="365.5" x2="404" y2="365.5" stroke="#000" stroke-width="1" stroke-dasharray="1 1.5"/>
<text class="s" x="356.7" y="297.5" font-size="9" text-anchor="middle">&#9733;</text>
<text class="sb" x="372.5" y="285.9" font-size="8.8" text-anchor="middle">IL-12 p70</text>
<line x1="356.9" y1="394.2" x2="356.9" y2="396.5" stroke="#000" stroke-width="1.1"/>
<line x1="388.4" y1="394.2" x2="388.4" y2="396.5" stroke="#000" stroke-width="1.1"/>
<text class="s" x="356.9" y="403.4" font-size="6.9" text-anchor="middle">WT</text>
<text class="s" x="386.6" y="403.4" font-size="6.9" text-anchor="middle">RelB<tspan dy="-2.6" font-size="4.2">-/-</tspan></text>
<text class="sb" x="325.1" y="346.2" font-size="8.0" text-anchor="middle" transform="rotate(-90 325.1 346.2)">pg/mL</text>
<line x1="436.9" y1="298.3" x2="436.9" y2="394.4" stroke="#000" stroke-width="1.4"/>
<line x1="433.3" y1="393.7" x2="436.9" y2="393.7" stroke="#000" stroke-width="1.1"/>
<text class="s" x="432.8" y="396.1" font-size="6.5" text-anchor="end" stroke="#000" stroke-width="0.3">0</text>
<line x1="433.3" y1="380.2" x2="436.9" y2="380.2" stroke="#000" stroke-width="1.1"/>
<text class="s" x="432.8" y="382.6" font-size="6.5" text-anchor="end" stroke="#000" stroke-width="0.3">10</text>
<line x1="433.3" y1="366.6" x2="436.9" y2="366.6" stroke="#000" stroke-width="1.1"/>
<text class="s" x="432.8" y="369" font-size="6.5" text-anchor="end" stroke="#000" stroke-width="0.3">20</text>
<line x1="433.3" y1="353.1" x2="436.9" y2="353.1" stroke="#000" stroke-width="1.1"/>
<text class="s" x="432.8" y="355.5" font-size="6.5" text-anchor="end" stroke="#000" stroke-width="0.3">30</text>
<line x1="433.3" y1="339.5" x2="436.9" y2="339.5" stroke="#000" stroke-width="1.1"/>
<text class="s" x="432.8" y="341.9" font-size="6.5" text-anchor="end" stroke="#000" stroke-width="0.3">40</text>
<line x1="433.3" y1="326" x2="436.9" y2="326" stroke="#000" stroke-width="1.1"/>
<text class="s" x="432.8" y="328.4" font-size="6.5" text-anchor="end" stroke="#000" stroke-width="0.3">50</text>
<line x1="433.3" y1="312.4" x2="436.9" y2="312.4" stroke="#000" stroke-width="1.1"/>
<text class="s" x="432.8" y="314.8" font-size="6.5" text-anchor="end" stroke="#000" stroke-width="0.3">60</text>
<line x1="433.3" y1="298.9" x2="436.9" y2="298.9" stroke="#000" stroke-width="1.1"/>
<text class="s" x="432.8" y="301.3" font-size="6.5" text-anchor="end" stroke="#000" stroke-width="0.3">70</text>
<line x1="436.1" y1="393.7" x2="500.5" y2="393.7" stroke="#000" stroke-width="1.5"/>
<line x1="452.6" y1="303" x2="452.6" y2="319.2" stroke="#000" stroke-width="1.5"/>
<line x1="447.6" y1="303" x2="457.6" y2="303" stroke="#000" stroke-width="1.5"/>
<rect x="441.4" y="319.2" width="22.5" height="74.5" fill="#000"/>
<line x1="483.9" y1="364.4" x2="483.9" y2="369.3" stroke="#000" stroke-width="1.5"/>
<line x1="478.9" y1="364.4" x2="488.9" y2="364.4" stroke="#000" stroke-width="1.5"/>
<rect x="473.8" y="370.1" width="20.3" height="23.6" fill="#fff" stroke="#000" stroke-width="1.5"/>
<line x1="464" y1="359.2" x2="500.5" y2="359.2" stroke="#000" stroke-width="1" stroke-dasharray="1 1.5"/>
<text class="s" x="452.6" y="299.2" font-size="9" text-anchor="middle">&#9733;</text>
<text class="sb" x="468.2" y="287.3" font-size="8.8" text-anchor="middle">TNF&#945;</text>
<line x1="452.6" y1="393.7" x2="452.6" y2="396" stroke="#000" stroke-width="1.1"/>
<line x1="483.9" y1="393.7" x2="483.9" y2="396" stroke="#000" stroke-width="1.1"/>
<text class="s" x="452.6" y="402.9" font-size="6.9" text-anchor="middle">WT</text>
<text class="s" x="482.1" y="402.9" font-size="6.9" text-anchor="middle">RelB<tspan dy="-2.6" font-size="4.2">-/-</tspan></text>
<text class="sb" x="420.1" y="346.2" font-size="8.0" text-anchor="middle" transform="rotate(-90 420.1 346.2)">pg/mL</text>
<line x1="340.8" y1="436.3" x2="340.8" y2="533.5" stroke="#000" stroke-width="1.4"/>
<line x1="337.2" y1="532.8" x2="340.8" y2="532.8" stroke="#000" stroke-width="1.1"/>
<text class="s" x="336.7" y="535.2" font-size="6.5" text-anchor="end" stroke="#000" stroke-width="0.3">0</text>
<line x1="337.2" y1="522.1" x2="340.8" y2="522.1" stroke="#000" stroke-width="1.1"/>
<text class="s" x="336.7" y="524.5" font-size="6.5" text-anchor="end" stroke="#000" stroke-width="0.3">10</text>
<line x1="337.2" y1="511.5" x2="340.8" y2="511.5" stroke="#000" stroke-width="1.1"/>
<text class="s" x="336.7" y="513.9" font-size="6.5" text-anchor="end" stroke="#000" stroke-width="0.3">20</text>
<line x1="337.2" y1="500.8" x2="340.8" y2="500.8" stroke="#000" stroke-width="1.1"/>
<text class="s" x="336.7" y="503.2" font-size="6.5" text-anchor="end" stroke="#000" stroke-width="0.3">30</text>
<line x1="337.2" y1="490.2" x2="340.8" y2="490.2" stroke="#000" stroke-width="1.1"/>
<text class="s" x="336.7" y="492.6" font-size="6.5" text-anchor="end" stroke="#000" stroke-width="0.3">40</text>
<line x1="337.2" y1="479.5" x2="340.8" y2="479.5" stroke="#000" stroke-width="1.1"/>
<text class="s" x="336.7" y="481.9" font-size="6.5" text-anchor="end" stroke="#000" stroke-width="0.3">50</text>
<line x1="337.2" y1="468.9" x2="340.8" y2="468.9" stroke="#000" stroke-width="1.1"/>
<text class="s" x="336.7" y="471.3" font-size="6.5" text-anchor="end" stroke="#000" stroke-width="0.3">60</text>
<line x1="337.2" y1="458.2" x2="340.8" y2="458.2" stroke="#000" stroke-width="1.1"/>
<text class="s" x="336.7" y="460.6" font-size="6.5" text-anchor="end" stroke="#000" stroke-width="0.3">70</text>
<line x1="337.2" y1="447.6" x2="340.8" y2="447.6" stroke="#000" stroke-width="1.1"/>
<text class="s" x="336.7" y="450" font-size="6.5" text-anchor="end" stroke="#000" stroke-width="0.3">80</text>
<line x1="337.2" y1="436.9" x2="340.8" y2="436.9" stroke="#000" stroke-width="1.1"/>
<text class="s" x="336.7" y="439.3" font-size="6.5" text-anchor="end" stroke="#000" stroke-width="0.3">90</text>
<line x1="340.1" y1="532.8" x2="406" y2="532.8" stroke="#000" stroke-width="1.5"/>
<line x1="356.9" y1="447" x2="356.9" y2="455" stroke="#000" stroke-width="1.5"/>
<line x1="351.9" y1="447" x2="361.9" y2="447" stroke="#000" stroke-width="1.5"/>
<rect x="345.7" y="455" width="22.4" height="77.8" fill="#000"/>
<line x1="388.6" y1="491.5" x2="388.6" y2="501.4" stroke="#000" stroke-width="1.5"/>
<line x1="383.6" y1="491.5" x2="393.6" y2="491.5" stroke="#000" stroke-width="1.5"/>
<rect x="378.6" y="502.1" width="20.1" height="30.7" fill="#fff" stroke="#000" stroke-width="1.5"/>
<line x1="341" y1="501.9" x2="406" y2="501.9" stroke="#000" stroke-width="1" stroke-dasharray="1 1.5"/>
<text class="s" x="356.7" y="443.5" font-size="9" text-anchor="middle">&#9733;</text>
<text class="sb" x="372" y="425.8" font-size="8.8" text-anchor="middle">IL-6</text>
<line x1="356.9" y1="532.8" x2="356.9" y2="535.1" stroke="#000" stroke-width="1.1"/>
<line x1="388.6" y1="532.8" x2="388.6" y2="535.1" stroke="#000" stroke-width="1.1"/>
<text class="s" x="356.9" y="542" font-size="6.9" text-anchor="middle">WT</text>
<text class="s" x="386.8" y="542" font-size="6.9" text-anchor="middle">RelB<tspan dy="-2.6" font-size="4.2">-/-</tspan></text>
<text class="sb" x="325.1" y="484.7" font-size="8.0" text-anchor="middle" transform="rotate(-90 325.1 484.7)">pg/mL</text>
<line x1="436.9" y1="436.2" x2="436.9" y2="533.3" stroke="#000" stroke-width="1.4"/>
<line x1="433.3" y1="532.6" x2="436.9" y2="532.6" stroke="#000" stroke-width="1.1"/>
<text class="s" x="432.8" y="535" font-size="6.5" text-anchor="end" stroke="#000" stroke-width="0.3">0</text>
<line x1="433.3" y1="518.9" x2="436.9" y2="518.9" stroke="#000" stroke-width="1.1"/>
<text class="s" x="432.8" y="521.3" font-size="6.5" text-anchor="end" stroke="#000" stroke-width="0.3">5</text>
<line x1="433.3" y1="505.2" x2="436.9" y2="505.2" stroke="#000" stroke-width="1.1"/>
<text class="s" x="432.8" y="507.6" font-size="6.5" text-anchor="end" stroke="#000" stroke-width="0.3">10</text>
<line x1="433.3" y1="491.5" x2="436.9" y2="491.5" stroke="#000" stroke-width="1.1"/>
<text class="s" x="432.8" y="493.9" font-size="6.5" text-anchor="end" stroke="#000" stroke-width="0.3">15</text>
<line x1="433.3" y1="477.9" x2="436.9" y2="477.9" stroke="#000" stroke-width="1.1"/>
<text class="s" x="432.8" y="480.3" font-size="6.5" text-anchor="end" stroke="#000" stroke-width="0.3">20</text>
<line x1="433.3" y1="464.2" x2="436.9" y2="464.2" stroke="#000" stroke-width="1.1"/>
<text class="s" x="432.8" y="466.6" font-size="6.5" text-anchor="end" stroke="#000" stroke-width="0.3">25</text>
<line x1="433.3" y1="450.5" x2="436.9" y2="450.5" stroke="#000" stroke-width="1.1"/>
<text class="s" x="432.8" y="452.9" font-size="6.5" text-anchor="end" stroke="#000" stroke-width="0.3">30</text>
<line x1="433.3" y1="436.8" x2="436.9" y2="436.8" stroke="#000" stroke-width="1.1"/>
<text class="s" x="432.8" y="439.2" font-size="6.5" text-anchor="end" stroke="#000" stroke-width="0.3">35</text>
<line x1="436.1" y1="532.6" x2="500.5" y2="532.6" stroke="#000" stroke-width="1.5"/>
<line x1="452.8" y1="497.3" x2="452.8" y2="501.7" stroke="#000" stroke-width="1.5"/>
<line x1="447.8" y1="497.3" x2="457.8" y2="497.3" stroke="#000" stroke-width="1.5"/>
<rect x="441.6" y="501.7" width="22.3" height="30.9" fill="#000"/>
<line x1="484.4" y1="500.8" x2="484.4" y2="502.5" stroke="#000" stroke-width="1.5"/>
<line x1="479.4" y1="500.8" x2="489.4" y2="500.8" stroke="#000" stroke-width="1.5"/>
<rect x="474.8" y="503.2" width="19.3" height="29.4" fill="#fff" stroke="#000" stroke-width="1.5"/>
<line x1="437" y1="501.7" x2="500.5" y2="501.7" stroke="#000" stroke-width="1" stroke-dasharray="1 1.5"/>
<text class="sb" x="468" y="425.5" font-size="8.8" text-anchor="middle">IL10</text>
<line x1="452.8" y1="532.6" x2="452.8" y2="534.9" stroke="#000" stroke-width="1.1"/>
<line x1="484.4" y1="532.6" x2="484.4" y2="534.9" stroke="#000" stroke-width="1.1"/>
<text class="s" x="452.8" y="541.8" font-size="6.9" text-anchor="middle">WT</text>
<text class="s" x="482.6" y="541.8" font-size="6.9" text-anchor="middle">RelB<tspan dy="-2.6" font-size="4.2">-/-</tspan></text>
<text class="sb" x="420.1" y="484.6" font-size="8.0" text-anchor="middle" transform="rotate(-90 420.1 484.6)">pg/mL</text>
<text class="sb" x="2.8" y="584.8" font-size="18">F</text>
<line x1="40.2" y1="597.4" x2="40.2" y2="682.9" stroke="#000" stroke-width="1.7"/>
<line x1="36.4" y1="682" x2="40.2" y2="682" stroke="#000" stroke-width="1.2"/>
<text class="rb" x="36.1" y="684.7" font-size="7.5" text-anchor="end">0</text>
<line x1="36.4" y1="668" x2="40.2" y2="668" stroke="#000" stroke-width="1.2"/>
<text class="rb" x="36.1" y="670.7" font-size="7.5" text-anchor="end">20000</text>
<line x1="36.4" y1="654" x2="40.2" y2="654" stroke="#000" stroke-width="1.2"/>
<text class="rb" x="36.1" y="656.7" font-size="7.5" text-anchor="end">40000</text>
<line x1="36.4" y1="640" x2="40.2" y2="640" stroke="#000" stroke-width="1.2"/>
<text class="rb" x="36.1" y="642.7" font-size="7.5" text-anchor="end">60000</text>
<line x1="36.4" y1="626" x2="40.2" y2="626" stroke="#000" stroke-width="1.2"/>
<text class="rb" x="36.1" y="628.7" font-size="7.5" text-anchor="end">80000</text>
<line x1="36.4" y1="612" x2="40.2" y2="612" stroke="#000" stroke-width="1.2"/>
<text class="rb" x="36.1" y="614.7" font-size="7.5" text-anchor="end">100000</text>
<line x1="36.4" y1="598" x2="40.2" y2="598" stroke="#000" stroke-width="1.2"/>
<text class="rb" x="36.1" y="600.7" font-size="7.5" text-anchor="end">120000</text>
<line x1="39.4" y1="682" x2="166" y2="682" stroke="#000" stroke-width="1.6"/>
<line x1="39.8" y1="682" x2="39.8" y2="684" stroke="#000" stroke-width="1"/>
<text class="rb" x="39.8" y="693.3" font-size="7.5" text-anchor="middle">0.0</text>
<line x1="69.8" y1="682" x2="69.8" y2="684" stroke="#000" stroke-width="1"/>
<text class="rb" x="69.8" y="693.3" font-size="7.5" text-anchor="middle">2.5</text>
<line x1="99.8" y1="682" x2="99.8" y2="684" stroke="#000" stroke-width="1"/>
<text class="rb" x="99.8" y="693.3" font-size="7.5" text-anchor="middle">5.0</text>
<line x1="129.8" y1="682" x2="129.8" y2="684" stroke="#000" stroke-width="1"/>
<text class="rb" x="129.8" y="693.3" font-size="7.5" text-anchor="middle">7.5</text>
<line x1="159.8" y1="682" x2="159.8" y2="684" stroke="#000" stroke-width="1"/>
<text class="rb" x="159.8" y="693.3" font-size="7.5" text-anchor="middle">10.0</text>
<path d="M39.8 682 L54.8 664.1 L69.8 662.5 L99.8 656.2 L159.8 646.3" fill="none" stroke="#000" stroke-width="1.3"/>
<line x1="54.8" y1="663.1" x2="54.8" y2="665.2" stroke="#000" stroke-width="1.1"/>
<line x1="52.6" y1="663.1" x2="57" y2="663.1" stroke="#000" stroke-width="1.1"/>
<line x1="52.6" y1="665.2" x2="57" y2="665.2" stroke="#000" stroke-width="1.1"/>
<rect x="53.1" y="662.4" width="3.4" height="3.4" fill="#fff" stroke="#000" stroke-width="1.0"/>
<line x1="69.8" y1="661.4" x2="69.8" y2="663.5" stroke="#000" stroke-width="1.1"/>
<line x1="67.6" y1="661.4" x2="72" y2="661.4" stroke="#000" stroke-width="1.1"/>
<line x1="67.6" y1="663.5" x2="72" y2="663.5" stroke="#000" stroke-width="1.1"/>
<rect x="68.1" y="660.8" width="3.4" height="3.4" fill="#fff" stroke="#000" stroke-width="1.0"/>
<line x1="99.8" y1="652.4" x2="99.8" y2="660.1" stroke="#000" stroke-width="1.1"/>
<line x1="97.6" y1="652.4" x2="102" y2="652.4" stroke="#000" stroke-width="1.1"/>
<line x1="97.6" y1="660.1" x2="102" y2="660.1" stroke="#000" stroke-width="1.1"/>
<rect x="98.1" y="654.5" width="3.4" height="3.4" fill="#fff" stroke="#000" stroke-width="1.0"/>
<line x1="159.8" y1="641.5" x2="159.8" y2="651.1" stroke="#000" stroke-width="1.1"/>
<line x1="157.6" y1="641.5" x2="162" y2="641.5" stroke="#000" stroke-width="1.1"/>
<line x1="157.6" y1="651.1" x2="162" y2="651.1" stroke="#000" stroke-width="1.1"/>
<rect x="158.1" y="644.6" width="3.4" height="3.4" fill="#fff" stroke="#000" stroke-width="1.0"/>
<path d="M39.8 682 L54.8 660 L69.8 653.6 L99.8 642.6 L159.8 608.8" fill="none" stroke="#000" stroke-width="1.3"/>
<line x1="54.8" y1="658.8" x2="54.8" y2="661.3" stroke="#000" stroke-width="1.1"/>
<line x1="52.6" y1="658.8" x2="57" y2="658.8" stroke="#000" stroke-width="1.1"/>
<line x1="52.6" y1="661.3" x2="57" y2="661.3" stroke="#000" stroke-width="1.1"/>
<rect x="53.1" y="658.3" width="3.4" height="3.4" fill="#000"/>
<line x1="69.8" y1="650.9" x2="69.8" y2="656.5" stroke="#000" stroke-width="1.1"/>
<line x1="67.6" y1="650.9" x2="72" y2="650.9" stroke="#000" stroke-width="1.1"/>
<line x1="67.6" y1="656.5" x2="72" y2="656.5" stroke="#000" stroke-width="1.1"/>
<rect x="68.1" y="651.9" width="3.4" height="3.4" fill="#000"/>
<line x1="99.8" y1="637" x2="99.8" y2="648.2" stroke="#000" stroke-width="1.1"/>
<line x1="97.6" y1="637" x2="102" y2="637" stroke="#000" stroke-width="1.1"/>
<line x1="97.6" y1="648.2" x2="102" y2="648.2" stroke="#000" stroke-width="1.1"/>
<rect x="98.1" y="640.9" width="3.4" height="3.4" fill="#000"/>
<line x1="159.8" y1="603.5" x2="159.8" y2="614" stroke="#000" stroke-width="1.1"/>
<line x1="157.6" y1="603.5" x2="162" y2="603.5" stroke="#000" stroke-width="1.1"/>
<line x1="157.6" y1="614" x2="162" y2="614" stroke="#000" stroke-width="1.1"/>
<rect x="158.1" y="607.1" width="3.4" height="3.4" fill="#000"/>
<rect x="50.5" y="598" width="64" height="28.2" fill="#fff" stroke="#000" stroke-width="1.2"/>
<line x1="56" y1="607.4" x2="68.2" y2="607.4" stroke="#000" stroke-width="1.1"/>
<circle cx="62.1" cy="607.4" r="1.5" fill="#000"/>
<text class="r" x="70" y="609.8" font-size="7.3">WT BMC</text>
<line x1="56" y1="618.3" x2="68.2" y2="618.3" stroke="#000" stroke-width="1.1"/>
<circle cx="62.1" cy="618.3" r="1.5" fill="#fff" stroke="#000" stroke-width="1"/>
<text class="r" x="70" y="621" font-size="7.3">RelB<tspan dy="-2.8" font-size="4.5">-/-</tspan><tspan dy="2.8"> BMC</tspan></text>
<text class="rb" x="8.6" y="639" font-size="6.8" text-anchor="middle" transform="rotate(-90 8.6 639)">cpm from 3H-thymidine</text>
<text class="rb" x="71.5" y="702.6" font-size="7.1">no. DC/well (x10<tspan dy="-2.8" font-size="4.7">-5</tspan><tspan dy="2.8">)</tspan></text>
<line x1="202.3" y1="605.2" x2="202.3" y2="683" stroke="#000" stroke-width="1.4"/>
<line x1="199.8" y1="682.3" x2="202.3" y2="682.3" stroke="#000" stroke-width="1.1"/>
<text class="rb" x="198.5" y="684.6" font-size="6.9" text-anchor="end">0</text>
<line x1="199.8" y1="656.8" x2="202.3" y2="656.8" stroke="#000" stroke-width="1.1"/>
<text class="rb" x="198.5" y="659.1" font-size="6.9" text-anchor="end">500</text>
<line x1="199.8" y1="631.3" x2="202.3" y2="631.3" stroke="#000" stroke-width="1.1"/>
<text class="rb" x="198.5" y="633.6" font-size="6.9" text-anchor="end">1000</text>
<line x1="199.8" y1="605.8" x2="202.3" y2="605.8" stroke="#000" stroke-width="1.1"/>
<text class="rb" x="198.5" y="608.1" font-size="6.9" text-anchor="end">1500</text>
<line x1="201.5" y1="682.3" x2="251.5" y2="682.3" stroke="#000" stroke-width="1.6"/>
<line x1="214.7" y1="611.4" x2="214.7" y2="614.7" stroke="#000" stroke-width="1.5"/>
<line x1="210.2" y1="611.4" x2="219.2" y2="611.4" stroke="#000" stroke-width="1.5"/>
<rect x="205.8" y="614.7" width="17.7" height="67.6" fill="#000"/>
<line x1="240.1" y1="617.8" x2="240.1" y2="624.2" stroke="#000" stroke-width="1.5"/>
<line x1="235.6" y1="617.8" x2="244.6" y2="617.8" stroke="#000" stroke-width="1.5"/>
<rect x="231.9" y="624.9" width="16.2" height="57.4" fill="#fff" stroke="#000" stroke-width="1.5"/>
<text class="sb" x="230.9" y="590.4" font-size="9.4" text-anchor="middle">IL-2</text>
<line x1="214.7" y1="682.3" x2="214.7" y2="684.1" stroke="#000" stroke-width="1"/>
<line x1="240.1" y1="682.3" x2="240.1" y2="684.1" stroke="#000" stroke-width="1"/>
<text class="rb" x="214.7" y="691.6" font-size="7.2" text-anchor="middle">WT</text>
<text class="rb" x="240.1" y="691.6" font-size="7.2" text-anchor="middle">RelB<tspan dy="-2.8" font-size="4.5">-/-</tspan></text>
<text class="rb" x="179.6" y="640.8" font-size="8.4" text-anchor="middle" transform="rotate(-90 179.6 640.8)">pg/mL</text>
<line x1="292.3" y1="604.5" x2="292.3" y2="682.7" stroke="#000" stroke-width="1.4"/>
<line x1="289.8" y1="682" x2="292.3" y2="682" stroke="#000" stroke-width="1.1"/>
<text class="rb" x="288.5" y="684.3" font-size="6.9" text-anchor="end">0</text>
<line x1="289.8" y1="656.3" x2="292.3" y2="656.3" stroke="#000" stroke-width="1.1"/>
<text class="rb" x="288.5" y="658.6" font-size="6.9" text-anchor="end">250</text>
<line x1="289.8" y1="630.7" x2="292.3" y2="630.7" stroke="#000" stroke-width="1.1"/>
<text class="rb" x="288.5" y="633" font-size="6.9" text-anchor="end">500</text>
<line x1="289.8" y1="605" x2="292.3" y2="605" stroke="#000" stroke-width="1.1"/>
<text class="rb" x="288.5" y="607.3" font-size="6.9" text-anchor="end">750</text>
<line x1="291.5" y1="682" x2="341.5" y2="682" stroke="#000" stroke-width="1.6"/>
<line x1="304.5" y1="606.5" x2="304.5" y2="616.3" stroke="#000" stroke-width="1.5"/>
<line x1="300" y1="606.5" x2="309" y2="606.5" stroke="#000" stroke-width="1.5"/>
<rect x="295.8" y="616.3" width="17.3" height="65.7" fill="#000"/>
<line x1="330" y1="650.4" x2="330" y2="651.2" stroke="#000" stroke-width="1.5"/>
<line x1="325.5" y1="650.4" x2="334.5" y2="650.4" stroke="#000" stroke-width="1.5"/>
<rect x="321.9" y="652" width="16.2" height="30" fill="#fff" stroke="#000" stroke-width="1.5"/>
<text class="sb" x="319.2" y="590.4" font-size="9.4" text-anchor="middle">IFN-&#947;</text>
<line x1="304.5" y1="682" x2="304.5" y2="683.8" stroke="#000" stroke-width="1"/>
<line x1="330" y1="682" x2="330" y2="683.8" stroke="#000" stroke-width="1"/>
<text class="rb" x="304.5" y="691.3" font-size="7.2" text-anchor="middle">WT</text>
<text class="rb" x="330" y="691.3" font-size="7.2" text-anchor="middle">RelB<tspan dy="-2.8" font-size="4.5">-/-</tspan></text>
<text class="rb" x="271.6" y="640.3" font-size="8.4" text-anchor="middle" transform="rotate(-90 271.6 640.3)">pg/mL</text>
<line x1="378.8" y1="603.4" x2="378.8" y2="682.7" stroke="#000" stroke-width="1.4"/>
<line x1="376.3" y1="682" x2="378.8" y2="682" stroke="#000" stroke-width="1.1"/>
<text class="rb" x="375" y="684.3" font-size="6.9" text-anchor="end">0</text>
<line x1="376.3" y1="656" x2="378.8" y2="656" stroke="#000" stroke-width="1.1"/>
<text class="rb" x="375" y="658.3" font-size="6.9" text-anchor="end">25</text>
<line x1="376.3" y1="629.9" x2="378.8" y2="629.9" stroke="#000" stroke-width="1.1"/>
<text class="rb" x="375" y="632.2" font-size="6.9" text-anchor="end">50</text>
<line x1="376.3" y1="603.9" x2="378.8" y2="603.9" stroke="#000" stroke-width="1.1"/>
<text class="rb" x="375" y="606.2" font-size="6.9" text-anchor="end">75</text>
<line x1="378" y1="682" x2="431.5" y2="682" stroke="#000" stroke-width="1.6"/>
<line x1="391.6" y1="605.5" x2="391.6" y2="624.7" stroke="#000" stroke-width="1.5"/>
<line x1="387.1" y1="605.5" x2="396.1" y2="605.5" stroke="#000" stroke-width="1.5"/>
<rect x="382.3" y="624.7" width="18.5" height="57.3" fill="#000"/>
<line x1="417.7" y1="671.3" x2="417.7" y2="673.1" stroke="#000" stroke-width="1.5"/>
<line x1="413.2" y1="671.3" x2="422.2" y2="671.3" stroke="#000" stroke-width="1.5"/>
<rect x="409.1" y="673.9" width="17.1" height="8.1" fill="#fff" stroke="#000" stroke-width="1.5"/>
<text class="sb" x="404" y="590.4" font-size="9.4" text-anchor="middle">IL-5</text>
<line x1="391.6" y1="682" x2="391.6" y2="683.8" stroke="#000" stroke-width="1"/>
<line x1="417.7" y1="682" x2="417.7" y2="683.8" stroke="#000" stroke-width="1"/>
<text class="rb" x="391.6" y="691.3" font-size="7.2" text-anchor="middle">WT</text>
<text class="rb" x="417.7" y="691.3" font-size="7.2" text-anchor="middle">RelB<tspan dy="-2.8" font-size="4.5">-/-</tspan></text>
<text class="rb" x="362.6" y="639.8" font-size="8.4" text-anchor="middle" transform="rotate(-90 362.6 639.8)">pg/mL</text>
<line x1="466.9" y1="603.4" x2="466.9" y2="682.7" stroke="#000" stroke-width="1.4"/>
<line x1="464.4" y1="682" x2="466.9" y2="682" stroke="#000" stroke-width="1.1"/>
<text class="rb" x="463.1" y="684.3" font-size="6.9" text-anchor="end">0</text>
<line x1="464.4" y1="669" x2="466.9" y2="669" stroke="#000" stroke-width="1.1"/>
<text class="rb" x="463.1" y="671.3" font-size="6.9" text-anchor="end">10</text>
<line x1="464.4" y1="656" x2="466.9" y2="656" stroke="#000" stroke-width="1.1"/>
<text class="rb" x="463.1" y="658.3" font-size="6.9" text-anchor="end">20</text>
<line x1="464.4" y1="643" x2="466.9" y2="643" stroke="#000" stroke-width="1.1"/>
<text class="rb" x="463.1" y="645.2" font-size="6.9" text-anchor="end">30</text>
<line x1="464.4" y1="629.9" x2="466.9" y2="629.9" stroke="#000" stroke-width="1.1"/>
<text class="rb" x="463.1" y="632.2" font-size="6.9" text-anchor="end">40</text>
<line x1="464.4" y1="616.9" x2="466.9" y2="616.9" stroke="#000" stroke-width="1.1"/>
<text class="rb" x="463.1" y="619.2" font-size="6.9" text-anchor="end">50</text>
<line x1="464.4" y1="603.9" x2="466.9" y2="603.9" stroke="#000" stroke-width="1.1"/>
<text class="rb" x="463.1" y="606.2" font-size="6.9" text-anchor="end">60</text>
<line x1="466.1" y1="682" x2="517" y2="682" stroke="#000" stroke-width="1.6"/>
<line x1="479.6" y1="611.1" x2="479.6" y2="617.6" stroke="#000" stroke-width="1.5"/>
<line x1="475.1" y1="611.1" x2="484.1" y2="611.1" stroke="#000" stroke-width="1.5"/>
<rect x="470.4" y="617.6" width="18.5" height="64.4" fill="#000"/>
<line x1="505.6" y1="665.7" x2="505.6" y2="667.3" stroke="#000" stroke-width="1.5"/>
<line x1="501.1" y1="665.7" x2="510.1" y2="665.7" stroke="#000" stroke-width="1.5"/>
<rect x="497.2" y="668" width="16.7" height="14" fill="#fff" stroke="#000" stroke-width="1.5"/>
<text class="sb" x="493.5" y="590.4" font-size="9.4" text-anchor="middle">IL-4</text>
<line x1="479.6" y1="682" x2="479.6" y2="683.8" stroke="#000" stroke-width="1"/>
<line x1="505.6" y1="682" x2="505.6" y2="683.8" stroke="#000" stroke-width="1"/>
<text class="rb" x="479.6" y="691.3" font-size="7.2" text-anchor="middle">WT</text>
<text class="rb" x="505.6" y="691.3" font-size="7.2" text-anchor="middle">RelB<tspan dy="-2.8" font-size="4.5">-/-</tspan></text>
<text class="rb" x="452.1" y="639.8" font-size="8.4" text-anchor="middle" transform="rotate(-90 452.1 639.8)">pg/mL</text>
</g>
</svg>
</body></html>
